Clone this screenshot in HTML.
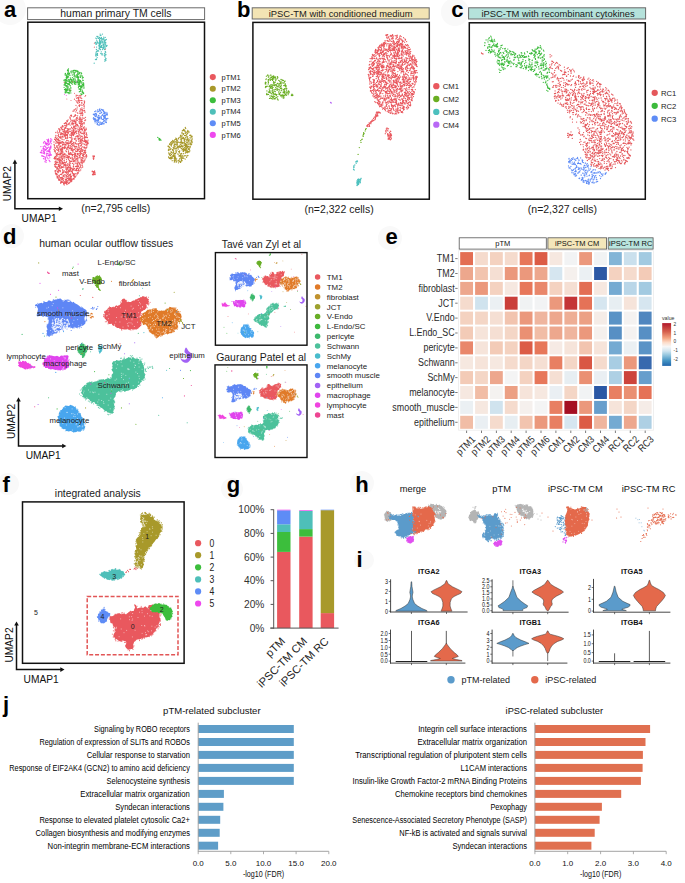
<!DOCTYPE html><html><head><meta charset="utf-8"><title>Figure</title><style>html,body{margin:0;padding:0;background:#fff;width:685px;height:883px;overflow:hidden;}svg{display:block;font-family:"Liberation Sans",sans-serif;}</style></head><body><svg width="685" height="883" viewBox="0 0 685 883" font-family="Liberation Sans, sans-serif"><circle cx="10" cy="9" r="16" fill="#f9f9f9"/><circle cx="455" cy="12" r="14" fill="#f9f9f9"/><circle cx="12" cy="236" r="12" fill="#f9f9f9"/><circle cx="390" cy="238" r="12" fill="#f9f9f9"/><circle cx="8" cy="484" r="11" fill="#f9f9f9"/><circle cx="232" cy="489" r="11" fill="#f9f9f9"/><circle cx="362" cy="483" r="12" fill="#f9f9f9"/><circle cx="364" cy="560" r="10" fill="#f9f9f9"/><path d="M56.4 145.8h0M55.9 143.3h0M68.7 170.6h0M61.7 153.6h0M74 133.9h0M55.5 173.3h0M82.4 115.4h0M76.2 131.8h0M77.6 136.5h0M74.3 138.7h0M81.6 159.7h0M73.9 144.9h0M58 135.7h0M59.2 141.8h0M77.2 165.3h0M84.5 126.8h0M74.6 149.5h0M63.8 132.9h0M54.7 139.4h0M84.3 106.9h0M73.1 175.4h0M84.1 123.8h0M66.4 175.5h0M62 141.4h0M66.8 148.4h0M78 144h0M67.6 134.1h0M76 105.3h0M57.4 131.1h0M84.4 152.4h0M62.7 129.7h0M58.2 172.5h0M70.2 141.3h0M82.8 113.8h0M87.1 145.1h0M63 131.3h0M80.8 145.5h0M82.5 163.2h0M72 130.4h0M76.7 168.3h0M80.1 140.8h0M81.4 128.4h0M73 111.2h0M86.5 137h0M82.7 118h0M63 135.8h0M85.7 130.2h0M74.3 177.2h0M85.9 142.8h0M59.9 140.4h0M73.3 127.8h0M73.3 167h0M73.5 121.2h0M80.9 143.4h0M75.3 143.2h0M78.1 138.6h0M70.6 180.4h0M77.3 166.9h0M59.3 161.2h0M58.9 175.4h0M61.6 181.3h0M59.5 136.9h0M79.1 101.7h0M75.7 143.7h0M81.1 123.1h0M68.6 177.8h0M73.8 159.8h0M55.9 158.8h0M56.2 173.7h0M65.7 147.2h0M64.5 164.9h0M71.4 115.2h0M79.5 147.1h0M70.5 179.8h0M82.5 136.9h0M83 133.6h0M82.9 160.4h0M68 129.7h0M63.1 182.1h0M64.7 130.5h0M67.2 140.5h0M60.9 143.1h0M62 150h0M80.1 156.2h0M84.6 133.3h0M85 153.6h0M82.2 111.9h0M71.5 171.3h0M82.7 149.9h0M77.7 159.2h0M57.6 171.4h0M75.8 153.5h0M80 143h0M88 142.2h0M70.6 158.4h0M75.4 154.9h0M64.5 148.5h0M78.1 157.7h0M71.9 139.7h0M58 176.3h0M69.9 170h0M69.6 122.9h0M58.8 144.8h0M58.5 170h0M84.9 160.1h0M85.2 141.5h0M54 142h0M64.9 171.8h0M64 131.8h0M68.8 123.5h0M57.4 171.3h0M71.7 116.2h0M73.1 161.5h0M79.5 138.5h0M76.4 124.4h0M65.9 125.4h0M64.4 147.6h0M85.5 142.5h0M62.9 148.6h0M80.1 135.3h0M72.2 132.2h0M58.3 143h0M84 118.4h0M62.6 134.1h0M85.2 140.4h0M72.1 158.2h0M79.1 155.3h0M69.9 147.1h0M76.4 125.9h0M62.7 154.3h0M74.2 133.1h0M70 181.9h0M84.7 140.6h0M62.5 182h0M77.4 135.9h0M79.7 143.1h0M64.2 181.3h0M67.6 176.7h0M67.1 131.9h0M66.2 181.6h0M55.6 140.4h0M82.2 165.5h0M62.9 163.8h0M75.4 122.4h0M64.9 123.5h0M70.5 181.7h0M67.4 121.4h0M71.1 179.3h0M81.9 163.1h0M80.9 151.9h0M65.1 130.9h0M78.7 138.2h0M68.4 153h0M58.1 171.8h0M73.7 131.9h0M59.3 175.5h0M65.3 133.8h0M70.5 170h0M84.1 138.4h0M74.7 152.9h0M62.8 151.2h0M77.6 115.8h0M61 167.9h0M73.1 154.6h0M59.6 159.4h0M64.8 148.4h0M68.4 173.8h0M68.7 170.1h0M84.7 139.4h0M54.4 147.1h0M66.8 143.1h0M63.8 144.5h0M57.7 141.9h0M85.5 153h0M59.5 167.1h0M68 172.3h0M72 132.8h0M62.5 161.9h0M55.3 148h0M55.2 171.6h0M74.8 147h0M64.6 135.9h0M68.8 156.3h0M71 120.1h0M81.1 139.1h0M56.8 162.6h0M67.1 181.2h0M71.1 181.7h0M59.7 167.3h0M59.4 176.6h0M82.4 112.3h0M71.6 127.2h0M81.3 109.8h0M76.1 130.7h0M73.3 149.5h0M67.7 168.1h0M80.6 137.8h0M62.8 154.6h0M74.3 156.7h0M75.4 136.9h0M76.7 101.9h0M61.7 149.8h0M61 153.3h0M58.6 180h0M73.5 129.9h0M69.4 180h0M62.6 177.2h0M72.5 134.7h0M55.9 166.5h0M60.9 151.9h0M76.3 169.5h0M64.7 125.6h0M70.1 163.3h0M78.2 172.2h0M63.2 147.3h0M81.4 144.7h0M84.6 101.3h0M62.1 163.5h0M75.9 159.2h0M88.1 140.1h0M78.2 173.2h0M79.2 148.7h0M61.3 153.2h0M78.1 154.1h0M79.6 105.6h0M66.6 169.8h0M82.7 153.9h0M61.1 127.3h0M78.9 131.4h0M87.5 143h0M69.1 166h0M78.5 145.9h0M71 142h0M60.3 142.2h0M56.7 167.3h0M81.4 153.6h0M67.9 133.7h0M56.9 175.9h0M71.4 132.4h0M62.1 139.4h0M80.2 164.3h0M66.1 127.9h0M83.3 156.5h0M59.8 137.5h0M74.1 110.8h0M84.8 120.3h0M64.4 160.1h0M65.3 144.6h0M57.4 132.8h0M81.6 162.6h0M60.7 154.5h0M61.1 133.2h0M67.8 167.6h0M71.4 154h0M58.8 151.6h0M73.9 164h0M61.9 161.7h0M80.9 159.8h0M77.6 154.8h0M64.8 153.7h0M68.5 166.8h0M75.9 121.4h0M69.8 153.1h0M76.7 166.5h0M86.7 144.3h0M74 146.2h0M71.8 154.6h0M72.1 135h0M61.2 158.4h0M68.6 159.6h0M86.7 145h0M81.9 133.5h0M58.4 166.3h0M76 140.1h0M61.8 182.3h0M76.2 169.9h0M70.2 125.1h0M58.3 171.2h0M83.6 122.8h0M62.7 136.4h0M62.4 125.8h0M68.9 154.4h0M66.5 179.3h0M55.9 170.7h0M81 129.6h0M85 152h0M72.4 163.4h0M84.7 147.4h0M55.9 139.9h0M71 142.5h0M70.2 148h0M83.2 132h0M88.2 143.6h0M75.7 128.9h0M66.7 140.5h0M80.8 118h0M68.6 147.3h0M64.1 170.7h0M71.5 123.2h0M65.4 127.1h0M74.4 154.2h0M55.3 161.7h0M75.1 156.2h0M85.7 152.2h0M75.8 159.5h0M77.7 118.1h0M69.9 165.1h0M85.8 156h0M82.6 167.2h0M62.9 125.8h0M65 136.8h0M74 178.5h0M54.1 158.4h0M62.4 162.6h0M55.6 166.1h0M83.8 162.3h0M75.8 160.6h0M78.9 101h0M76.6 169.8h0M64.8 162.3h0M83.9 141.5h0M66.7 149.1h0M66.6 155.1h0M68.5 132.9h0M78.4 170.7h0M74.9 126.4h0M84.9 132.2h0M74.9 176.5h0M68.6 150.1h0M63.5 172.7h0M56.9 147.3h0M60.9 164.1h0M62.1 151.8h0M70.1 117.6h0M80.1 167.6h0M57 168.9h0M62 149.5h0M84.8 144.6h0M74.5 116.2h0M60.2 159.9h0M73.6 134.4h0M81.4 113.3h0M65.9 144.4h0M70.9 148.4h0M81.1 136.4h0M80.7 169.9h0M73.4 174.4h0M74.8 133.9h0M67.6 138.3h0M55.5 167.2h0M59 164.5h0M77.5 125.5h0M80.4 109h0M61.6 179.8h0M84.9 111.9h0M75.8 138.6h0M82.6 140.8h0M78.8 147.3h0M84.3 122.8h0M65 177.1h0M77.2 118h0M64.1 183.6h0M82.1 129.1h0M60.4 137.2h0M61.5 148.8h0M60.2 165.8h0M75.1 142.3h0M61.1 152.3h0M82.2 149.8h0M56.2 162.6h0M65.6 171.9h0M70.5 174.5h0M60.4 171h0M59.6 131.7h0M54.1 144.4h0M78.7 132.6h0M56 174.5h0M71.2 143.8h0M62.6 169.8h0M57.3 159.7h0M54.5 151.2h0M72.1 160h0M84.2 161.2h0M58.2 142.2h0M58.7 150.5h0M59 148.9h0M59.6 170.5h0M67.5 135.9h0M72.2 133.8h0M81 128.9h0M65.6 137.2h0M83.5 104.6h0M68.6 154h0M76 169.1h0M63.2 157.9h0M72.8 178.9h0M62.6 144.4h0M76.5 110.3h0M87.3 143.9h0M70.2 145.6h0M68.1 124.6h0M57 146.7h0M75.2 148.7h0M60.9 160.7h0M73 152.3h0M71.8 132.7h0M62.2 147.5h0M63.8 184.3h0M80.8 113.5h0M84.3 137.6h0M67.4 137.6h0M79.7 113.2h0M66.2 157.7h0M79.7 163.5h0M70.5 167h0M68.5 166.9h0M75.1 132.4h0M69.9 161.7h0M67.5 147.4h0M65.1 167.2h0M71.3 137.9h0M65.2 172h0M73.6 142.5h0M80.9 146h0M72 144.2h0M67.5 130.5h0M66.2 181h0M67.9 147.9h0M69.3 153.3h0M65.9 145.3h0M82.7 143.8h0M85.1 158.9h0M71.5 116.1h0M75.9 151.5h0M68.3 167.3h0M78 100.3h0M83.3 150.1h0M60.8 142.5h0M63.2 155.2h0M72.1 170.3h0M82.1 105.3h0M80.8 127.6h0M57.4 177.2h0M66.1 138.4h0M87.4 137.5h0M82.4 125.9h0M87.4 142.3h0M62.4 133.3h0M70.8 167.7h0M60 130.6h0M57.9 145.6h0M82.7 130h0M55.1 156.7h0M59.3 160.3h0M63.3 171.3h0M69.4 171.4h0M59.5 130.1h0M67.1 181.8h0M87.1 143.1h0M63 176.8h0M66.7 121h0M61.3 174.5h0M71.8 146.3h0M80.8 132.9h0M73.7 126.5h0M65.1 156.6h0M73.5 130.9h0M63.8 134.4h0M77.6 156.7h0M68.3 156.3h0M62.6 172.3h0M75.8 115.5h0M60.2 171.7h0M78.9 121.8h0M77.8 129.8h0M55.4 172.9h0M67.6 163.8h0M68.7 179.4h0M79.7 170.9h0M68.8 143.7h0M58.4 165.1h0M78.4 168.8h0M72.9 121.3h0M66.4 135.2h0M77.3 120.3h0M71.9 138h0M58.9 148.1h0M82.4 146.8h0M59.8 156.9h0M70 165.4h0M60.8 159.9h0M56.8 161.2h0M54.9 166.1h0M65.1 131.5h0M66.8 171h0M55.3 148.4h0M82.5 160.3h0M86.9 142.2h0M56.7 158.8h0M69.4 182.8h0M55.3 137.5h0M63.8 156.5h0M68.6 128.9h0M77.1 170.5h0M73.6 129.7h0M75.2 125.4h0M87.2 141.1h0M64.3 129.3h0M66.9 149.6h0M72.4 148.2h0M62.7 141.8h0M61.8 148.9h0M71.8 150.3h0M84 147h0M73.5 166.2h0M81 104.9h0M68.8 175.9h0M84.3 148.1h0M65.8 165.2h0M82.7 110.5h0M55.4 151.6h0M73.1 168.6h0M86.2 157.7h0M60.6 138.2h0M74.2 109.7h0M57.8 168.4h0M73.2 124.8h0M72.7 158.9h0M59.2 142.9h0M81.8 103h0M82.5 158h0M67.6 174.6h0M85.1 150.3h0M59.8 130.8h0M74 133.1h0M54.1 149.5h0M54.6 139.2h0M63 148.6h0M73.5 165.8h0M80.9 154.1h0M66.6 124h0M64.5 165.2h0M71.7 154.2h0M73.1 134.7h0M70.7 131.4h0M62.1 129.8h0M69.4 148.6h0M64.7 162.1h0M80.9 136.6h0M56.3 141.4h0M61.5 134.1h0M74.9 173.8h0M60.8 162.7h0M84.5 129.1h0M60.5 145.9h0M65.3 164h0M68 158h0M55.9 135.4h0M75.8 128.6h0M74.8 121.9h0M79.2 128.1h0M57 169.5h0M72.7 150.3h0M76.8 151.4h0M79.8 122h0M80.5 166.3h0M63.6 144.7h0M76.8 166.1h0M56 142.9h0M60.2 180.3h0M71.3 154.3h0M81.8 139.3h0M56.2 155.1h0M84.1 105.1h0M68.2 178.5h0M75.8 119.1h0M63.1 137h0M61 164.8h0M64.3 184.9h0M84.2 122.8h0M82.6 124.1h0M70.8 176.1h0M77.7 151h0M74.1 175.4h0M84.7 130.8h0M78 103.2h0M62 136.8h0M84.6 110.3h0M58.6 136.6h0M71.2 178.5h0M61.4 182.6h0M79.4 123.3h0M71.7 134.9h0M76.7 146.5h0M78.9 134.1h0M68.5 183.1h0M67.4 135h0M67.1 120.6h0M58 172h0M65.2 155.2h0M64.9 183h0M75.9 163.5h0M78.8 133.6h0M75.3 157.8h0M75.8 146.4h0M70.4 161.6h0M70.5 118.9h0M86.3 145.2h0M72.3 169.5h0M59.9 170.2h0M76.3 170.7h0M84.2 103.7h0M66.3 168.6h0M70.6 168.2h0M59.1 158.1h0M72.1 120.3h0M65.8 132.5h0M60.9 148.7h0M60.1 161.3h0M57.1 154.3h0M60.9 136.1h0M75.5 131.7h0M69.3 131.4h0M64.2 134.8h0M82.2 130.1h0M74.1 179h0M77.1 128.1h0M80.3 132.4h0M71.2 177h0M54.8 150.6h0M70 171.7h0M70.4 176h0M71 143.7h0M77.3 163.2h0M55.3 158.1h0M80.7 165.7h0M78.7 141.2h0M78 135.7h0M59 128.6h0M63.1 126.7h0M83.9 147.5h0M72.6 131.9h0M71 149.9h0M72.5 134.9h0M65.2 123.4h0M64.1 160.7h0M74.6 138.8h0M69.4 175h0M69 154.6h0M84 106.1h0M60.2 178.8h0M81.8 142.5h0M77.5 125.2h0M77.8 113.2h0M65 147.9h0M59.2 168.3h0M76.3 119.1h0M57.2 139.7h0M68.9 158h0M64 129.7h0M71.2 179.4h0M70.8 173.8h0M63.4 176.3h0M61.8 179h0M86.9 156.1h0M65.5 138.4h0M57.2 147.1h0M74.7 139.4h0M58.5 149.4h0M67 156.6h0M59.8 180.4h0M58 142.4h0M58 140h0M72.6 143.3h0M60.8 134.5h0M71.4 176.1h0M86.8 141.7h0M73.8 158.8h0M80.1 113.1h0M64.1 176h0M74.1 120h0M81.3 160.7h0M62.5 151.2h0M55.3 152.8h0M82.3 129.2h0M70 178.6h0M86.7 135.2h0M77.6 112.9h0M65.5 183.3h0M81.5 141h0M78.9 129.8h0M58.6 170.7h0M81.9 150.4h0M82.7 167h0M64.3 182.1h0M62.2 142.1h0M77.8 160.7h0M81.3 167.8h0M56.9 155.7h0M65.8 150.8h0M81.6 100.4h0M68.5 151.6h0M83.4 152.9h0M69.3 156.4h0M58.1 158.3h0M82.6 115.7h0M85 152.1h0M67.7 142.7h0M82.9 113.9h0M69.8 169.1h0M84 143.9h0M56.5 153.3h0M76 132.1h0M66.6 183.4h0M83 158.4h0M69.5 164.1h0M79.3 164h0M85 112.3h0M80 154.8h0M80.5 124.9h0M68.6 183.5h0M82 157.8h0M58.8 144.1h0M59.6 163.1h0M67.3 182.6h0M60.8 127.4h0M67.4 182.3h0M61 177.6h0M83.1 154.4h0M70.3 147.7h0M80.2 123.5h0M85.9 145.2h0M75.9 122.2h0M55.3 170.6h0M66.2 180.3h0M80.2 157.9h0M82.1 109.5h0M78.1 166.2h0M67.6 168.8h0M60.4 174.4h0M72.1 157.2h0M58.6 128.9h0M68.3 142.9h0M77.2 149.3h0M77.3 164.4h0M82.6 155.4h0M58.5 160.1h0M75.3 123.5h0M75 170.4h0M66.5 159.7h0M83.2 127.8h0M75.9 111.9h0M56 138.1h0M65.8 128.3h0M61.5 167.8h0M55 166.4h0M71.5 136.2h0M75.9 161.9h0M67.9 143.7h0M61.8 174.1h0M58.6 138.8h0M78.6 138.8h0M60.5 134.4h0M60.7 162.9h0M79 105.4h0M75.9 122.5h0M59.6 154h0M66.3 176.8h0M59.3 166.4h0M70.5 170.2h0M57.7 148.1h0M67.3 169.3h0M74.3 132.4h0M84.8 141.4h0M74.3 154.3h0M55.8 140.2h0M77.4 161h0M76.6 159.1h0M58.8 177.6h0M61.9 133.5h0M82.7 154.1h0M81.9 103.3h0M62.3 179.5h0M54.5 164.7h0M82.1 113.9h0M57.6 167.2h0M73.3 170.1h0M75.5 150.8h0M64.1 133.9h0M82.2 139.1h0M76.6 117.7h0M66.7 125.9h0M59.1 151.8h0M80.7 100.6h0M57.9 159.1h0M72.1 138.9h0M75.2 155.4h0M79.5 168h0M83.1 161.2h0M77.7 172.6h0M69.3 160.3h0M64.4 129.8h0M57.2 137.8h0M86 128.1h0M64.8 153.5h0M72.4 155.5h0M86.6 134.8h0M77.9 159h0M80.2 121.2h0M54.9 159h0M63 182.4h0M74.5 156h0M78.2 126h0M80.8 115.2h0M64.5 134.9h0M69.4 162.2h0M86.4 129.2h0M55 170.8h0M74.4 156.5h0M67.3 155.7h0M66.6 161.7h0M81.4 121.5h0M81.7 124.4h0M80.6 119.1h0M61.5 132.8h0M76.3 140.3h0M55.7 156.7h0M57.9 139.3h0M70.3 180h0M73.5 174.3h0M72.2 120.5h0M84.1 118.1h0M63.2 178.9h0M79.4 106.4h0M70.7 115.4h0M76.7 144h0M70.3 163.2h0M62.1 142.6h0M66.7 177.1h0M61.8 151.1h0M80 149.8h0M67.9 158h0M71.8 181h0M65.1 134.8h0M77.2 102h0M59.6 170.7h0M75.1 122h0M73.5 160.8h0M74.2 175.7h0M69.7 134.9h0M77 173.5h0M63.3 180.4h0M72.4 172.5h0M76.7 143.8h0M62.4 156.2h0M72.2 157.8h0M79.8 153.3h0M77.4 168.3h0M70.5 157.9h0M81.3 119.9h0M79.6 130.7h0M80.7 110.9h0M58.6 134.7h0M56.6 149.7h0M74 130.4h0M54.5 157.7h0M66.8 182.2h0M83.1 154.8h0M80.6 125.7h0M82.6 151.3h0M84.4 150.3h0M54.4 145.7h0M59.9 159.4h0M65.6 144.6h0M68.5 140.9h0M57.1 153.3h0M63.1 167.6h0M65.8 142h0M86.3 147.9h0M59.3 159.2h0M78.9 119.6h0M81.9 108h0M60.6 160.4h0M81.5 119.7h0M77.1 148.3h0M60.6 149.7h0M76 120.6h0M68.7 145.5h0M55 161.9h0M64 154.6h0M75.4 177h0M64.8 156.6h0M82.8 161.2h0M81.6 126.4h0M59.2 179.6h0M70 116.9h0M71.6 144.5h0M78.9 145.2h0M70.8 121.6h0M61.6 127.2h0M78.8 165.8h0M69.5 179.2h0M75.5 109h0M76.1 123.8h0M70.2 152.9h0M56.3 164.1h0M64 165.6h0M72.5 171.1h0M60 165.3h0M70.4 181.7h0M64 139.7h0M79.5 111.1h0M83.7 127.4h0M79.9 129.2h0M68.5 170.2h0M75.1 176.8h0M65.3 172.5h0M63.2 131.2h0M66.2 132.3h0M61.8 177.7h0M76.1 175.8h0M62.4 178.5h0M82.3 121.6h0M67.2 171.7h0M72.7 128.7h0M66 172.1h0M79.9 157.8h0M69.8 129h0M79.8 116.9h0M67.9 168.5h0M64.7 154h0M70.3 176.8h0M64.8 174.6h0M57.6 150.2h0M72 141.3h0M84.6 156.8h0M66.5 131h0M55.1 150.5h0M78.9 136.7h0M72.2 170.1h0M64.4 128.1h0M60.4 146.7h0M60.3 177.7h0M71.4 176.7h0M87.2 143.6h0M81.9 136.2h0M71.8 140h0M80 120.2h0M85.5 117.3h0M79.1 164h0M81.7 157.9h0M70 154.5h0M65.6 165.5h0M75.5 125.9h0M64.9 143.1h0M70.6 137.6h0M70.9 180.7h0M60.8 150.6h0M68.7 130.1h0M79.3 130.3h0M86 134.3h0M64.3 147.3h0M66.7 172.7h0M74.5 157.8h0M86.9 146.9h0M81.8 102.3h0M70.6 142.3h0M85.1 129.9h0M86.3 154.6h0M65.5 133.1h0M81.3 122.3h0M67.4 131h0M72.7 123.6h0M82 112.5h0M73.1 178.7h0M86.2 137.1h0M57.2 174.5h0M78.6 153.8h0M79.6 105h0M77.7 102.9h0M81.5 149.2h0M84.7 151.3h0M67.7 180.6h0M85.8 147.9h0M60 132.7h0M68.4 157.2h0M79.3 134.9h0M64.9 132.2h0M65 164.7h0M59.1 165h0M85.6 150.1h0M84.3 137.7h0M62.9 162.4h0M57.3 142.2h0M61.4 155.9h0M66.8 178.6h0M82.1 164.8h0M84 134.3h0M59 158h0M58.5 154.4h0M62.6 169.6h0M70.3 161.4h0M65.9 179.7h0M58.7 169.6h0M60.4 142.7h0M59.6 179.4h0M61.6 177.4h0M72.5 173h0M57.3 178h0M77.7 163.6h0M70.1 170.3h0M73.2 134.6h0M58.7 140.2h0M63.2 131.4h0M80.5 150.3h0M84.8 131.4h0M66.5 181.1h0M72.9 173.7h0M66.5 151.7h0M61.1 143.3h0M83.1 157.1h0M78.8 100.2h0M68.8 182.8h0M85.4 150.3h0M63.2 175.2h0M65.2 182.5h0M59.5 162h0M66.4 176.9h0M74.4 168.4h0M71.4 149.1h0M68.3 146.4h0M55.9 136.1h0M67.4 128.7h0M61.7 157.2h0M69.7 143h0M75 115.5h0M76.5 136.2h0M71.8 180h0M83.5 155.3h0M78.9 143.6h0M77.3 137h0M57.1 177.1h0M61.7 134h0M57 158.7h0M65.6 122.7h0M61.7 134.2h0M57.4 142.9h0M60.7 157.2h0M82.3 140.4h0M78.2 149.4h0M55.5 161.1h0M74.2 161.7h0M78.2 131.3h0M63.6 183.5h0M84.1 154.4h0M84.3 161.2h0M67.2 157.3h0M73.6 116.8h0M70.8 128.8h0M71.7 150.2h0M63.6 142.9h0M68.5 156.7h0M72.5 123.6h0M78.5 166.7h0M62.6 179h0M67 124.8h0M78.6 169.9h0M79.4 118.2h0M66.4 126.2h0M80.2 162.6h0M62.1 167h0M77.5 154.2h0M61.9 128.8h0M81.7 162.9h0M66.8 123h0M84.2 137.5h0M64.9 183.2h0M83.7 128.3h0M85 136.5h0M80.9 132h0M85.4 137.5h0M74.7 121.8h0M67.5 132.4h0M66.9 165h0M77.6 153.3h0M54.6 157.6h0M85.6 119.9h0M74 127.5h0M65.3 155h0M64.8 135.6h0M62.3 173.2h0M74.4 132.2h0M81 140.9h0M55.8 132.5h0M75.7 166.4h0M73 133.1h0M70 118.1h0M69 143.4h0M78.4 144.1h0M59.8 143.6h0M66.9 173.5h0M84.5 130.6h0M75.4 148.1h0M57.9 156.1h0M65.3 128h0M65.7 135.6h0M66.5 134.3h0M77 156.8h0M68.1 119.9h0M69.9 171h0M79.5 102.5h0M71.2 140.3h0M59.9 155.1h0M62.9 155h0M75.3 114.7h0M64.9 147h0M70.8 152.7h0M64.7 158h0M75.4 166.6h0M61.7 137.8h0M73.7 164.3h0M69.6 182.8h0M60.1 170.7h0M82.9 158.8h0M63.6 178.6h0M82.2 162.5h0M75.3 173.6h0M78.3 139.6h0M63.7 163.6h0M62.5 159.4h0M66.8 143.5h0M54.8 164.4h0M84.5 130.5h0M66 162.5h0M68.1 144.8h0M86 140.3h0M66.2 169.4h0M63.5 154.3h0M67.1 149.4h0M62.8 170.9h0M74.9 153.5h0M81.3 157.9h0M69.1 157.5h0M84.1 133.1h0M60.3 149.3h0M70.5 145.9h0M71.5 171.5h0M80.7 148.7h0M61.5 166.7h0M79.3 119.5h0M76.5 131.7h0M56.2 154.9h0M59.3 147h0M57.4 171.6h0M62.6 125.6h0M66.9 167.3h0M55.2 164.6h0M86.4 133.5h0M69.3 137.3h0M82.9 140.6h0M68.1 176.1h0M77 147.8h0M74 120.9h0M84.1 106.8h0M75.8 154h0M78.8 162.2h0M76.3 156.1h0M74.7 128.8h0M77.3 124.5h0M64.6 146.6h0M57.9 162.4h0M71.4 135.4h0M67.3 137.2h0M83 133.6h0M69.6 174.6h0M69.3 165.1h0M59.2 144.3h0M73.5 135.5h0M69.4 178.2h0M74.4 160.7h0M78.9 101.7h0M58.3 140.4h0M58.7 170.1h0M55.5 163.4h0M86.9 134.9h0M84 108.6h0M78.1 150.2h0M63.6 142.4h0M69.2 124.1h0M64.3 123.5h0M56.9 168.4h0M71.5 161.4h0M68.3 176.2h0M76.5 169.1h0M56.7 173.7h0M62.9 152.6h0M70 160.9h0M77 108.9h0M76.6 158.7h0M60.6 182h0M68.7 132h0M79.7 155.5h0M73.8 144h0M62.3 163.4h0M63.2 167.2h0M64.8 131.5h0M61.3 128.7h0M59.3 161.2h0M83.5 128.1h0M78.7 149.7h0M66.9 184.5h0M58.2 172.4h0M78.7 169.1h0M73.1 169.4h0M72.7 122.7h0M60.6 160.5h0M81.1 153.7h0M65.3 179.2h0M86.4 155.1h0M70 164.9h0M57.7 152.9h0M62.6 158.4h0M65.6 181.1h0M69.5 167.7h0M56.6 138.6h0M70.7 135.2h0M68.3 172.6h0M74.4 120.3h0M71.1 133.7h0M71.5 127.6h0M68.7 171.4h0M63 153h0M72.8 132.1h0M81.8 151.1h0M74.8 174.4h0M74 132.4h0M80.5 152.7h0M72.9 179.3h0M85.8 148.3h0M54.9 139.3h0M70.6 154.2h0M65.1 174.8h0M81.8 120.3h0M61.8 160.2h0M75 127.8h0M62.5 144.1h0M66 168.6h0M73.4 166.1h0M67.8 146.8h0M82.2 119.6h0M80.6 166h0M77.8 158.4h0M73.7 123.5h0M84.9 120.7h0M80.6 126.2h0M63.7 165.9h0M82.4 113.6h0M66.1 175.1h0M56.5 164.3h0M77.2 107.1h0M77.1 174.6h0M62.3 167.4h0M81.3 145.4h0M58.3 132.9h0M63.7 163.1h0M76.2 141h0M73.7 173.7h0M80.7 113.4h0M58.2 154.4h0M86.1 156.4h0M71.9 124.6h0M70.2 177.9h0M86.2 140.8h0M58.7 178.7h0M84.4 135.3h0M67 170.8h0M80.2 140h0M60.8 168.3h0M67 135.4h0M72 149.8h0M74.5 146.4h0M62.6 126.9h0M66 166.8h0M62.1 166.6h0M72.7 145.5h0M56.2 157h0M67.2 178.5h0M76.7 119.2h0M75.7 123.8h0M82.4 138.7h0M66 168.9h0M76.7 133.5h0M60.6 183.2h0M72.5 154.5h0M81.2 161.4h0M62 160.1h0M79.1 129.9h0M73.9 169.6h0M67.1 184.2h0M84.5 102.5h0M67.5 165.7h0M61.2 167h0M80.3 141.8h0M80.8 118.6h0M80.6 154.4h0M79.5 157.1h0M72.6 151.1h0M58 164.2h0M63.3 175.5h0M63.8 164h0M62.6 149.4h0M64.5 144.9h0M79.2 129.3h0M81.5 148h0M62.2 145.7h0M66.1 142.6h0M60.6 153.5h0M59.1 145.1h0M83.9 110.8h0M80.6 140.2h0M65.7 134h0M65.9 182.5h0M60.9 146.6h0M58 172.5h0M80.1 151.3h0M79.1 127.1h0M68.2 164.1h0M86.5 132.8h0M70.4 169.4h0M56.7 173.4h0M68.7 183.2h0M79.3 151.7h0M86.1 137.5h0M82.3 123.5h0M77.1 149.8h0M68.3 180.8h0M71.1 142h0M71.8 168.5h0M84.5 135.9h0M62.2 139.3h0M73.8 176h0M58.2 135.7h0M86 141.4h0M78.2 162.3h0M64.4 162.3h0M73.3 150.8h0M59.8 129.4h0M79.9 155.3h0M71.9 148h0M76.5 156h0M79.4 100.3h0M80.4 95.9h0M78.5 97.9h0M78.6 98.9h0M77.7 97.7h0M78.5 97.6h0M85.6 95.6h0M78.1 98.1h0M80.7 97.6h0M76.1 95.1h0M76.7 98.3h0M77.2 95.4h0M76.1 96.8h0M82.1 100.6h0M79.1 97.7h0M76 100.6h0M84.2 101h0M74.5 99.2h0M79 96h0M81.7 98.3h0M81 95.7h0M80.7 97.9h0M93.2 156.5h0M94.2 156.5h0M93.8 158.7h0M93.5 159.3h0M93.7 157.8h0M94.4 156.5h0M94.2 155.8h0M93.4 157.8h0M93.3 157.6h0M93.3 158.5h0M93 156.2h0M93 155.9h0M92.5 171.5h0M93.3 172.3h0M95 172.3h0M93.9 172.3h0M95.1 174.6h0M93.7 174.6h0M93 174.9h0M94.1 173.6h0M93.5 171.7h0M92.5 174.5h0M93.4 173.6h0M93.8 172.9h0M92.8 171.3h0M93.3 173.6h0M94.8 172.4h0M92.3 171.7h0M92.8 174.2h0M94.2 172h0M93 171.8h0M93.1 172.1h0M95.2 174h0M94.8 174.5h0M94.6 171h0M92.2 171.2h0" stroke="#E9585E" stroke-width="1.3" stroke-linecap="round" fill="none"/><path d="M174 146.1h0M188.2 148.2h0M192.2 136.3h0M188.9 131.3h0M184 139.9h0M189.9 137.8h0M183.7 151.6h0M168.6 149.1h0M178.5 160.6h0M183.4 150.8h0M180.4 144.2h0M181.5 153.3h0M190 144h0M168.6 157h0M171.1 148.8h0M187.2 131.7h0M174.9 157.7h0M184.9 131h0M184.8 155.7h0M184.1 138.6h0M177.2 147h0M181.4 141.6h0M187.7 130.3h0M175.8 160.7h0M186.8 146.4h0M187.3 147.7h0M170 158.6h0M175.6 141.8h0M185.3 155.7h0M186.7 152.1h0M176.9 139.5h0M171.4 157h0M179.1 156.3h0M176.1 138.7h0M180.4 153.9h0M189.7 139.8h0M185 141.6h0M181.5 140.2h0M174.4 159h0M187.7 138.1h0M187.9 146.1h0M181.5 146.5h0M177.8 147.2h0M184.4 150.2h0M187.8 152h0M187.1 132.6h0M180.9 154.8h0M171.4 146.1h0M177.5 144.3h0M174.5 161.7h0M187.2 151.6h0M175.2 153.4h0M179.8 155.8h0M176.7 158.8h0M184.8 143.3h0M181.7 156.1h0M180.8 161.7h0M185.5 144.7h0M188.9 132.5h0M176 152.8h0M188.2 140.5h0M169.4 147.6h0M181.6 143.1h0M175.3 148.8h0M176.2 162.2h0M170.7 142.3h0M180.8 137.9h0M184.5 147.3h0M182.6 137.9h0M186 151.9h0M185.5 144.1h0M179.2 137.4h0M183 133.8h0M174.3 153.7h0M176.3 148.6h0M170.3 157.5h0M176 159.8h0M175.8 138.1h0M182.4 156.8h0M169.1 146.6h0M181 161.6h0M191.3 136.6h0M181.6 140.1h0M182.1 160.7h0M174 156.7h0M191.3 136.3h0M176.8 148h0M173.5 152.6h0M183.9 130.5h0M185.1 139.6h0M179.1 155.7h0M180.9 137h0M180.6 162.4h0M185.9 151.2h0M188.7 141.8h0M181.6 157.7h0M172.5 158h0M168.1 146.4h0M182 132.4h0M190.7 142.9h0M172.2 141.9h0M182.4 142.5h0M185.5 131.8h0M173.9 156.2h0M186.5 148.7h0M185 131h0M173.1 142.9h0M192.3 138.8h0M175.5 144.2h0M171.6 141.6h0M185.1 138.8h0M187.6 133.7h0M170.1 149.7h0M178.9 160.2h0M170.1 154h0M184.4 140.4h0M170.7 149.1h0M186.6 144.1h0M179.4 151.8h0M182.9 142.3h0M172.2 143.8h0M181.4 159.4h0M183.4 153.7h0M173.7 152h0M191.2 142.8h0M183.9 158.3h0M175.2 144.3h0M186.3 149.8h0M168.2 146h0M183.4 134.4h0M189.1 142h0M191.7 140h0M183.1 146.6h0M174.1 155.2h0M175.6 158.9h0M175 149h0M187.9 131h0M187.1 141.2h0M180.7 142.3h0M178.5 162.8h0M186 152.3h0M188.4 151.3h0M183.4 138.4h0M174.2 160.3h0M176.1 139.7h0M170.3 153.2h0M187.9 155.5h0M187.5 131.4h0M180.5 135.5h0M192.3 142h0M186.9 156h0M186.4 135.2h0M175.7 139.4h0M185.2 145.8h0M186.8 139.2h0M177.9 153.9h0M185.2 159.1h0M175.3 157.6h0M186.1 147.7h0M177.8 147.5h0M168.7 152.9h0M185.9 149.3h0M172.7 153.1h0M188.3 149.4h0M173.2 147.4h0M171.2 158.2h0M175.1 146.5h0M179.6 159.8h0M182.1 150.1h0M182.2 155.4h0M173.1 150.8h0M174 140.9h0M175.7 142h0M176.6 138.8h0M186.1 144.8h0M190.2 143.6h0M172.7 156.6h0M180.1 147.3h0M183.1 151.3h0M183.3 149.4h0M169.4 154.8h0M172.5 158.1h0M177.1 160.8h0M174.1 147.8h0M184.5 135.5h0M187.6 133.7h0M183.6 150h0M180.7 157.8h0M186.5 134.7h0M189.8 150.7h0M182.4 146.2h0M181.8 148.7h0M169.5 154.9h0M173.6 148.3h0M180.8 139.3h0M191.3 141.3h0M178.2 146.5h0M186.9 146.5h0M185.6 150.1h0M186.7 134.9h0M181.8 142.9h0M173.3 155.2h0M173.1 152.7h0M179.8 142.5h0M185.3 153.2h0M187.7 136.6h0M184.4 144.9h0M191.2 143.2h0M179.3 146.3h0M171.8 143.1h0M176.3 145.1h0M180.9 141.1h0M174.6 139.8h0M175.5 153.8h0M179.9 155.8h0M172.7 140.4h0M177.6 141h0M191.8 142.9h0M183.7 148.5h0M188.4 139.1h0M181 148.1h0M169.2 153.9h0M176.9 150.2h0M174.6 160.2h0M190 135.1h0M174.3 144.6h0M172.8 155.7h0M187.2 152.8h0M187.5 131.3h0M189.9 140h0M188 144.1h0M190 144.3h0M171.6 158.6h0M182 158.2h0M171.3 144.4h0M174.1 160.3h0M185.7 145.4h0M182.9 158.1h0M171 145.5h0M182.2 143.7h0M185.6 146.5h0M175.3 157.1h0M177.3 143.3h0M174 153.9h0M180.3 161.9h0M189.9 143.3h0M170.1 143.5h0M180.5 155.4h0M182.9 130.5h0M186.4 142.3h0M190.8 135.1h0M189.6 135.3h0M192 139.9h0M185.6 128.3h0M180.5 146.5h0M170 148h0M178.7 138.9h0M188.4 152h0M170.6 155.6h0M186.7 144.1h0M170.8 149.1h0M183.2 158h0M192 136.5h0M174.2 158.3h0M170.3 155.6h0M190.1 147.3h0M182.8 149.2h0M186.9 145.7h0M184 130h0M187.6 146.8h0M176.5 161.8h0M182.1 135.7h0M181.7 157.9h0M176.8 142.7h0M183.6 133.6h0M182.2 138.7h0M179.4 152.8h0M175.4 148.7h0M188.2 143.9h0M183.4 137.5h0M174 145.5h0M180.9 135.1h0M186.8 145.1h0M191.1 136h0M169.3 149.8h0M184.6 139.2h0M178.6 151.7h0M187.3 151.6h0M182.3 130.8h0M168.3 150.1h0M181.9 160.4h0M181.5 160.2h0M179.3 145.7h0M174.6 143.8h0M191.1 144.7h0M172.5 149.5h0M180.3 144.2h0M185.2 148.6h0M183.9 145.1h0M188.6 148.8h0M190.3 146.7h0M171.6 152.5h0M183.8 156.2h0M169.7 143.8h0M187.9 139.4h0M171.1 158.3h0M185.3 127.4h0M169.1 147.2h0M182 133.6h0M184 150.4h0M169.4 158.4h0M181.2 160.8h0M185.2 133.3h0M190.2 144.8h0M175.7 150.9h0M185.4 143.7h0M174.4 142.2h0M185.5 135.3h0M171.5 144.5h0M184.1 129.5h0M174.3 162.1h0M174.2 154.9h0M179.8 158.4h0M185.2 149.5h0M179.7 151h0M185 131.7h0M175.3 157.8h0M181.8 145.5h0M185.4 144.8h0M177.2 147h0M171.5 157.9h0M174.6 156.1h0M183.9 148.9h0M186.2 136.7h0M188.5 146.6h0M186.6 157.3h0M173.9 141.9h0M189.6 151.8h0M179.8 146.7h0M176.5 151.8h0M181 145h0M184.4 139.4h0M192 137.1h0M180.1 161.6h0M186.7 140.2h0M174.5 160.6h0M168.8 157.5h0M177.3 142.4h0M182.8 146.1h0M187.1 150.4h0M184 129.8h0M176.7 144.1h0M183.5 129.3h0M181.6 153.7h0M171.5 154.5h0M185.6 146.8h0M183.4 151.2h0M175.7 158h0M187.2 137.6h0M176.5 141.1h0M189 146.3h0M183.4 142.9h0M179.1 161.6h0M174.5 146h0M171.2 145.3h0M187.6 142.7h0M171 158.9h0M168.6 150.5h0M178.1 154.3h0M178.5 142.2h0M177.6 145.8h0M174.6 161.4h0M181.3 139.7h0M185.7 128.5h0M184.6 140.2h0M190.9 137.9h0M178.4 138.5h0M180.9 137.2h0M184.4 141.9h0M185.3 137.6h0M179 147.2h0M185.6 150.6h0M184.2 139.4h0M190.4 135.5h0M171.1 151.7h0M182.1 136.1h0M187.9 151.4h0M178.3 149h0M184 143h0M191.3 140.5h0M183.6 130.3h0M176.9 140.5h0M180.4 136.2h0M184.8 145.4h0M189.5 149.3h0M183.1 142.8h0M181.3 137h0M170.6 158.4h0M182 158.6h0M174.9 147.9h0M174.5 157h0M172.8 150.4h0M181.5 138.8h0M169.5 144.6h0M180.7 156.6h0M175.2 156h0M173.4 149.9h0M185.3 145h0M170.3 144.1h0M191.2 141.2h0M181.5 142.2h0M189.7 148h0M172.2 160.7h0M188.7 140.7h0M182.7 147h0M186 133h0M184 149.2h0M191.6 144.7h0M188.5 144.2h0M173 141.7h0" stroke="#A8992A" stroke-width="1.3" stroke-linecap="round" fill="none"/><path d="M65.4 83.8h0M68.3 87h0M67.4 86.6h0M77.9 78.9h0M82.3 90.2h0M79.6 84.3h0M69.2 92.4h0M70.8 90.1h0M80.4 80.5h0M77.3 82.7h0M64.1 80.7h0M65.8 90.6h0M65.6 91.7h0M68.5 72h0M79.4 86.3h0M72.3 84.2h0M74.3 82.7h0M73.4 79.3h0M78.1 71.4h0M79.6 82.8h0M71.1 71.1h0M65.7 82.7h0M82 91.3h0M67.6 88.2h0M80.5 81.1h0M81.6 73.4h0M70.7 82h0M78.8 80.3h0M70.1 91.3h0M71.9 79.5h0M68.4 81.2h0M78.4 78h0M77.5 81.5h0M69.8 82.9h0M65.1 73.9h0M67 90.9h0M69.4 81.9h0M67.4 76.6h0M82.5 80.2h0M68.6 84.2h0M66.1 82.2h0M77.2 70.8h0M75.2 76.6h0M79.2 84.7h0M82.6 84.5h0M67.6 73.4h0M65.1 79.5h0M69.7 80.8h0M81.9 83.2h0M79.2 88.6h0M69.5 84.8h0M71.6 81h0M67.3 90.5h0M67.1 76.7h0M81.4 94.4h0M68 69.4h0M79.6 72.7h0M66.4 77.9h0M65.5 80.9h0M71 87.9h0M81.3 73h0M82.8 92h0M75.5 82.4h0M67.3 76.9h0M68.4 73.7h0M76.5 77h0M79.7 83.6h0M81.3 81.9h0M76.9 74.8h0M78.2 79.2h0M78.7 83.9h0M66.7 76.4h0M76.9 82.8h0M78.6 77.2h0M73.7 81h0M74.4 75.3h0M76 75.3h0M68.1 74.6h0M82.3 78.1h0M82 87.8h0M69.4 83.1h0M76.9 71.5h0M74.5 81.5h0M77.7 76.1h0M82.6 84.9h0M65.3 90h0M82.1 76.5h0M81.1 75h0M80.4 86.6h0M83.6 83.6h0M79 86.1h0M72.1 81.6h0M74.3 74.2h0M69.2 90.7h0M81.3 86.8h0M78.1 81.9h0M64 80.2h0M73.5 70.5h0M69.1 90.2h0M64.5 89.5h0M80.3 91.3h0M69.1 93h0M71.5 80.3h0M83.5 82.8h0M77.9 71.4h0M66 90.2h0M69 93.7h0M77.8 73.5h0M78.5 76.9h0M74.7 70.5h0M81 89.2h0M70.8 71.9h0M70.5 88h0M75.5 72h0M68.8 81h0M73.1 72h0M79.3 89.4h0M70.3 82.8h0M69.2 93.6h0M70.2 79.6h0M70.3 85.6h0M82.1 86.6h0M78.8 81.8h0M79.9 86.2h0M65.1 81.1h0M69.4 84.5h0M72 80.5h0M74.9 84h0M82.2 75.9h0M69.5 73.4h0M66.1 90.8h0M81.7 94.2h0M65.2 75.1h0M69.1 80.9h0M77.9 72.6h0M66.3 77.2h0M65.9 89.5h0M80.5 90.7h0M77.3 76.4h0M68.4 92.6h0M65.8 85.5h0M66.8 86h0M77.7 74.6h0M73.7 74.1h0M81.8 85.1h0M78.1 84.8h0M65.1 91.8h0M79.9 82h0M76 81.4h0M79.4 82.5h0M69.5 82.1h0M78.7 74h0M74.3 83.8h0M75.8 80.6h0M82 82.1h0M80 86.4h0M66.3 75.3h0M70.3 77.8h0M74 76.2h0M80.4 76.9h0M66.8 89.7h0M72.4 77.7h0M82.3 92.6h0M79.7 73.1h0M68 77.4h0M67.5 81h0M66.5 85.7h0M72.3 75h0M78 77.1h0M79.4 91.6h0M69.9 75.4h0M78.2 72.3h0M83.8 85.7h0M69.7 79.6h0M76 70.5h0M83.9 88.2h0M80.6 88.2h0M67.5 74.8h0M64.6 83h0M65.5 73.5h0M67.4 92.7h0M80.1 76h0M66.7 78.5h0M80.1 82.8h0M80.3 77.4h0M78.8 81.8h0M79.6 73.7h0M69.6 74.1h0M81.4 87h0M67 87.6h0M64.6 80.8h0M69.1 88.6h0M78.7 86.5h0M67.9 69.6h0M82.4 78h0M83 85.6h0M75.1 79.4h0M70.7 78.9h0M68.4 76.7h0M79.3 91.8h0M66.4 82.1h0M79.2 89h0M71.8 72.9h0M83.7 84.5h0M77.3 77.6h0M66.1 83.5h0M75.8 84.2h0M67.7 70.9h0M78.4 87.6h0M77.6 75.2h0M65.6 88.9h0M64.1 84.9h0M74.9 70.4h0M66.2 92h0M83.2 77.5h0M68.1 72.3h0M68.3 79.5h0M70 82.3h0M66.1 86.3h0M72.2 70.9h0M73.7 78.3h0M67.5 70.5h0M75 77.9h0M84 87.1h0M76.3 75.2h0M72.8 82.4h0M71.6 83.3h0M65.7 79.6h0M80.6 87.9h0M67.9 84.7h0M67.4 77.8h0M83.5 93.5h0M83.3 80.3h0M80 85.5h0M79.9 72.4h0M65.5 82.3h0M67.5 83.4h0M80.8 93.8h0M77.7 80.1h0M72.5 80.8h0M69.6 73.1h0M82.4 78h0M81.9 83.3h0M82.4 92.1h0M78.5 80.3h0M68.8 83.3h0M70.3 90.3h0M64.7 85.2h0M70.8 79.5h0M83.6 93.6h0M74.7 83.3h0M67.9 89.3h0M82.9 84.9h0M78.2 82.9h0M66.5 80.6h0M66.6 79.9h0M65 84.5h0M68.5 74.2h0M64.1 87.3h0M75.8 81.3h0M71.1 82.3h0M70.8 90.7h0M80.6 89.4h0M74 81.6h0M68.5 68.8h0M74 80.4h0M83.6 93h0M72.2 81.5h0M66 88.3h0M74.5 72.9h0M67.8 81.1h0M69.3 89.3h0M70.8 92.9h0M70.2 90.8h0M65.9 86.2h0M82.2 94.1h0M73.8 74.2h0M66.3 74.9h0M79 83.6h0M66.5 76h0M65.2 92.9h0M79.4 80.9h0M68.1 75.2h0M67.8 85h0M76.1 82.1h0M79.8 82.4h0M70.3 86.1h0M73.9 72.2h0M79.3 79.8h0M81.2 86.1h0M83.7 83.7h0M80.4 77.4h0M65.9 92.7h0M65.1 92.8h0M83.1 85.9h0M83.4 84.5h0M79.2 84.2h0M68.4 70.6h0M79.2 80.4h0M66.4 83.2h0M159.2 140.1h0M161 140.2h0M159.7 140.2h0M159.9 138.9h0M159.4 139.1h0M157.8 137.4h0M160.2 139.5h0M159.6 138.7h0M159 138.4h0M159 139.6h0" stroke="#3CBE3C" stroke-width="1.3" stroke-linecap="round" fill="none"/><path d="M101.4 38.5h0M95.9 44h0M103.7 45h0M99.9 47.7h0M95.4 42.7h0M101.4 37.4h0M102.9 42h0M101.6 47.4h0M102.8 49h0M103.2 48.6h0M96.6 47.1h0M99 48.7h0M104.5 49.5h0M104.1 40.1h0M101.4 46.5h0M95.9 42.5h0M101.9 45.4h0M99.2 43.6h0M103.9 39.9h0M103.2 48.4h0M99.6 42.3h0M100.9 47.4h0M98.4 38.4h0M99.8 44.3h0M101.1 45.6h0M100.1 34.1h0M99.7 43h0M102.1 41.2h0M99.2 44.3h0M97.3 41.6h0M98.4 42.9h0M103.3 42.1h0M104.1 43.9h0M96.2 44.4h0M100.9 46.1h0M106.3 39.4h0M105.2 37.4h0M104.9 41h0M100.6 41.8h0M99.6 37.4h0M103.4 43.9h0M95.8 38.1h0M98.7 43.1h0M99.6 49.1h0M97.9 36.5h0M100.4 38.3h0M103.2 48.1h0M96.5 38.8h0M96.8 40.7h0M99.5 45.6h0M100.2 44.2h0M96.8 43.7h0M105.6 48.1h0M96.9 36.4h0M105.8 45.1h0M102.5 34.1h0M103.9 46.7h0M102.5 39.7h0M99.1 46.9h0M100.2 40.9h0M98.9 45.5h0M105.3 40.2h0M100.2 46.8h0M106.7 46h0M103.5 47.2h0M101.5 40h0M95.3 42.3h0M99.4 46.5h0M103.1 44.7h0M101 35.2h0M105 46.1h0M100.8 42.9h0M104.7 41.8h0M100.8 41.6h0M103.9 45.7h0M99.2 46.4h0M99.6 44.7h0M99.7 48.4h0M106.3 46.4h0M99.7 39.4h0M100.3 43.6h0M95.6 42.6h0M105.7 43h0M107 45.5h0M103.7 46h0M100.2 35.6h0M105.3 48h0M103.7 37.2h0M101.1 42.1h0M99.5 41.7h0M100.6 49.7h0M102.6 49.6h0M104.3 39.9h0M102.2 42.9h0M103.9 38.6h0M103.2 39.7h0M104.4 41.7h0M105.8 42.3h0M102.8 47.2h0M105.7 40h0M103.8 47.3h0M99.5 40.5h0M99.5 39.3h0M100.1 47.5h0M104.5 42.8h0M102.8 38.6h0M104.2 47.9h0M99.7 41.8h0M97.8 37.8h0M105.3 44.2h0M100.5 44.1h0M99.4 43.1h0M97.4 42.5h0M99 38h0M103.9 39.6h0M96.4 49.4h0M97.2 57.6h0M97.4 54.1h0M97.4 54.2h0M95.4 59.6h0M96.1 52.1h0M95.9 55.6h0M98.7 51.1h0M96 53.7h0M97.5 53.4h0M97.6 50.9h0M97.8 50.7h0M97.7 51h0M96.5 49.7h0M97.3 55.4h0M97.6 55.2h0M96.5 59.5h0M96.1 54.1h0M96.2 54.4h0M96.5 51.6h0M96.3 58.9h0M95.6 55h0M96 56.2h0M98 50.4h0M96.8 51.3h0M96.1 53.1h0M106 60.2h0M105.7 55.1h0M105 53.1h0M105 61h0M104.2 55.1h0M104.7 56.1h0M105.1 59.4h0M105.6 58.8h0M104.6 53.6h0M105.3 51.5h0M106.1 58.6h0M105.1 54.8h0M105.7 52.2h0M105 59.3h0M104.9 61.3h0M105.9 54.4h0M105.2 57.2h0M105 59.6h0M102.1 55.1h0M100.8 53.5h0M101.6 53.9h0M101.3 51.8h0M102.6 53.8h0M94.2 63.2h0" stroke="#4EBFB9" stroke-width="1.3" stroke-linecap="round" fill="none"/><path d="M94.4 43.2h0M94.4 47.2h0M105.5 49.5h0M72.3 81.8h0M64.2 82.3h0M70 90h0M74.5 93.3h0M79.3 95.3h0M66.8 99h0M71 100.5h0M85 96.5h0" stroke="#E9585E" stroke-width="1.2" stroke-linecap="round" fill="none" stroke-opacity="0.8"/><path d="M64.5 94.3h0M66.3 95.5h0M76.8 81.7h0" stroke="#EE48EE" stroke-width="1.2" stroke-linecap="round" fill="none" stroke-opacity="0.8"/><path d="M104.3 121h0M102.5 123.9h0M93.4 114.2h0M95.1 119.3h0M94.7 111.6h0M101.1 116.3h0M99.9 108.9h0M101 112.9h0M94.9 115.4h0M95.2 116.4h0M95.1 120.9h0M106.5 114.1h0M93.8 119.5h0M104.6 116.7h0M104 123.8h0M99.5 117.2h0M106.1 115h0M95.8 111h0M107.4 113.8h0M98.1 124.9h0M103.6 115.9h0M94.2 114.8h0M97.2 124.4h0M99.2 124.8h0M105.1 118.6h0M97 122.5h0M99.4 125h0M101.4 124.4h0M107.4 114.9h0M103.6 120.8h0M103.5 121.3h0M93.6 117.7h0M104.2 115.8h0M95.4 115.8h0M102.2 123h0M106.8 114.1h0M103.5 119.4h0M105.4 122.2h0M102.5 122.3h0M103.2 110.3h0M95.2 119.3h0M97.4 124.3h0M97 116.8h0M100.6 124.3h0M97.4 123.5h0M104.1 118.1h0M104.5 117.8h0M102.9 110.6h0M102.8 114.5h0M98.7 122.4h0M106 121.1h0M99.6 117.6h0M102.2 110h0M94.4 119.6h0M95.6 121.2h0M103.5 111.4h0M105.3 116.6h0M103.6 110.1h0M98.5 120.4h0M98.4 111.5h0M99.8 111h0M100.1 110.3h0M104.1 112.2h0M102.6 119.4h0M95.7 119.1h0M101.3 118.9h0M95.5 116.6h0M105.9 119h0M96.4 114.2h0M100.1 117.2h0M99.8 113.5h0M99.7 109.6h0M104.7 112h0M97.6 110h0M97.6 117.3h0M104.5 117.1h0M101.6 109.4h0M94.7 119.9h0M101.4 118.6h0M94.4 114.3h0M98.4 120.9h0M105 120.2h0M95.4 116.4h0M98.1 118.9h0M103.6 116.4h0M101 122.7h0M94 118.6h0M97.6 121.2h0M103.9 115.6h0M94.9 121.4h0M103.7 118.1h0M96.4 120.1h0M105.4 113.1h0M106.9 113.9h0M107.8 118.4h0M105 114.9h0M99.8 118.4h0M105.4 115.6h0M106.9 112.3h0M100.8 111.1h0M95.2 113.5h0M93.3 118.2h0M102.4 115.3h0M105.3 117.8h0M103.4 110.1h0M95.1 122.8h0M94.7 118.6h0M98.5 119.9h0M106.4 122.5h0M98.9 125.1h0M104.7 113.3h0M97.8 117.4h0M106.8 119.8h0M102 115.5h0M98.6 115.4h0M104 116h0M103.9 123.2h0M105.5 115.4h0M99.4 118.7h0M97.1 123.3h0M104.5 113h0M99 115.6h0M103.8 113.4h0M98.2 117.1h0M96.3 115.8h0M104.5 117.1h0M93.4 114.5h0M101.6 112.5h0M98.7 118h0M98.3 111.7h0M101.4 117.7h0M99.1 119.1h0M106.6 114h0M106.6 118.6h0M104.6 115.2h0M97.7 120.2h0M101.6 123.9h0M95.1 114.4h0M103.6 123.8h0M100 121.8h0M94.3 119.3h0M97.8 120.2h0M97.3 111.8h0M96.8 120.7h0M103.9 123.9h0M99.1 109.8h0M105.4 113h0M104 116.8h0M99.6 109.2h0M96.1 121.1h0M99.9 123.3h0M105.4 117.6h0M98.9 117.6h0M94.9 118.3h0M96.8 115h0M99.9 113.5h0M95.2 119.8h0M102.5 110h0M96.1 113.4h0M98.3 116.8h0" stroke="#5E8CF6" stroke-width="1.3" stroke-linecap="round" fill="none"/><path d="M50.8 140.1h0M46.9 153.4h0M43.2 146.6h0M45.4 160.1h0M49.3 149.7h0M40.9 146.6h0M49.8 148.6h0M44.7 153.8h0M48.3 140.4h0M45.1 159.3h0M43.2 151h0M44.2 151.6h0M44.8 146.3h0M51.1 155.2h0M45.7 146.8h0M50.4 146.9h0M48.2 142h0M46.6 144.4h0M51 146.8h0M44.2 151.6h0M51.2 155.2h0M49.9 151.9h0M47.5 141.1h0M50 153.8h0M47.8 145.2h0M49.2 150.9h0M49.3 154.8h0M50.1 155.3h0M50.9 154.6h0M45.3 150.3h0M50 152.7h0M45.6 158h0M43.1 153h0M44.3 153h0M50.8 148h0M50 149.4h0M50.8 138.7h0M43.9 149.6h0M46.9 143.2h0M47.8 153.8h0M51.8 139.9h0M43.5 142.9h0M43.4 156.5h0M49.8 157.8h0M40.4 152.5h0M50.2 153.6h0M47.3 148.4h0M49.9 151.1h0M44.3 150.1h0M45.7 142.3h0M48.1 158.8h0M44.9 157h0M41.7 150.4h0M48.2 151.1h0M48.5 141.7h0M47.3 150.9h0M48.7 140.4h0M50.5 142.2h0M48.7 147.2h0M48.4 155.3h0M45 161.7h0M45.3 149.4h0M48.6 141.4h0M50.8 146h0M50.7 141.2h0M41.6 152.6h0M43 148.7h0M42.5 156h0M48.9 155h0M47 139.6h0M48.6 151.5h0M47.9 158.6h0M46.1 144.9h0M48 153.6h0M46.2 149.1h0M51 147.1h0M49.2 160.4h0M41.9 150.1h0M45.9 147.4h0M49.5 143.9h0M43.5 158.7h0M42.9 156h0M43.4 147.9h0M45.7 143.8h0M49.9 161.5h0M51.1 141.6h0M48.9 151.5h0M48.2 144.2h0M44.8 156.7h0M43.9 142.2h0M46.5 160.3h0M47.8 140.3h0M45.2 143.3h0M49.8 148.2h0M45.4 159.9h0M43.6 148.9h0M46.5 154h0M44.1 153.5h0M45.1 158.7h0M46.7 156h0M46.9 155.3h0M44.7 141.3h0M44.4 145.8h0M46.3 149.7h0M48.5 139.2h0M41.6 155.8h0M46.1 162.2h0M50.3 147.9h0M44.2 148.6h0M49.3 149.3h0M49 150.6h0M48.9 150.1h0M47 148.2h0M46.9 151.7h0M41.3 151.9h0M51.2 143.7h0M49.3 144h0M48.6 144.7h0M47.2 157.3h0M46.3 143.7h0M43.8 151.6h0M48.9 142h0M47.6 147.8h0M49.2 156h0M44.5 152.5h0M41.8 153h0M47.8 143.5h0M48 141h0M51.1 154.6h0M42.7 156.2h0" stroke="#EE48EE" stroke-width="1.3" stroke-linecap="round" fill="none"/><rect x="27.6" y="7.8" width="177" height="11.8" fill="#fff" stroke="#6a6a6a" stroke-width="1"/><text x="115.9" y="16.9" font-size="10.45" text-anchor="middle" fill="#1a1a1a">human primary TM cells</text><rect x="27.8" y="22.2" width="176.7" height="176.5" fill="none" stroke="#111" stroke-width="1.5"/><circle cx="212.8" cy="77.1" r="3.05" fill="#E9585E"/><text x="221.5" y="79.7" font-size="7.5" fill="#222">pTM1</text><circle cx="212.8" cy="88.7" r="3.05" fill="#A8992A"/><text x="221.5" y="91.3" font-size="7.5" fill="#222">pTM2</text><circle cx="212.8" cy="100.2" r="3.05" fill="#3CBE3C"/><text x="221.5" y="102.8" font-size="7.5" fill="#222">pTM3</text><circle cx="212.8" cy="111.8" r="3.05" fill="#4EBFB9"/><text x="221.5" y="114.4" font-size="7.5" fill="#222">pTM4</text><circle cx="212.8" cy="123.3" r="3.05" fill="#5E8CF6"/><text x="221.5" y="125.9" font-size="7.5" fill="#222">pTM5</text><circle cx="212.8" cy="134.9" r="3.05" fill="#EE48EE"/><text x="221.5" y="137.5" font-size="7.5" fill="#222">pTM6</text><text x="115.8" y="211.5" font-size="10.5" text-anchor="middle" fill="#1a1a1a">(n=2,795 cells)</text><path d="M398.5 64.6h0M402.4 95.1h0M401.7 51.8h0M389.5 108.4h0M377.5 53.8h0M392.3 45.9h0M379.8 92.9h0M388.2 91.1h0M380.8 72.6h0M410.9 63.6h0M382.6 109.1h0M386.4 77.6h0M375 67.2h0M411.4 100.3h0M408.6 107.5h0M374.5 86.3h0M395.1 63.8h0M403.3 51.9h0M398.2 67.7h0M374.9 96.3h0M377.1 98.3h0M405.8 69.3h0M390.5 50.7h0M374.9 90h0M386.4 79.3h0M386.3 55.6h0M376.1 95.3h0M389.5 46.5h0M379.4 46.9h0M395.8 96.5h0M402.8 100.8h0M388.9 69.2h0M372.7 55.3h0M411.2 57.1h0M389 101h0M383.4 53.9h0M369 77h0M395.3 51.2h0M380.8 84.9h0M376.6 97.2h0M411.3 67.9h0M374.5 80h0M403.2 79h0M381.5 54.1h0M403.9 107.6h0M385.4 81.1h0M378.9 71.5h0M396.8 58.7h0M398 77.7h0M388.5 46.1h0M395.1 81.8h0M399 105.1h0M398.2 96h0M414.1 81.6h0M409 78.3h0M389.6 47.1h0M391.8 91.4h0M407.4 105.8h0M393.7 109.9h0M386.5 35.8h0M389.1 77.6h0M406.3 53h0M377.5 102.4h0M396.1 45.2h0M393.8 96.1h0M397.5 88.4h0M397.9 108.2h0M394.7 62.4h0M387.7 65.9h0M411.8 57.1h0M402.3 79.7h0M382.1 107.3h0M380.7 58.3h0M377.6 90.4h0M402.4 63.5h0M373.8 81.9h0M384.7 78.3h0M379.1 68.4h0M409.3 59h0M397.8 112h0M403.8 107.4h0M385.4 110.7h0M412.8 56.2h0M406.3 107.7h0M378.6 65.6h0M406.2 80.2h0M413.5 69h0M390.2 47.7h0M381.6 104.3h0M381 106h0M407.8 79.9h0M389.8 63.7h0M401.7 57.2h0M381.1 49.7h0M396.3 59.5h0M378.7 104.5h0M386.3 34.6h0M369.5 78.9h0M369.3 71.8h0M398.7 77.5h0M378.7 101.4h0M386.2 77.8h0M388.5 97.2h0M376.3 52.4h0M390.4 77.8h0M393.7 82.3h0M409.6 60.5h0M398.1 110.5h0M416.2 79.5h0M384.8 86.3h0M404.2 88.7h0M401.5 65.1h0M403.5 62.4h0M395.4 47.9h0M382 58.1h0M386.4 67.6h0M416.3 76.4h0M395.2 66.3h0M395.2 99.4h0M393.9 75.3h0M385.4 49.1h0M388.6 80.1h0M373.7 94.8h0M390.4 84.2h0M389.3 97.9h0M401.7 44h0M395.2 55.5h0M405 63.9h0M370.5 67.1h0M389.5 88.7h0M381.3 83.9h0M381.3 105.4h0M397.1 66.3h0M378.8 83.6h0M370.9 74.5h0M382.3 67.4h0M398.2 93.2h0M401.7 69h0M384.8 84.4h0M390.8 108.6h0M394.2 81.1h0M401 72.9h0M392.4 87.4h0M383.1 73.9h0M395.5 58.6h0M376.9 67.6h0M389.1 68.9h0M380.7 72.7h0M396.5 42.5h0M400.7 91.1h0M377.7 54.2h0M369.9 72h0M401.5 67.2h0M397.2 82.7h0M393.2 108.3h0M403 70h0M380.9 44.9h0M400.1 95.5h0M387.5 41.1h0M381.7 90.9h0M406.2 66.3h0M412 65.5h0M412.1 90.7h0M372.3 57.2h0M387.6 72.8h0M394.3 55.4h0M369.6 80h0M414.3 91.8h0M410.6 104.2h0M401 38.9h0M383.4 80.8h0M388.6 51.7h0M401.1 58.2h0M391.3 104.1h0M375.1 84.6h0M379.6 106.7h0M387 74.9h0M383.9 62.4h0M392.3 87.1h0M413 68.8h0M382.1 63.1h0M402.3 47.4h0M380.7 49.8h0M393 94h0M402.1 69.6h0M393.8 44.5h0M380 61.8h0M385.7 87h0M380 53.3h0M411.4 96.9h0M377.7 73.3h0M409.4 98.8h0M379.3 72.9h0M397.2 35.2h0M380.1 93.6h0M401.1 70.1h0M396.3 76.5h0M385.2 41.1h0M404.8 96.1h0M389.6 95.9h0M409 89.6h0M390.4 96.5h0M404.6 42.2h0M397.1 41.4h0M404.3 61.4h0M386.7 56.1h0M408.2 85.6h0M382.8 93.6h0M377.2 98.5h0M398 95.6h0M398.6 113.1h0M402.5 71.4h0M397.3 79.7h0M382.2 58.8h0M407.6 99.7h0M393 65.9h0M403 86.2h0M387 56.6h0M389.2 65.8h0M370.6 73.9h0M412.6 56.5h0M404.9 95h0M400.7 82h0M380.4 88.3h0M397 111.6h0M393.6 62.7h0M412.9 84.3h0M384.9 86.3h0M375.6 49.4h0M411.9 71.4h0M407.8 51.5h0M391.3 53.3h0M407.8 82.1h0M387.5 65.1h0M378.5 51.1h0M402.2 59.3h0M373.2 65.2h0M390.5 113.3h0M387.1 66.6h0M390.8 66.1h0M379.2 46.5h0M391.4 85.5h0M373.3 72.4h0M376.6 82.4h0M385.1 87.6h0M406.8 66.7h0M387 40.6h0M378.5 84h0M408 45.4h0M386.1 77.4h0M401.4 60.6h0M386.2 92h0M392 69.3h0M395.9 43.6h0M391.3 57.9h0M376.3 76.3h0M402.8 76.4h0M392.7 87.9h0M396.2 89.9h0M387 66.2h0M385 53.7h0M407.3 103.4h0M381.8 79.5h0M390.8 44.8h0M404.4 76.8h0M412.8 55.2h0M373.4 89.3h0M376.7 90.7h0M411 75.5h0M390.3 112.1h0M406.9 52.4h0M403 65.1h0M391 59.3h0M379.3 58.5h0M381.5 49.4h0M411.3 64.6h0M395.8 99.2h0M401.6 46.8h0M409.6 60.7h0M409.2 85.6h0M369.5 64.5h0M402.6 77.8h0M385 106.9h0M372.4 74.3h0M389.9 40h0M399.6 97.3h0M379.1 53.9h0M406.2 76.6h0M382.3 70.4h0M412 99h0M387.1 87.6h0M386.4 85h0M410.3 49.2h0M371.9 57.2h0M396.7 86.8h0M382.2 75.5h0M384.5 80.7h0M373.4 84.2h0M378.4 78.7h0M377.4 69.9h0M381.1 85.6h0M406.7 101.9h0M416.3 70.7h0M395.3 62.4h0M382.3 74.9h0M405.1 60.1h0M397.6 55.5h0M403.7 74h0M383.4 70.1h0M387.7 87.9h0M389.5 81.2h0M397.9 41.4h0M393.1 94.3h0M407.2 93.1h0M401.7 44.5h0M388.3 75h0M373.1 79.4h0M381.2 47.3h0M415.2 83.9h0M404.3 82.8h0M396 104.1h0M371.1 64.6h0M378.9 82h0M387.6 108h0M379.6 55.8h0M413.5 92h0M389.3 64.2h0M404.4 46.2h0M403.8 52.4h0M382.5 98.4h0M396.8 54.1h0M402.1 67.5h0M403.6 53.8h0M389.2 88.9h0M386.4 54.9h0M394.1 110.3h0M372.7 54.4h0M392 113.1h0M399.8 45.4h0M392.8 113.8h0M415.9 63.7h0M412.6 89.4h0M393.4 75.5h0M377.1 73.4h0M405.7 78.8h0M416.6 77.1h0M404.5 82.3h0M411.8 61.2h0M391 99.3h0M380.7 64h0M410 86.2h0M392.3 35.5h0M405.9 67.5h0M379.8 65.2h0M374.8 101.6h0M401.4 47.2h0M381.6 83.8h0M389.3 48.1h0M373 76.3h0M385.3 74.4h0M373.4 62.7h0M393.1 41h0M392.9 101.6h0M397.3 44.6h0M399.3 40.9h0M394.3 48.5h0M381.8 43.9h0M401.5 98.8h0M390.3 80.9h0M384.5 99.8h0M402 40.5h0M402.9 45.6h0M391.9 49h0M392 86.7h0M404.4 60.3h0M370.7 70.3h0M413.4 78.5h0M398.7 95.6h0M399.6 110.2h0M408 45.6h0M381.1 91.2h0M396.8 103.3h0M406.4 60.8h0M376.5 86.9h0M373.5 73.9h0M381.7 66.4h0M400.4 85h0M398.6 39.1h0M412.3 90.7h0M413 83.3h0M400.1 105.4h0M405 85.1h0M403.6 102.1h0M387.2 51.1h0M389.9 101.6h0M405.5 44.7h0M378 50.9h0M405 54.4h0M412.1 67.2h0M377.6 67.5h0M369.1 67.6h0M386.8 37.4h0M410.6 68h0M410.5 92.4h0M396.1 75.2h0M403.5 82.4h0M412.6 94.7h0M389.9 102.1h0M382.2 65.6h0M396.6 111.9h0M380 102.1h0M400.6 107.9h0M382.9 87.4h0M402.6 101.5h0M399.4 78.5h0M377.5 75.8h0M370.1 58.6h0M379.9 101.7h0M377 95.6h0M377.7 61.5h0M396.9 56.3h0M405.5 39.7h0M401.6 54.9h0M415.5 60.6h0M401.2 36.6h0M414.6 85h0M413.3 93.8h0M386.9 50.4h0M412.2 87.4h0M400.2 39.1h0M376.5 94.1h0M381.8 98.2h0M404.5 85.8h0M398 45.5h0M394.3 49.3h0M372.3 54.8h0M416.2 59.7h0M381.9 76.3h0M406.7 58.9h0M408.2 95.4h0M399.8 36.8h0M397.6 85.2h0M396.9 45.3h0M406.9 70.4h0M406.8 107.4h0M386.1 97.8h0M384.5 109.3h0M384.7 84.4h0M380.7 92.1h0M382.1 68.1h0M403.9 100.6h0M378.5 95.7h0M401.4 91.7h0M408.1 53h0M392.6 34.7h0M385.5 82.4h0M380.9 97.9h0M378.5 69.7h0M401.9 52h0M400.9 66.3h0M400.4 100.1h0M401.7 103.3h0M401 96.6h0M409.6 81.9h0M394.4 47.2h0M373.5 65.6h0M382.5 79.3h0M409.1 55.8h0M377.5 81.5h0M378.9 50.6h0M408 103.5h0M386.6 61.9h0M402.8 76.8h0M384.3 46.3h0M373.7 91.3h0M379.1 76.3h0M381.2 73.4h0M392.9 55.4h0M373.8 67.8h0M408.2 45.4h0M394.7 99.1h0M396.3 62h0M392 70.3h0M409.7 83.9h0M395.3 75.5h0M412.2 62.6h0M416.4 78.7h0M407.6 70.6h0M393.9 52.3h0M412.2 67.9h0M388.1 93.7h0M391.9 68.2h0M409 68.3h0M378 72.5h0M383.2 54.9h0M406.3 62.2h0M399 58.5h0M373.7 96.8h0M406.4 90.7h0M398.2 48.2h0M392.9 100.9h0M406.9 81.6h0M399.3 47.9h0M387.8 90.3h0M402.6 103.6h0M414.1 56h0M384.4 42.5h0M415.7 80.3h0M392.4 38.9h0M406.2 50.7h0M381.4 45.3h0M394.5 57h0M396.3 91.5h0M393.6 66.3h0M390.2 63.8h0M404.1 85h0M402.1 85.4h0M393.5 50h0M413.3 76.9h0M390.7 55.2h0M388.1 98.6h0M374.2 82.2h0M381.5 53h0M383.1 66h0M399.9 66.9h0M410.4 69.2h0M407.3 65.9h0M380.8 105.9h0M399.6 92.1h0M393.9 91.1h0M416.1 62.3h0M382.8 105h0M409.4 105.4h0M389.6 67.4h0M383 67.7h0M387 71.1h0M369.8 61.7h0M393.2 38.6h0M391.9 106.7h0M400.4 110h0M410.7 73.8h0M396.6 101.7h0M384.5 44.8h0M405.6 77.4h0M391.2 44.5h0M395.5 80.2h0M403.2 106.5h0M383.9 67.5h0M385.1 98.9h0M389.9 40h0M391.5 46.2h0M386.9 70.4h0M412.7 77.8h0M416.6 77.7h0M415.3 89.6h0M387.2 38.3h0M375.3 97.7h0M400.8 58.1h0M376.1 85.5h0M417.4 77h0M378.3 48.9h0M403.3 108.5h0M378.1 53.3h0M375.1 51h0M379.2 67.7h0M379.8 87.3h0M379.9 55.6h0M388.8 47.8h0M370.4 72.7h0M412.1 83.5h0M383.2 66.5h0M389.2 60h0M375.1 50.9h0M384.4 42.5h0M398.5 50.3h0M393.3 89.8h0M392.7 93.6h0M406.7 70.1h0M402.4 63.7h0M391.4 102.1h0M409.9 54.2h0M379.2 105.2h0M379.7 82.2h0M414.5 71.6h0M389.1 110.9h0M403.1 52.2h0M413.8 77.7h0M381.6 48.6h0M414.6 62.5h0M391.9 100.2h0M407.9 106.1h0M386 52.9h0M393.4 109h0M398.4 104.1h0M377.7 74.9h0M413.5 80h0M407.4 98.9h0M390 89.4h0M402.3 69.5h0M393.8 99.1h0M386.2 88.4h0M395.3 102.4h0M379.9 71.7h0M380.7 98.6h0M397.3 96.3h0M385.1 40.7h0M397 83.5h0M389.3 56h0M385.2 52.9h0M408.3 64.8h0M403.4 78.2h0M379.4 56.7h0M401.3 103.4h0M377.4 65.2h0M403.6 107.6h0M397.3 45.9h0M386.7 45.8h0M381.9 80.3h0M392.9 48.1h0M381.7 106h0M399.3 82.4h0M384 58.2h0M400.4 110.8h0M399.5 38.1h0M377.2 68.1h0M400.3 88.3h0M382.3 88.9h0M413.3 71.8h0M387.7 89.1h0M411.3 89.3h0M401.4 51.1h0M373.8 61.6h0M414.9 57.9h0M383.3 108.4h0M385.5 100.2h0M371.1 61.1h0M380 103h0M390.2 102.4h0M392.2 64.1h0M390.6 110.4h0M372.9 69.7h0M372.2 93.5h0M370.5 90.5h0M407.4 48.6h0M377.3 87h0M376.5 69.2h0M392 77.7h0M395.4 47.5h0M400.2 87.8h0M398 50.4h0M402 111.9h0M385.1 50.4h0M400.5 102.4h0M376.3 50.1h0M392.8 50.7h0M393.1 113.5h0M369.3 68.5h0M378 47.6h0M397.2 110.1h0M391.3 79h0M402.7 103h0M416 61h0M398 104.9h0M375.3 97.4h0M374 63.3h0M388.6 86.9h0M414.5 68.7h0M396.7 67.2h0M387 55.5h0M403.9 98.2h0M402 69.6h0M388.4 49.4h0M397.1 66.6h0M394.5 73.7h0M382.6 67.7h0M389.3 106.2h0M412.2 57.4h0M390.6 52.1h0M391.9 35.3h0M390.9 71.1h0M392.8 72.2h0M384.1 62.1h0M373.1 82.3h0M378.9 76.8h0M392.7 85.3h0M412.3 89.5h0M409.5 87.3h0M379.1 99.4h0M405.5 73.2h0M413 62.9h0M394.9 98.1h0M376.3 74h0M389.2 43.9h0M414.2 74.8h0M410.4 56.1h0M391 54.1h0M397.2 90.9h0M396.4 81.1h0M401.1 112.1h0M410 54h0M414.8 70.8h0M396.3 86.1h0M398.6 104.7h0M412.6 59.6h0M412.3 59.6h0M401.9 46.9h0M399.6 58.3h0M387.2 111.3h0M373.7 94h0M400.2 35.7h0M390.8 43.6h0M399.5 77.8h0M396.5 83.7h0M381.1 46.6h0M378 74h0M387.4 95.1h0M375 50.8h0M393.9 89.3h0M383.6 50.8h0M374.2 63.4h0M386.8 98.1h0M379.9 61.5h0M405 50.9h0M413.4 59.6h0M382.1 71.1h0M378.4 97.2h0M411.9 91.3h0M387.8 101.5h0M401.2 48.1h0M388.3 93.6h0M393.5 40.3h0M390.7 102.5h0M396.6 55.6h0M378.5 78.9h0M393.3 106.6h0M376.5 71.6h0M390.2 64.4h0M377.2 65h0M394.9 49.8h0M383.9 76.5h0M414.6 72.9h0M393.7 61.8h0M373.7 72.2h0M398.6 62.4h0M404.5 84.9h0M394.1 82.7h0M395.6 52.6h0M385.1 91.7h0M387.7 76.6h0M379.3 84.6h0M405.4 98.5h0M402.8 71.6h0M381.2 90.6h0M388.8 60.1h0M373.8 82.7h0M403.2 95.8h0M375.6 50.7h0M399.6 44.7h0M399.3 55.2h0M395.9 95.6h0M385.1 86.3h0M397.8 107h0M406.5 87.8h0M395 105.5h0M397.9 89.4h0M383.4 42.9h0M395.7 52.1h0M412.4 61h0M377.5 80.5h0M398.6 42.4h0M383.4 43.2h0M392.5 76.5h0M383.7 88.1h0M390.1 99.9h0M401.7 55h0M415.2 77.1h0M407.3 65.1h0M412.1 95.6h0M392.7 56.8h0M394.9 76.3h0M377.3 76.7h0M371.9 58.5h0M401.2 46.4h0M393.9 45h0M401.8 39.9h0M373.2 62.1h0M384.2 99.1h0M387.3 40.3h0M413.6 86.9h0M398.8 44.5h0M391.6 106h0M395.7 85.4h0M390.8 62.9h0M409.2 51.1h0M410.1 64.8h0M410.4 53.3h0M382.8 76.4h0M379.1 55h0M404 97.4h0M385.4 71.8h0M397.1 81.7h0M413.5 79.7h0M415.7 72.5h0M390.1 36.6h0M384.1 72.9h0M368.6 69.5h0M373.8 55.7h0M373.7 81.3h0M392.1 38.6h0M382.8 77h0M389.1 79.9h0M371.3 83.3h0M398.3 49.5h0M396.1 109h0M412.2 83.6h0M393.8 94.3h0M390.5 90.8h0M386.5 78.7h0M404.4 81.1h0M397.9 65h0M385.4 86.7h0M390.1 69.6h0M386.8 57.6h0M399 104.5h0M377.7 86.3h0M394.4 85.3h0M400.9 66.3h0M393.8 84.7h0M414 86.9h0M400.4 62.3h0M407.4 44.7h0M411.9 73.5h0M390.5 89.7h0M394.9 114h0M397.5 52.4h0M394.2 57.7h0M386.1 52.3h0M380.5 45.1h0M385.8 43h0M395.3 113.1h0M389.8 69.1h0M379.8 104.8h0M379.1 104.9h0M384.5 98.8h0M403.4 109h0M396.5 63.1h0M381 53.1h0M373.1 58.2h0M383.7 100.1h0M368.3 74.5h0M393.2 47h0M402.4 50.9h0M404.9 47.9h0M411.6 59.3h0M386.6 65.8h0M405.3 40.2h0M384.2 48.3h0M377.1 93.8h0M416.5 66.2h0M403.3 71.2h0M378.1 59.5h0M384.8 54.3h0M387.2 93.1h0M398.5 86.5h0M377.5 50.6h0M397.6 41.9h0M409.7 101.8h0M382.2 45.9h0M393.4 94.2h0M374.1 64.5h0M394.5 58.3h0M404 75.2h0M400.1 60.9h0M391.3 78.1h0M388.9 69.9h0M404.5 103h0M379 74.3h0M405.9 93h0M413.4 96.6h0M391.9 60.7h0M394.7 96.2h0M404.1 75.9h0M389.9 110.5h0M407.6 80h0M406.2 78.3h0M383.9 44.5h0M396.8 103.8h0M395.4 73.1h0M384.6 43.9h0M392.7 74.2h0M371.1 68.4h0M396.8 113.8h0M371.2 86.8h0M378 89.8h0M399.5 50.8h0M390.9 68.1h0M376.9 66h0M371.1 90.9h0M416.2 77.6h0M387.8 75.4h0M375.2 93.4h0M402.3 42.6h0M386.7 44.1h0M409.4 49.7h0M394.2 91.2h0M375.6 91.6h0M389.3 47.7h0M390.9 109.3h0M394.9 104.9h0M391.6 54.2h0M402.2 57.8h0M400.7 77h0M397.6 108.3h0M396.3 99h0M403.7 72h0M378.8 104.6h0M395.8 113.5h0M411.8 94.2h0M403.8 47.7h0M409.2 91.5h0M405.9 95.7h0M402.5 63.8h0M379.3 69.6h0M380.9 93.2h0M409.4 93.8h0M384 80.7h0M383.6 78.2h0M394.3 46.5h0M409.9 99.3h0M406.6 41.6h0M379.6 94.2h0M408.1 83.7h0M414.3 68.4h0M379.2 72.2h0M383 64.8h0M406.8 60.2h0M403.4 81.7h0M369.1 75.1h0M411 86.1h0M410.2 85.4h0M389.1 50.1h0M405.5 57.8h0M401 86.7h0M384.3 54.5h0M400 84.9h0M378.6 91.2h0M404.8 79.8h0M394.3 77.1h0M389.6 50.4h0M394.7 68.2h0M408.1 108.1h0M398.7 40.9h0M394.5 44.6h0M394.6 99.8h0M401.4 71.7h0M411.2 73.4h0M370.6 88.4h0M387.9 66.1h0M386.8 56.3h0M375 86.3h0M393.7 68.8h0M405.2 74.5h0M376 55.7h0M395.7 87.6h0M399.4 94h0M385.7 95.6h0M396.9 54.6h0M374.2 84.4h0M408.5 100.1h0M397.3 53.9h0M382.7 103.2h0M381.6 73h0M395.2 35.7h0M407.5 97.1h0M407.7 81.2h0M411.3 93.3h0M372.8 95.8h0M403.5 37.6h0M414.7 57.7h0M391 76.3h0M395.5 79.9h0M394 42.2h0M392.9 49.4h0M389.4 91.8h0M405.4 47.2h0M399.2 49.2h0M398.2 54.1h0M371.7 87h0M401.6 111.6h0M404.3 106.9h0M370.3 66.9h0M384 49.7h0M399.4 45.8h0M400.4 44.6h0M381.2 70.4h0M395.2 43.6h0M401.2 89h0M397 65.1h0M395.1 77.8h0M413.5 96.6h0M379.9 64.9h0M397.6 64.7h0M390.5 45.5h0M395.9 109.9h0M406.1 81.6h0M382.1 88.2h0M408 50.8h0M379.3 67.2h0M397.7 105.5h0M397.3 55.7h0M404 46.3h0M396.6 80.6h0M391 78.6h0M377.3 51.1h0M397 66.6h0M392.8 107.5h0M391.2 93.8h0M371 73.5h0M377.4 65h0M382.9 58.6h0M371.5 63.8h0M406.9 78h0M412.3 83.7h0M399.9 68.5h0M409.4 70.3h0M374.9 52.2h0M376.9 84.5h0M401.8 71.6h0M400.4 67.9h0M397.3 37.4h0M388.4 112.2h0M396.5 61.6h0M398.9 112.4h0M391.1 67.6h0M408.7 102.4h0M379.2 87.8h0M382.8 62.6h0M407.8 63.3h0M413.4 73.2h0M388.1 37h0M410.6 105.5h0M392.1 71.5h0M416.1 65.2h0M383.2 45.3h0M394.1 92.7h0M409.5 87.8h0M373.4 86.2h0M411.2 72.3h0M389.2 85.9h0M377.5 52.3h0M373.6 87.5h0M393 37.3h0M376 58.7h0M402.3 44.9h0M386.5 83.9h0M409.6 49.6h0M395.7 82.8h0M395.4 82.1h0M387 53.3h0M401.1 104.2h0M401.8 86.9h0M396.5 100.5h0M393.3 99.6h0M378 65.8h0M416.7 70.6h0M395 82.1h0M410.2 70.8h0M412.6 90.7h0M387.9 83.5h0M392.1 38h0M382.8 101.8h0M376.2 62.6h0M390.3 45.6h0M408 46.9h0M394.8 56.1h0M400.1 43.6h0M392.5 102.1h0M401.3 53.7h0M392.2 92.7h0M397.8 39.6h0M399.5 50.2h0M406.8 96.5h0M406.6 100.9h0M386.8 92.1h0M390.1 113h0M407 70.5h0M403.1 81.1h0M379.2 54.9h0M402.9 107.6h0M399.2 95h0M399.6 46h0M380.7 80.8h0M405.4 67.8h0M402.5 61h0M383.6 47.8h0M388.5 80.7h0M385.2 109.3h0M402.3 64.6h0M408.6 87.6h0M389.9 87.2h0M401.8 60.6h0M377.7 86.6h0M396.2 38.1h0M376 68.8h0M372.5 76.3h0M387.6 57.9h0M405.2 93.3h0M371.3 82.1h0M379 60.5h0M379.6 47.1h0M380.6 74.4h0M408.3 96.1h0M399.6 55.6h0M374.7 54.6h0M383.1 98h0M410.1 101.9h0M391.4 38.8h0M379.7 45.5h0M382.6 102.7h0M380 75h0M404.1 77.7h0M415.7 80.5h0M399.5 51.3h0M403.4 48.8h0M369.7 80.3h0M383.3 61.9h0M411.1 79.5h0M373.8 90.2h0M403.7 79.7h0M415.3 72.4h0M400.2 38.8h0M382.9 58.3h0M389.3 75.2h0M373.7 89.6h0M397 36.2h0M384.3 99h0M404.3 64.3h0M376.3 94.3h0M388.8 78.1h0M402.4 50.5h0M408.8 83h0M401.9 87.9h0M382.8 56.2h0M386.5 99.1h0M397.6 56.6h0M412.8 75.6h0M404.5 61.9h0M417.2 72.7h0M401.4 66.6h0M393.9 48.4h0M386.3 67.4h0M404.8 47h0M377.8 85.8h0M391.5 104.9h0M369 69.7h0M409.2 94.7h0M385.5 75.6h0M387.7 34.7h0M382.2 78.9h0M402.6 86.2h0M383.3 61.6h0M386.7 57.6h0M378.3 73.8h0M375.4 60.4h0M394.2 60.5h0M371 67.3h0M382.7 69.6h0M402.2 55h0M386.8 106.3h0M399.5 69.9h0M378.5 97.2h0M410.2 64.2h0M391.7 36.4h0M380 53.6h0M378.1 100.4h0M415.2 59.8h0M407.8 58.4h0M396.8 49.9h0M413.1 75.5h0M397.3 97.8h0M394 73.5h0M403.3 72.2h0M396.6 58.2h0M375.6 52.2h0M416.2 81.5h0M396.9 75.2h0M415.3 64.8h0M399.2 89.1h0M407.5 91.6h0M408.7 61.3h0M407.4 82.1h0M415.7 60.2h0M398.7 103.2h0M405.7 90.1h0M383.8 86.5h0M369.6 87.1h0M381.8 78.2h0M403.6 110h0M410.5 81.5h0M413.6 91.5h0M374.5 63.3h0M378.9 70.3h0M382.2 103.2h0M387.1 104.2h0M386 84.7h0M406 61.5h0M391.6 41.4h0M375.7 97.9h0M383.3 90.5h0M389.3 91.2h0M401.1 54.9h0M378.1 71.4h0M392.6 105.5h0M402.6 69.1h0M389.9 82.3h0M374.4 58.2h0M397.9 109.5h0M397.8 51.1h0M379 63.8h0M378.8 100.4h0M403.6 96.4h0M396 53.7h0M369.8 81.9h0M368.7 75.8h0M406.4 45.5h0M389.7 77.6h0M375.5 50.4h0M398.3 48.2h0M375.6 52h0M373.5 80.1h0M388.4 36.8h0M380.5 86.3h0M382.2 62.1h0M374.5 72.1h0M383.5 59.8h0M396.9 110.3h0M388.6 37.8h0M386.5 102.5h0M389.5 39.2h0M380.4 52.4h0M385.4 59.8h0M401.3 91.8h0M408.8 104.3h0M407.1 48.5h0M402.4 40.3h0M401.5 52h0M409.7 101.8h0M391.2 92.3h0M400.1 83.6h0M385.7 89h0M375 70.9h0M401.1 68.4h0M382.4 77.5h0M392.3 49.1h0M412.2 58.3h0M372.5 90.4h0M370.5 71.5h0M385.6 92.6h0M388 93.6h0M383.1 102h0M391.3 46h0M395.7 65.8h0M408.9 64.9h0M401 43.3h0M385.3 108h0M392.5 66.7h0M398.8 81.8h0M380.9 104.7h0M390.3 96.3h0M393.5 81.4h0M406.3 52.7h0M402.4 94.3h0M407.7 50.3h0M411.5 85.5h0M414.8 78.8h0M376.2 78.5h0M401.1 65.2h0M379.6 90.8h0M397.4 53.2h0M384.3 53.6h0M394.4 56.5h0M395 56.8h0M374 90h0M388.1 55.3h0M403.6 106.4h0M386.4 93h0M399 57.2h0M388.5 67h0M386 49.5h0M395 87.6h0M380.9 72.3h0M378.8 88.2h0M388.1 80.8h0M388.2 75h0M389.1 60.8h0M410 57.9h0M407.2 68.2h0M373.8 80.2h0M381.9 50.4h0M391.4 98.9h0M401.2 58.5h0M374.4 80.8h0M377.5 94.7h0M397.5 51.9h0M391.8 111.9h0M390.3 35.7h0M390.9 62.5h0M413.5 76.1h0M387 35.4h0M370.5 91.2h0M389.5 108h0M402.8 90h0M408.9 78h0M402.8 44.2h0M399.9 62.7h0M384.7 59.3h0M393.4 36.1h0M395 47.7h0M415.7 59.8h0M394 55.3h0M383 52.4h0M405 64h0M410.7 60.5h0M374.2 70.7h0M393.9 80.2h0M378.6 48.7h0M393.9 69.9h0M391.9 88h0M402.8 46.6h0M384.4 58.9h0M413.8 67.3h0M403.4 41.2h0M399.8 70h0M411.3 100.1h0M372.4 66.3h0M375.2 83.3h0M393.1 41.7h0M371.9 71.5h0M399 66.8h0M391.4 85h0M402.6 90.9h0M388.6 48h0M378.2 49.5h0M397.5 84h0M373 75.5h0M396.5 89.2h0M371.7 92.5h0M381.4 65.1h0M398.7 99.3h0M393.5 43.1h0M387.9 40.6h0M380.4 59.1h0M387.2 87.9h0M407.4 62.7h0M402.3 111.5h0M389.9 67.2h0M386.9 82.9h0M375.2 95.9h0M411.1 78h0M377.7 65h0M390.4 50.1h0M413.7 94.4h0M382.3 52.4h0M382.1 65.9h0M400.5 96.4h0M377.7 64.7h0M415.2 70.9h0M403.7 100.6h0M390.9 64.5h0M406.5 85.5h0M415.3 73.2h0M411.1 85.6h0M396 102.7h0M372 56.7h0M392.2 99.9h0M377.2 96.7h0M372.4 62.3h0M391 91.5h0M393.9 102.3h0M402.4 65h0M393.8 65.4h0M411.3 58.6h0M377 53.9h0M380.4 99.1h0M402.1 53.9h0M388.8 105.9h0M402.1 108.3h0M408.7 80.1h0M375.7 53.3h0M379 61.8h0M398.4 58.6h0M378.6 103.8h0M373.5 84.9h0M388.1 71.9h0M411.2 94h0M408.2 97.7h0M404.2 103.9h0M394.7 105.4h0M372.4 55.1h0M408.7 97.8h0M379.1 79.8h0M389.7 93.4h0M387.8 59.8h0M405.8 90h0M385.9 91.4h0M381 74.4h0M377.3 61.8h0M388.8 41.4h0M383.5 62.4h0M384.2 74.8h0M382.7 45.1h0M405.7 93.4h0M413 66.4h0M387.8 95.8h0M372.2 69.3h0M395.5 86.3h0M414.7 59.9h0M394.6 70.8h0M413 73.2h0M402.7 112.7h0M405.2 53.1h0M385.1 69.3h0M389.5 56.9h0M416.5 64.7h0M402.1 50.8h0M384.5 98.1h0M394.2 53h0M391.9 77.6h0M377.7 70.1h0M414.1 70.1h0M402.3 69.7h0M377.4 87h0M377.4 71.2h0M375.5 67.4h0M416 82.1h0M393.4 83.8h0M400.5 82.5h0M382.1 51.3h0M398.1 108.6h0M411.2 73.4h0M382.6 81.3h0M370.3 74h0M391.8 83h0M374.4 73.1h0M386.9 91.2h0M388.9 48.6h0M393.3 77.4h0M401.9 95.3h0M387.9 63.5h0M406.5 71.2h0M394.4 54.4h0M414.8 58.6h0M412.2 100.7h0M392.7 102.2h0M403.7 74.5h0M383.8 55.6h0M397.9 71.6h0M374.2 73.7h0M398.9 103.3h0M392.1 74h0M402.5 50.4h0M397.4 74.4h0M382.8 74.1h0M376.8 85.7h0M373.7 70h0M370.8 77.5h0M384.3 45.9h0M401.2 53.8h0M408.3 72.5h0M381.3 81.6h0M379.1 55.5h0M378.9 47h0M388.6 70.2h0M397.5 78.4h0M401.8 83.4h0M391.3 102.7h0M375 56.3h0M411.6 66.9h0M409.8 79.3h0M384.4 56.6h0M388.6 110.8h0M391.2 63.3h0M369.2 65.1h0M413.9 67.8h0M407.4 106h0M414.5 92.9h0M392.6 58.3h0M404.9 38.8h0M400.2 89.5h0M374.7 60.4h0M390.5 54.6h0M390.7 35.4h0M407.3 67.7h0M381.8 54.4h0M383.7 82.2h0M403.5 68.7h0M403.5 80.1h0M408.2 92.6h0M385.4 43.5h0M409.2 47.4h0M413.8 61.7h0M375.6 90.1h0M377.2 63.4h0M389.8 85h0M393.7 87.4h0M398.8 68.4h0M392.6 62.1h0M409.4 78h0M402.5 99.8h0M402.5 105.2h0M390.5 90h0M411.9 73.3h0M408.7 56.6h0M375.9 102.5h0M395.4 111.3h0M397.7 54.9h0M380.5 47.5h0M394.2 91.7h0M396.5 38.1h0M406.8 88.3h0M384.1 108.1h0M392.5 95.7h0M372.5 58.9h0M405.5 89h0M402.8 89.8h0M383 74.3h0M372.8 68.6h0M374.9 61.1h0M385.1 43.4h0M388.1 110h0M383.3 75.8h0M394.2 66.7h0M417.1 66.5h0M407.5 74.9h0M385.3 102h0M397.7 94.6h0M393.2 66.6h0M403.7 46.8h0M391.6 50.3h0M410.9 97.2h0M387.7 97.2h0M394.9 86.7h0M379.9 96.1h0M381 66.5h0M406.7 55h0M406 102.3h0M376.2 92.5h0M382.4 56.1h0M385.5 96.6h0M399.7 65h0M401.9 99.2h0M377.7 103.5h0M393.8 85.2h0M410.7 51.4h0M391.2 91.1h0M394.9 70.2h0M393 101.3h0M373.7 91.9h0M390.9 44.6h0M390.8 47.8h0M390 45.2h0M390 82.6h0M401.4 44.7h0M410.1 64h0M372.1 68.7h0M398.9 63.2h0M404.1 59.2h0M388.8 76.9h0M387 49.2h0M397.2 43.8h0M376.3 67.7h0M400.1 107.4h0M396.9 93.4h0M391.4 98h0M399.7 40.1h0M405.5 68.9h0M374.8 101.7h0M380.3 106.4h0M387 79h0M390.1 95.2h0M385.6 75.4h0M379.4 61.3h0M373.5 55.2h0M381.8 89.5h0M405.7 83.1h0M415.7 77h0M372.5 71.4h0M395.4 101h0M372.7 63.4h0M370.2 81.6h0M377 52.3h0M383.9 54h0M382.7 52.2h0M385.1 81.6h0M395.9 92.6h0M396.4 59.3h0M378.4 67h0M414.9 82.2h0M403.6 37.8h0M395 90.3h0M410.9 95.1h0M391.4 108.6h0M372.1 86.1h0M373.8 68.3h0M374.4 58.4h0M370.6 77.5h0M406.6 57.8h0M396.7 103.5h0M399.6 99.8h0M413.5 60.1h0M379.3 103.4h0M379.1 95.9h0M374.3 74.4h0M396.5 79h0M403.1 102.5h0M393.9 53.2h0M407.5 68.7h0M381 96.1h0M405.9 100.2h0M392.5 35.5h0M369.2 78.5h0M369.8 84h0M374.6 96.4h0M391.5 75.6h0M410.1 57h0M386.2 82.1h0M406.6 94h0M402 102.8h0M376.8 67.3h0M391.4 100.7h0M380.5 82.4h0M405 61.7h0M399.2 67.1h0M377.9 59.9h0M383.8 44.3h0M397.4 46.7h0M378.7 63.2h0M378.5 101.9h0M414.6 60.7h0M407.5 84.7h0M395.5 106.7h0M401.3 86.1h0M414.5 70.8h0M403.9 71.9h0M380.6 50.3h0M396.4 36h0M382.7 69.6h0M377.7 89.3h0M405.6 100.9h0M395.1 94.6h0M407.5 92.6h0M383.7 80.3h0M408.9 54h0M385.8 35.2h0M397.8 43.5h0M390.1 49.3h0M404.6 81.3h0M392 86.2h0M408.2 49.5h0M394.8 55.9h0M377.3 51.8h0M407.1 109h0M389.5 48.3h0M376.8 58.8h0M386.4 105h0M394.1 73.6h0M399.1 48.5h0M386.4 69.5h0M371.2 58.8h0M396.4 82.5h0M396.3 46.7h0M404.3 109.2h0M383.8 95.9h0M410.3 84.6h0M386.6 69.4h0M396.4 49.2h0M387.9 43.7h0M409.8 52.5h0M393.2 80.6h0M370 78h0M407.8 53.4h0M399.3 92.3h0M395.8 62.9h0M393.4 87.7h0M389.7 93.2h0M405.2 94.4h0M389.5 46h0M376.6 58h0M395.9 39h0M383.4 46.1h0M394.6 50.4h0M385.7 94.1h0M409.4 65.6h0M395.9 60.7h0M377.6 89.4h0M371 86.2h0M379.4 49.3h0M398.5 65.5h0M407.2 65.4h0M406.7 83.7h0M397.8 53.8h0M384.1 87h0M400.2 89.8h0M376.7 72.3h0M381.8 44.6h0M389.2 45.1h0M402.9 86h0M385.1 98.7h0M370.2 67.7h0M375.4 72.7h0M409.6 97.6h0M397.1 67.6h0M395.6 74.3h0M396.2 59.9h0M408.4 75.9h0M379.7 81.1h0M406.6 74.2h0M384.1 77.8h0M402.2 48.9h0M412 67.1h0M388.8 75.8h0M405.7 48h0M377.1 73.4h0M368.8 69.1h0M386.1 106h0M398.3 56.7h0M399.6 75.1h0M402.8 98.9h0M393.5 64.7h0M390.1 99.9h0M389.7 77.7h0M405.6 103.8h0M397 76.5h0M373 64.4h0M377.5 96.1h0M401.3 45.2h0M396.7 104.2h0M410.1 64.4h0M386.2 76.8h0M388.7 112.3h0M410.2 105.8h0M414.9 63.2h0M381 82.4h0M387.8 51h0M372.2 65.7h0M408.9 98.7h0M390.5 66.6h0M374.9 98.1h0M405.6 51.7h0M401.2 105.7h0M385.8 52.8h0M404.9 84.1h0M387.6 34.7h0M384.1 90.7h0M377.3 72.8h0M406.2 62.1h0M374.2 88.4h0M402 83h0M413 64h0M393.3 70.5h0M410.4 60.7h0M379.9 63.8h0M408.9 93.7h0M377.3 99.7h0M417 61.3h0M407.1 89.8h0M398.6 52.9h0M384.4 100.2h0M410.4 102.8h0M404.4 92.4h0M384 108h0M411 78.1h0M415.3 60.8h0M411.8 99h0M389.2 86.6h0M382 50.2h0M392.1 72.6h0M392.2 91.8h0M377.1 97.9h0M384.1 66.2h0M412.5 93.4h0M404.1 97.8h0M389 62h0M393.9 102.1h0M376.6 90.4h0M391.6 109.8h0M403.2 108.1h0M388.5 71.2h0M380.4 50.9h0M383.5 51.4h0M399 79.8h0M404.6 94.4h0M416.1 76.5h0M398.5 76.6h0M391.7 61.6h0M383.4 60.9h0M393.2 69.9h0M395.1 87.8h0M398.2 80.9h0M390.4 71.1h0M391.8 62h0M384.6 80.6h0M388.6 87.2h0M395.7 76.8h0M393.7 56.6h0M404.8 60.3h0M384.4 86h0M403 100.9h0M415.4 78.8h0M370.3 87.6h0M385.6 82.8h0M376.7 66.1h0M380.1 88.6h0M415 63.7h0M393 85.2h0M405.9 62.9h0M381.3 86.7h0M383.4 74.1h0M399.2 78.8h0M416.3 62.2h0M378.6 66.8h0M379.7 96.7h0M402.3 47.5h0M407.2 103.5h0M408.4 62.2h0M408.6 55.1h0M387.5 58.7h0M408.7 95.4h0M394.4 77.3h0M382.5 81.3h0M415.4 70.8h0M391 81.1h0M386.8 108.6h0M378.6 73.3h0M402.3 94h0M383.2 44.1h0M402.2 44.4h0M411.7 99.5h0M393.1 105.5h0M406.6 88.1h0M401.5 90.4h0M414.9 64.9h0M386 103.2h0M388.5 98.1h0M378.3 77.6h0M405.3 91.9h0M402.5 41.4h0M408.7 79.5h0M398.8 52.1h0M407.1 95.1h0M388.6 103.1h0M379.5 64.2h0M393.6 72.9h0M399.5 75.7h0M381.6 67.7h0M413.2 68.2h0M392.9 108.1h0M387.8 102.6h0M371.4 91h0M374 56.2h0M412.3 97.8h0M392.7 43.2h0M393.8 106.2h0M397.2 36.1h0M403.4 84.3h0M401.7 95.5h0M384.1 46.8h0M381.6 52.6h0M395.6 56.2h0M379.4 84.2h0M390.2 40.9h0M387.2 56.8h0M407.6 53.5h0M399.7 88.3h0M388.7 37.9h0M394.5 43h0M412.5 56.1h0M385.1 61.6h0M399.4 58.6h0M391.2 86.5h0M381.6 45.1h0M400.4 86.4h0M410 81.8h0M401.5 112.4h0M378.1 65.9h0M397.1 104.2h0M400.6 61.5h0M403.2 56h0M393 84.5h0M406.5 53.9h0M405.4 77.8h0M399.1 41.9h0M394.1 41.7h0M399.3 97.7h0M387 69h0M399 79h0M402 62.2h0M370.7 88.5h0M379.1 90.6h0M400.4 103.1h0M378 112.3h0M375.3 118.4h0M373.5 118.4h0M372.4 119.8h0M375.3 117.8h0M379.5 112.5h0M369.6 126.3h0M367.6 125.9h0M371.6 121.8h0M367.6 125h0M374.3 117.2h0M375.8 116.6h0M378.5 112.4h0M370.9 122.6h0M376.9 115.4h0M367.5 125.7h0M376.8 116h0M377.5 114h0M367.2 126.5h0M375.6 117.3h0M369.3 123.5h0M371.1 121.4h0M376.9 111.9h0M375.3 116.2h0M369.3 124.8h0M370.6 121.8h0M369.4 125.5h0M378.8 111.9h0M376.2 114h0M371.6 120.9h0M372.3 121h0M376.4 112.7h0M376 114.5h0M377.6 114.3h0M370.9 123.7h0M373.7 120.5h0M373.9 120.2h0M372.4 121.2h0M369.1 122.8h0M378.8 112.8h0M380.4 113h0M377.6 112.8h0M372.5 120.1h0M373.6 120.7h0M374.9 119.7h0M377.5 112.4h0M366.7 125.8h0M370.3 122.8h0M368.5 124.6h0M376.1 115.4h0M376.3 116.6h0M370.6 123h0M375.6 115h0M377.8 116.1h0M377.8 115.3h0M378.4 112.5h0M368 124.6h0M375.5 118.9h0M369 126.4h0M371.1 121.9h0M391.4 138.7h0M387.9 128.6h0M389.9 133.2h0M387 130h0M387.9 130.9h0M388.3 134.6h0M387.7 134.9h0M387.8 133.7h0M388.3 138.2h0M391.3 134.8h0M390.3 131.1h0M385.9 131.3h0M391.5 135.5h0M386.3 128.9h0M390.4 134.7h0M390.3 139.7h0M385.9 131.7h0M388.7 135.5h0M385.8 130.7h0M390.4 139.8h0M388.2 139.3h0M391.2 138.9h0M386.1 132.2h0M389.6 137.8h0M387 127.9h0M388.5 128.8h0M389.6 132.5h0M390.7 131.4h0M385.3 133.7h0M388.4 138.2h0M387.6 134.2h0M388.6 135.8h0M391 137.3h0M388.5 135.5h0M390.8 136.6h0M388 135.3h0M388.5 135h0M389 138.6h0M387.9 133.6h0M388.1 135.8h0M389.4 139h0M390.6 134.7h0M388.1 136.6h0M391.1 134.5h0M390.8 135.4h0M388.2 138.2h0M390 135.5h0M389.7 138.9h0M389.6 136.7h0M390.8 133.7h0M389.9 134.7h0M390.4 137.1h0" stroke="#E9585E" stroke-width="1.3" stroke-linecap="round" fill="none"/><path d="M283.8 95.5h0M270.8 86.9h0M270.3 87.9h0M273 76.5h0M285.3 86.2h0M273.5 77.5h0M286.2 85.9h0M276.1 84.4h0M282.7 80.5h0M277.9 86.6h0M273.7 76h0M268.4 79.5h0M273.6 81.7h0M273.3 95.9h0M272.8 76.3h0M284.2 93.1h0M285.5 84h0M283.1 92.2h0M279.2 90.2h0M276.7 85.5h0M277 90.1h0M279 84.5h0M269.4 92.5h0M266.3 78.8h0M283.7 85.6h0M272.6 87h0M288.4 91h0M274.1 98.8h0M271.2 76.9h0M283.5 95.1h0M285 84.7h0M282.1 79.9h0M271.8 98.6h0M278.9 92.7h0M274.2 84.7h0M288.3 93.6h0M275.4 98h0M275.9 79.5h0M275.3 91.7h0M282 97.1h0M273.4 85.2h0M271.4 96.1h0M284.9 91.5h0M281.3 82h0M272 94h0M268.7 79.8h0M284.1 97.8h0M277.8 77.7h0M278.8 80.4h0M281.3 90.6h0M286.7 91.8h0M283.3 96.7h0M286 87.2h0M270 79.9h0M280.5 88.5h0M275.7 87.3h0M270.3 85.2h0M279.9 93.8h0M270.3 86.9h0M284.4 81.6h0M283.6 80.4h0M272.7 96.3h0M270 96h0M276.9 88.4h0M268.2 84h0M277.2 86.6h0M279.7 93.6h0M270.6 97.9h0M284.9 93h0M275.8 80.4h0M281 96.2h0M283.5 92.7h0M266.7 86.3h0M272.4 88.2h0M281.8 89.9h0M272.2 85.3h0M272.2 79.4h0M270.7 87.1h0M289.1 91.5h0M283.9 97.9h0M269.9 90.7h0M274.1 78.8h0M272 91h0M268.4 77.2h0M286.3 95.4h0M265.9 79.6h0M279.5 85.8h0M283.3 89.6h0M267.8 74.8h0M285.4 94.4h0M274.6 98.3h0M280.9 87.6h0M266.1 86.9h0M274.6 85.7h0M273.7 96.2h0M274.3 77h0M271.4 95.9h0M278 83.5h0M275.5 78.1h0M273.1 77.4h0M286.9 92.7h0M273.1 91.1h0M269.4 86.3h0M281.3 85.8h0M278.3 86.2h0M275.3 89.2h0M275 82.1h0M275.5 94.5h0M269 86.6h0M270.9 98.3h0M265.3 83.4h0M289.2 92.7h0M271 93.3h0M277.6 76.9h0M267.7 75.6h0M272.2 85h0M278.9 91.6h0M280.6 95.3h0M274.4 91.1h0M270.5 80.3h0M271.8 84.8h0M272.5 89.8h0M266.1 82.6h0M280.2 94.8h0M284.8 85.5h0M288.2 91.5h0M275.4 82.1h0M286.2 94h0M270.2 77.9h0M279.1 85.7h0M287.8 92.8h0M273 78.4h0M272.4 76.6h0M286.2 88.6h0M281.2 90.7h0M284.7 95.8h0M273.7 98.8h0M271.4 77.4h0M285.2 81.1h0M276.3 95.6h0M270 78.5h0M274 83.5h0M273.4 82.8h0M266.9 90.9h0M277.4 90.2h0M273.2 97.6h0M284.5 88.7h0M274.7 96.3h0M276 85.2h0M277.5 76.6h0M288.1 94.7h0M268.1 79.9h0M281.7 88.4h0M275.2 84.9h0M270.7 85h0M266.4 76.2h0M271 75.2h0M271.1 79.6h0M274 89.7h0M285.6 88.8h0M284.1 90.7h0M265.3 83.9h0M268.4 92.1h0M274.2 85.6h0M272 78.1h0M274.4 82.6h0M269.8 92.3h0M278.8 94.1h0M284.9 92.3h0M268.1 81.3h0M267 94.8h0M281.1 83.5h0M279.2 87.3h0M271.6 88.2h0M276 89.7h0M282.2 94.3h0M273.3 93.8h0M274.1 94.4h0M277.8 89.2h0M277.6 83.4h0M266.6 94.4h0M270 78.7h0M268.5 94.4h0M282.7 82.9h0M277.3 83.6h0M272.3 99h0M273.1 92.4h0M280.6 86.4h0M280.6 92.3h0M279.5 94.6h0M272.6 80.4h0M276.6 94.7h0M276.7 97.4h0M269.3 89.2h0M272.2 88.4h0M284.2 82.9h0M269.4 86h0M272.7 80.1h0M276.9 94.6h0M279.1 89.5h0M270.7 88.1h0M283.8 83h0M277.7 99.2h0M280.4 83.2h0M269.5 98.4h0M284.2 89.2h0M265.6 82.2h0M275.7 76.9h0M276.9 86.5h0M270.2 88h0M270.9 86.7h0M265.4 87.6h0M265.3 82.3h0M283.9 91.9h0M267.2 86.3h0M277.1 78.7h0M268.4 82.5h0M275.1 98.9h0M273.3 97.4h0M265.6 86.5h0M268.9 76h0M272.4 92.3h0M280.3 81.9h0M283.3 92.5h0M286.7 92.2h0M267.3 94.5h0M283.3 98.2h0M270.4 75.1h0M267.2 86.2h0M286.5 90.2h0M278.1 100h0M265.8 84h0M279.7 81.2h0M277.2 98.8h0M270.5 92.2h0M282.7 95.7h0M274.7 77.4h0M277.8 96.6h0M272.5 97h0M271.7 86.5h0M281.6 95.3h0M274.9 93.9h0M285 94.7h0M271.8 96.6h0M284.2 89.7h0M273.5 93h0M266.8 93.4h0M275.6 94h0M279.8 83.7h0M273 87.4h0M268.5 81.1h0M281 79.5h0M273.1 79h0M272 84.6h0M268.5 82.4h0M281.1 85h0M269.3 91.2h0M283.2 96.4h0M286.8 88.7h0M285.7 85.6h0M291.4 95.6h0M292.8 95.1h0M292 94.2h0M292.9 95.2h0M292.5 95.6h0M291.5 94.9h0M361 142.4h0M366.2 128.6h0M363.6 134.5h0M361.7 139.6h0M365.6 129.4h0M360.7 140.6h0M363.2 134.8h0M365.2 130.9h0M364.1 133.4h0M363.3 136.3h0M363.7 133.7h0M366 128.7h0M362.2 139.2h0M363.6 132.6h0M362.9 136h0M363.7 133.1h0M359.3 147.6h0M358.1 154.4h0" stroke="#6AAE22" stroke-width="1.3" stroke-linecap="round" fill="none"/><path d="M356 161.8h0M356.4 161.8h0M355.7 161.9h0M357 161h0M354.8 165h0M357.1 160.7h0M357.5 161.7h0M356.2 163.3h0M354.2 167h0M354.2 170h0M353.8 167h0M353.7 167.8h0M353.5 169.3h0M353.7 166h0M357.1 180.7h0M358 181.9h0M358.6 184.4h0M360.3 181.2h0M360.2 182.8h0M357 181.8h0M359.3 179.8h0M359.7 182.2h0M358.4 182.7h0M357.1 185.6h0M358.1 182.1h0M358.8 178.8h0M357.3 183.3h0M361.1 178.5h0M357.8 182.1h0M358.2 180.1h0M359.5 182h0M357.7 183.5h0M357.8 184.8h0M360.6 179.9h0M358.8 180.9h0M360 182h0M359.8 181.5h0M358.8 183.3h0M361 178.5h0M358.5 180h0M359 180.5h0M361 178.8h0M358.2 184.5h0M359.4 179.8h0M358.8 179h0M356.9 185.2h0M358.5 180.5h0M358.6 180.9h0M358.7 181.1h0M356.6 182.9h0M357.8 182h0M357.6 181.1h0M360.2 181.3h0M360.8 179h0M357.7 179.4h0M360.3 179.3h0M359.1 182.1h0M360 182.3h0M358.6 179.3h0M358.9 182.2h0M358.7 183.8h0M357.9 183.2h0M357.4 183.9h0M360.4 182.3h0" stroke="#4CC0BE" stroke-width="1.3" stroke-linecap="round" fill="none"/><path d="M330.6 102.5h0M331.2 103.1h0M330.9 102.8h0" stroke="#B868F5" stroke-width="1.5" stroke-linecap="round" fill="none"/><rect x="252.2" y="7.8" width="177" height="11.2" fill="#F3E4B4" stroke="#6a6a6a" stroke-width="1"/><text x="340.7" y="16.6" font-size="9.4" text-anchor="middle" fill="#1a1a1a">iPSC-TM with conditioned medium</text><rect x="252.9" y="22.4" width="176.4" height="176.8" fill="none" stroke="#111" stroke-width="1.5"/><circle cx="436.3" cy="86.2" r="3.15" fill="#E9585E"/><text x="442.7" y="89.0" font-size="7.7" fill="#222">CM1</text><circle cx="436.3" cy="99.0" r="3.15" fill="#6AAE22"/><text x="442.7" y="101.8" font-size="7.7" fill="#222">CM2</text><circle cx="436.3" cy="111.9" r="3.15" fill="#4CC0BE"/><text x="442.7" y="114.7" font-size="7.7" fill="#222">CM3</text><circle cx="436.3" cy="124.7" r="3.15" fill="#B868F5"/><text x="442.7" y="127.5" font-size="7.7" fill="#222">CM4</text><text x="339.1" y="213.4" font-size="10.5" text-anchor="middle" fill="#1a1a1a">(n=2,322 cells)</text><path d="M604.7 150.9h0M625.5 162.3h0M619.2 121.7h0M576.2 99.9h0M615.1 119.2h0M613.4 159.9h0M557.3 66.3h0M613.7 156.6h0M583.6 132.6h0M587.2 143.6h0M592.2 156h0M615 103.4h0M603.2 168.6h0M631.9 126.8h0M555.1 95.7h0M589.4 132.8h0M629 126.3h0M587.5 155.1h0M616.7 144.4h0M549.8 64.8h0M597.2 159.6h0M583.2 78.7h0M590.5 158.3h0M622.4 112.2h0M577.3 80.4h0M576.4 84.6h0M631.9 135.6h0M601.8 100.2h0M592.7 158.9h0M569.1 107h0M626.9 137.7h0M576.5 99.8h0M616 114.2h0M590 119.6h0M598.5 118.5h0M606.1 142.2h0M575.8 83.5h0M625.2 139h0M558.2 89.5h0M631.1 122.4h0M619.1 148.9h0M617.7 134.4h0M607.6 145.7h0M617.9 155.1h0M598.9 137.7h0M628.4 118.7h0M609.3 110.1h0M575.5 95h0M596.9 139h0M597.5 156.2h0M608 141.3h0M615.5 142.2h0M586.6 138.6h0M629.2 128.7h0M624.8 164.1h0M611.9 131.6h0M574 108.6h0M594 91.5h0M612 167.1h0M588.4 105.8h0M624.1 109.7h0M592.1 159.8h0M616.8 133h0M602.3 156h0M608.7 122.6h0M620.2 111h0M598.8 156.1h0M597.5 140.3h0M587 113.3h0M595 124.8h0M608.6 105h0M578.5 111.3h0M597.3 90.5h0M623 118.4h0M593.2 89.8h0M559 78.7h0M575.9 97.1h0M574.9 95.1h0M622.1 148.1h0M620.9 131.7h0M578.9 91h0M593.6 88.9h0M596.9 152.9h0M570.3 102h0M605 102.3h0M559.3 89h0M572.8 69.2h0M617.3 112h0M597.7 83.2h0M591.7 131.3h0M566.7 92.5h0M600 149.9h0M585.9 145.4h0M612.6 98.5h0M593.9 97.3h0M571 85.4h0M585 125h0M600.4 127.5h0M618.1 143.2h0M600.1 94.3h0M576.7 99.1h0M601.2 136.4h0M612.9 136.5h0M597.3 83.8h0M586.9 81.6h0M601.3 155.3h0M588.5 126.5h0M624 117.3h0M603.4 96.2h0M611.3 101.1h0M566 100.5h0M596.7 81.4h0M590.4 79.6h0M606.4 106h0M617.4 157.8h0M587 154.2h0M588.9 111.3h0M570.5 76h0M578.6 77.5h0M592.5 124.3h0M610.2 116.8h0M579.6 142.4h0M601.3 132.9h0M593.3 91.9h0M600.7 150.7h0M595.9 152.8h0M587.2 83.1h0M606.3 144.9h0M594.3 144.8h0M589.2 117.9h0M593.6 137.4h0M616.4 154.3h0M591.1 140.7h0M575.5 98.2h0M552.9 74.9h0M591 128.2h0M613.6 135.9h0M583.6 149.5h0M581 99.8h0M578.3 114.6h0M558.3 80.1h0M586.7 144.3h0M603 120.7h0M624 143.4h0M601.1 84.3h0M620.9 152.4h0M606.6 122h0M604.6 128.7h0M614.4 147.5h0M630.5 138h0M582.9 134.5h0M589.6 129.3h0M550.6 67h0M586.6 146.6h0M597 113.4h0M592 162.8h0M586.7 91h0M630.7 121.5h0M607.9 115.5h0M619.8 121.6h0M611.3 99.7h0M591.7 140.9h0M561.3 71h0M608.2 101.9h0M602.3 158.9h0M618.5 144.3h0M624.7 145.6h0M565.3 82.7h0M575.3 96.5h0M580.6 83.2h0M620.5 147.6h0M586.7 128.8h0M613.7 105.1h0M555.9 74.9h0M606.4 126.8h0M576.2 98.4h0M625.9 126.4h0M605.6 119h0M574.6 96.8h0M626.4 116.7h0M596.3 91.4h0M592.4 131.4h0M579.6 131.8h0M560.1 104.4h0M587.4 160.4h0M598.8 147.5h0M621.2 144.9h0M605.7 87.7h0M592.3 136.5h0M627.5 152.6h0M627.2 124.4h0M621 110.8h0M566.1 90.7h0M615.7 137.8h0M593.7 166h0M592.4 124.6h0M578.8 101.3h0M563.6 104.9h0M557.7 78.7h0M595.1 140h0M616.3 108.7h0M606.6 148.9h0M629.4 155h0M630.5 139.1h0M599.5 107.6h0M588.7 157.7h0M568.1 100.2h0M583.7 95.8h0M600.1 146h0M560.4 84.6h0M590.1 154.5h0M611.9 147.7h0M627.7 143.2h0M557.5 92.7h0M629 158.5h0M564.7 69.8h0M588.6 97.2h0M626.2 161h0M561.4 87.3h0M619.6 124.1h0M600.1 84.9h0M575.9 98.8h0M609.2 106.7h0M566.6 89.4h0M602.8 160.4h0M598.4 166.1h0M597.8 122.4h0M562.1 105.9h0M619.3 103.7h0M582.1 112.6h0M600.8 141.9h0M584.5 120.9h0M593 157.1h0M580.8 116.8h0M568.7 80.4h0M609.7 112.8h0M583.7 120.4h0M596.6 101.5h0M612 135.7h0M618.1 109.7h0M612.5 130.9h0M599.1 94.1h0M612.9 115.3h0M601 168.3h0M585.7 148.9h0M613.6 133.4h0M612.6 141h0M604 91.1h0M631.4 132h0M578.9 102h0M626.3 121.7h0M600 118.2h0M598.7 150.4h0M581.5 89.7h0M600.8 91.8h0M605.3 93.1h0M610.7 115.2h0M603 88.8h0M601.7 132.5h0M619.5 162.5h0M592.8 156.1h0M587.3 152h0M594.6 156.2h0M566.4 103.7h0M596.1 154.9h0M554.5 93.7h0M600.9 148.2h0M615.8 108.2h0M569.8 98.2h0M572 92.7h0M609.8 146.5h0M588.2 98h0M601.6 120.5h0M600.9 168.6h0M575.1 85.6h0M604.6 119.2h0M610.4 105.9h0M618.4 142.8h0M608.6 125.6h0M575.1 109.2h0M559.8 84.3h0M618.9 127.1h0M611.9 107.4h0M587.5 130.5h0M592 100.3h0M551.1 68.3h0M607.9 166.2h0M594.1 96.9h0M562.7 74.8h0M623.5 157.3h0M619.6 108h0M608.9 95h0M589.9 140.7h0M608 101.6h0M594.3 99.5h0M600.7 91.8h0M611.7 108.2h0M614.3 155.5h0M561.6 104.8h0M627.7 150.9h0M601.3 138.2h0M588.1 115.1h0M559.1 97.4h0M610.4 130.2h0M573.1 114.5h0M565.3 107.1h0M619.2 123.7h0M572.5 112.6h0M625.2 150.9h0M569.7 92.3h0M564.5 71.9h0M629.2 157.9h0M627.1 135.1h0M586.9 82.2h0M560.8 99h0M599.9 152.4h0M598.6 147.5h0M585 89.1h0M582 90.1h0M590.3 84.1h0M589.5 97.2h0M587.6 123.3h0M556.8 67.6h0M613.8 164.2h0M620.7 116.1h0M555.7 68.4h0M606.1 139.8h0M594.3 116.9h0M609.8 145.7h0M632.6 134.2h0M591.2 155.9h0M600.1 131.8h0M608.1 110.5h0M602.8 149.3h0M606.7 163.6h0M621.3 163.5h0M607.8 140.9h0M608.2 90.6h0M555.7 100.5h0M584 93.5h0M607.2 120.7h0M614.2 143.5h0M628.7 122.3h0M618.4 156.2h0M585.9 98.3h0M592.4 156h0M592.7 108.1h0M597.7 106.5h0M579.2 129.8h0M561.9 91.6h0M591.8 136.3h0M585.2 152.6h0M617.7 102.2h0M613.9 128.9h0M578.5 76.2h0M629.9 125.8h0M604.3 123.8h0M626.5 144.1h0M575.1 83.9h0M565.2 86.4h0M596.8 114.1h0M595.1 88.2h0M587.2 90.4h0M621.9 127.1h0M600 119.9h0M576.6 111.5h0M621.7 160.3h0M624 159.1h0M594.8 159.1h0M623.4 134h0M595.3 105.1h0M626.6 127.7h0M592.9 91.5h0M575.9 96.4h0M614.1 149.4h0M587 105.5h0M599.5 140.4h0M612.4 156.6h0M626.9 147.3h0M598.1 152.5h0M601 151.8h0M625.1 160.1h0M601.4 148.2h0M603.2 167.9h0M614.9 121.9h0M615.7 138.2h0M633.3 136.1h0M616.8 157.1h0M615.1 135.7h0M631.3 130.8h0M575.6 97.5h0M575.9 109.9h0M620.5 115h0M589.8 82.6h0M595.4 122.6h0M586.1 105.2h0M612.4 98.6h0M624.4 134.3h0M606.2 103.3h0M611.9 131.4h0M572.8 103.3h0M572.8 105.9h0M604.2 114.4h0M619.9 133.3h0M578.8 84.2h0M603 130.9h0M596.1 165.9h0M560.5 70.3h0M625.1 116.7h0M580.6 96.7h0M609.9 105.7h0M587.1 124.3h0M624.8 163.5h0M624.9 132.3h0M624.5 111h0M575.5 93.3h0M558.8 69.1h0M582.4 86.2h0M550.2 56.9h0M591.3 164.6h0M592.2 100.1h0M591.8 103.4h0M612.2 100.1h0M620.5 135.9h0M614.9 99.1h0M595.1 87.2h0M598.3 153.2h0M593.2 97.6h0M608.8 159.6h0M616.9 146.7h0M559.2 96h0M583.3 82.9h0M579.2 116.2h0M602.6 149.2h0M576.1 77.1h0M583.5 77.8h0M604.9 118.6h0M604.8 117.6h0M587.6 148.9h0M607.1 129.7h0M589.1 142.9h0M608.3 168.5h0M592.7 162.7h0M562.8 91.2h0M603.8 104.8h0M598.9 90.2h0M583.3 150.2h0M557.5 77.3h0M567 100.4h0M605 170.1h0M592.2 120.2h0M596.5 114h0M554.9 75.9h0M613.9 127.5h0M630.6 137.3h0M583.9 79.8h0M619.8 133.9h0M571.1 73.3h0M579.2 76h0M573.6 110.2h0M613.7 106.8h0M593.9 127.8h0M622.7 137.6h0M562.3 93.2h0M566.8 79.8h0M612.4 116.6h0M585.3 154.4h0M605.1 118.2h0M616.9 121.1h0M584.1 83.8h0M622.5 129.1h0M596.6 98h0M605.9 108.4h0M594.5 142h0M597.8 89.6h0M570.3 116.6h0M597.4 122.2h0M599.3 150.8h0M625.4 140.9h0M616.6 138.7h0M610.2 146.3h0M600.7 167.5h0M624.6 128.7h0M601.8 149.8h0M594.5 100.9h0M626.8 158h0M619 147.4h0M584.1 85.5h0M625.1 128.6h0M606.6 92.2h0M558 103.1h0M622.5 148.3h0M607.9 93.8h0M565.7 84.5h0M591.9 153.3h0M600.3 118.9h0M625.6 113.8h0M567.5 84.1h0M631.8 138.3h0M613 95.1h0M581.4 84.1h0M627.6 123.2h0M590.1 152h0M571.7 110.5h0M591.4 111.6h0M606.4 149.8h0M583.4 111.7h0M556.6 96.8h0M596.7 149.3h0M586.1 143.7h0M587.4 117.7h0M614.6 121.5h0M582.4 95.7h0M604.5 159.2h0M560.4 95.9h0M614.8 134.6h0M589.1 114.2h0M577.6 104.5h0M610.7 100.3h0M608 90.3h0M586.7 157.9h0M565.9 72.5h0M595 160.6h0M552.3 77.3h0M587.3 148.7h0M625 129.1h0M578.7 84.3h0M619.2 157.4h0M625.2 126.1h0M558.7 100.3h0M589.6 82.9h0M598.1 131.1h0M551.6 64.9h0M606.4 98.7h0M603.3 89.4h0M619 119.5h0M564.8 72.4h0M574.5 90.3h0M630.4 128h0M619.3 118.3h0M589.4 95.6h0M598.4 105.3h0M568.3 71.6h0M615.5 132.7h0M553.4 87.1h0M571.1 71.9h0M585.3 127.5h0M608.9 119.2h0M600.1 152.9h0M570 110.1h0M594.5 122.8h0M595.3 142.5h0M617.9 137.2h0M564.4 73.9h0M614.3 157.3h0M621.6 107.7h0M621.5 107.8h0M594.5 108.6h0M609.1 162h0M608.7 101.4h0M563.3 78.4h0M582.9 96.4h0M612.4 117.6h0M599.1 144.9h0M607.9 127.9h0M597.7 86.7h0M605.2 93.8h0M602.6 156.6h0M555.8 87.1h0M586.9 92.6h0M628.2 120.2h0M617 124.8h0M597.4 135h0M593.7 105.1h0M580.9 99.5h0M617.8 121.2h0M570.3 93.7h0M583.1 118.5h0M619.5 124.8h0M584.3 110.4h0M601.6 136.8h0M629.5 131.9h0M601.2 150.1h0M608.1 160.3h0M592.3 147.1h0M587.9 79.2h0M580.7 102.2h0M578.4 89.2h0M593.6 92.8h0M607 135.2h0M619.3 133.2h0M557.6 63.2h0M624.4 163.6h0M559 92.5h0M561.8 71.1h0M594.5 153.5h0M612.3 111.2h0M598.8 94.2h0M584.9 100.5h0M607.4 138.7h0M608.4 90.5h0M604.6 118.2h0M551.7 55.8h0M626.4 135.2h0M594.6 163.7h0M627.6 152.2h0M600 93.1h0M611.6 100.7h0M594.1 133.3h0M581.5 107h0M598.3 82.5h0M600.2 116.5h0M611.2 147.7h0M611.6 135.9h0M593.7 118.7h0M586.6 109.4h0M609.5 123.1h0M606.6 129.1h0M586.2 119.3h0M585.5 100.5h0M589 94.9h0M607.7 115.8h0M623.4 139.9h0M598 116.9h0M606.7 88.8h0M578.3 92.4h0M597.4 143.5h0M609.1 161.5h0M609.6 165h0M623 133.9h0M580.1 107h0M599.7 158.6h0M580.2 107.4h0M586.5 131.4h0M600.6 108.7h0M613.2 146.8h0M578.3 96.5h0M590.9 103.9h0M581.7 93.8h0M558.2 83.3h0M588 90.3h0M587.3 157.1h0M552.9 74h0M598.1 103.9h0M605.4 157.1h0M610.4 164.4h0M599.3 132.3h0M603.9 105.9h0M628.4 157.3h0M601.2 146.3h0M600.8 107.9h0M612.9 106.9h0M617 105.3h0M616.2 125.4h0M629.1 147.2h0M584.6 126.3h0M592.4 103h0M558.9 81h0M552.6 61.5h0M598.8 104.8h0M596.2 146.7h0M628.3 136.1h0M582.6 121.3h0M608 134.6h0M616.3 155.2h0M562 95.3h0M562 77.9h0M601.7 146.1h0M622.1 107.7h0M620.2 146.1h0M580.7 135h0M582.5 97.3h0M626.8 123.9h0M594.5 108.2h0M619.7 152.3h0M585.1 104.1h0M607.8 111.7h0M562.2 95.9h0M588.6 109.4h0M609.3 101.3h0M617 103.8h0M555.4 85.8h0M598.3 153.8h0M600.9 134.4h0M619.4 116.1h0M584.9 151.6h0M585.9 128h0M589.8 157.8h0M610.4 120.8h0M570.7 89.4h0M604.3 120.6h0M593.1 88h0M607.1 107.1h0M595.3 165.8h0M603.1 118.8h0M575.5 82.7h0M608.3 140.4h0M619.9 145.6h0M565.4 103.5h0M595.2 105.1h0M600 163h0M596.8 145.7h0M610.3 163.3h0M622.3 150.2h0M579.8 106.5h0M600.4 125.8h0M607.9 100.8h0M597.4 115.8h0M581 141.3h0M609.5 158.5h0M593 159.1h0M601 141.6h0M615.9 133.6h0M582.8 80.8h0M609.3 96.5h0M597.2 93.5h0M621.2 151.1h0M620.8 139.4h0M592.6 93.4h0M622.2 113.9h0M604.6 167.2h0M570 111.5h0M604.3 161.7h0M624 120.8h0M589.6 148.9h0M593.7 121.5h0M592 104.5h0M622.2 137.4h0M597.7 153.2h0M614.7 140.7h0M572.4 79.2h0M572 89.8h0M595.2 102.8h0M593.8 150.9h0M614.4 109.3h0M622.3 132.7h0M578.3 111.1h0M602.1 110.8h0M585.8 84.7h0M624.9 162.7h0M590.9 157.1h0M604 158.5h0M593.8 133.2h0M591.7 135.2h0M617.1 103.3h0M611.6 107.3h0M631 143.1h0M583.7 95.2h0M566.2 92.9h0M598.7 136.2h0M589.7 103.3h0M595.3 91.5h0M602.8 159.5h0M588.3 90.1h0M586.1 130.1h0M577.6 93.9h0M578.6 80.5h0M612.4 131.8h0M592.3 153.7h0M629.2 130.1h0M633.1 133.1h0M595.7 135.6h0M564.4 91.7h0M625.5 131.9h0M598.8 102.6h0M626.5 160.8h0M615.6 139.3h0M571.1 100h0M593 131.3h0M625.8 136.6h0M624.9 129h0M625.9 137.1h0M569.3 98.9h0M590.8 115.4h0M593.4 146h0M558.3 68.2h0M600 123.6h0M617 160.6h0M573.6 75.8h0M589.4 146.9h0M583 144.6h0M590.2 151.5h0M617.1 124.2h0M556.7 87.1h0M620.8 106h0M590.4 83.2h0M600.5 138.3h0M589 140.3h0M605 140.2h0M586.3 108.4h0M597.4 166h0M580.9 118.8h0M601.4 114.5h0M628.4 140.9h0M566.5 76.4h0M578.7 75.7h0M554.9 77h0M580.5 86.6h0M555.1 93.3h0M609 143.5h0M596.7 117.9h0M601.6 121.1h0M612.2 135.5h0M599.3 132.5h0M600.5 95.6h0M579.5 133.5h0M591.7 148h0M586.2 155.7h0M626.7 114.3h0M592.4 152.9h0M630 142h0M632.9 139.3h0M598.6 161.5h0M590 94.6h0M553.6 62.4h0M580.3 139.5h0M569.7 69.7h0M569.3 96.1h0M558.1 85.9h0M575.6 114.7h0M604.2 105.4h0M601.4 168h0M610.5 119.3h0M605.4 100h0M587.5 142.7h0M610 164h0M592.3 115.1h0M619.8 162.9h0M578 128h0M558.2 94.8h0M629.3 155.7h0M583.9 118.7h0M613.8 122.7h0M602.9 92h0M594.5 114.4h0M609.8 98.2h0M598.4 114.3h0M583.9 109.4h0M617 119.2h0M561.1 81.3h0M630.1 125.3h0M585.7 138.2h0M602.3 108.9h0M581 123.1h0M556.5 62.4h0M559.6 82.8h0M621.4 106.1h0M610.2 139.1h0M616.2 109.3h0M611.6 162.8h0M588.2 130h0M583.8 89.3h0M592.2 80.5h0M557.5 96.2h0M569 80.9h0M608.4 131.4h0M631.5 126.7h0M598.9 151.4h0M594.5 155.9h0M620.4 127.6h0M599.9 141.7h0M591.8 142.3h0M603 148.3h0M618.4 134.1h0M599.8 144.6h0M585.6 98.7h0M565 74.5h0M612.5 128.8h0M576.6 122.1h0M583.9 87.6h0M601 152.4h0M583.9 122.9h0M617.4 160.3h0M568.6 108.3h0M554.8 98.6h0M623.4 113.2h0M571.6 105.4h0M630.9 149.9h0M625.3 143.5h0M601.3 160.5h0M578.8 104.6h0M609.4 139.3h0M604.3 113.8h0M559.9 90.1h0M557 78.9h0M597 113.7h0M599.4 143.9h0M564.4 67.2h0M599.3 124.9h0M570.7 103.1h0M578.7 106.4h0M599.9 105.9h0M604.2 152.5h0M620 103.8h0M614.8 107.5h0M611.5 126.4h0M615 162h0M593.5 111.1h0M581.3 109.2h0M592.5 106.4h0M593.7 140.6h0M586.5 107.9h0M619.2 131.8h0M601.9 140h0M621.6 133.7h0M595 140.3h0M628.5 142.7h0M570.3 104.3h0M613.1 156.7h0M603.3 94.7h0M587.3 145.5h0M623.5 149.9h0M587.3 85.7h0M595.8 137.4h0M564.9 89.1h0M582.2 106.6h0M596.6 84.9h0M584.5 79.2h0M591.1 96.5h0M574.4 71.8h0M586.9 97.4h0M616.1 161.4h0M619.1 137h0M601.1 94.6h0M606.3 155.4h0M605.8 124.4h0M590 87.3h0M597.6 128.5h0M590.1 148.7h0M607.8 168h0M594.3 149.4h0M595.9 161.3h0M580.5 107.9h0M594.3 135h0M608.1 126.5h0M615 134.4h0M591.4 165.7h0M601.3 121.3h0M571 85.5h0M582.3 83.6h0M591.7 104.5h0M563.5 104.9h0M581.4 118.8h0M605.2 109.3h0M629.7 142.1h0M596 114.9h0M590.1 115.1h0M601.9 108.3h0M613.4 159.7h0M606.8 166.4h0M602.7 153.7h0M604.5 144h0M617.8 133.8h0M605.1 139.9h0M611.8 141.6h0M618.6 109.5h0M593.9 157.2h0M610.7 168.5h0M600.9 131.8h0M608.3 100.1h0M621 116.4h0M585 97.9h0M576.5 100.9h0M552.3 81.8h0M621.2 116.8h0M628.5 148.9h0M606.5 96.5h0M592.9 83.2h0M623.1 143.4h0M627.5 158.3h0M616.5 119.7h0M568.3 81.2h0M631.1 128.6h0M581.8 95h0M587.4 94.7h0M568 90.5h0M624.6 151.5h0M587.3 160.6h0M612.4 123.4h0M612.2 166.7h0M611.3 124.5h0M555.6 101.2h0M631.7 134.8h0M611.2 112.1h0M604.8 125.9h0M589.1 128.8h0M621.5 132.1h0M624.9 155.5h0M602.2 166.7h0M614.1 98.1h0M625.2 128.5h0M591.4 162.6h0M569.1 107.9h0M588.9 103.1h0M572.5 94.7h0M607.9 121.7h0M605.3 145.9h0M611.6 145h0M606.7 152.4h0M569 110.8h0M598.4 136.2h0M604.4 111.7h0M582 102.4h0M603.1 125.5h0M597.4 135.2h0M579.5 89.5h0M608.7 90.4h0M619.5 117.5h0M608.6 138.2h0M603 155.3h0M593.2 109.7h0M592.2 121.7h0M597.9 93.3h0M605.9 152.5h0M586.4 154.1h0M623.4 136.5h0M618.2 112h0M573.8 91.4h0M604 138.4h0M559.6 86.2h0M599.8 87h0M629.1 143.5h0M566.8 95.7h0M575.3 97.9h0M612.5 146.8h0M633 136h0M604 113.6h0M597.9 161.7h0M593 149.5h0M600.9 111.7h0M582.1 88.6h0M583.1 123.6h0M612.5 116.5h0M601.2 128.5h0M592.5 137.9h0M585.7 115h0M604.5 136.9h0M608.4 146.5h0M629.1 136.2h0M610.6 105.9h0M589.3 159.1h0M592.2 89h0M583.3 107.1h0M614.7 156.8h0M570.1 117.7h0M592.5 147.5h0M608.1 121.9h0M554.7 64.9h0M589.6 128.5h0M606.2 93.1h0M598.9 150.4h0M604.7 98.4h0M626.9 151.6h0M556.7 85.3h0M609.3 113.6h0M594.1 154.3h0M595.4 96.8h0M583.3 86.4h0M577.4 116.9h0M588.8 98.6h0M607.3 129.2h0M576.8 105.3h0M558.4 67.4h0M601.4 149.7h0M590.9 88.7h0M610.7 148.9h0M613.9 98.2h0M627.7 148.3h0M587.9 132.6h0M589.7 109.3h0M609.6 114.7h0M566.4 108.2h0M577.2 107.9h0M597.4 128.7h0M615.8 153.1h0M587.3 95h0M631 133h0M592.8 97.1h0M614.3 161.6h0M599.1 103h0M576.3 113.9h0M570.6 70.9h0M601.3 119.9h0M603.2 102.7h0M571.1 80h0M607.5 112.8h0M585 141.9h0M620.6 156h0M591.1 140.2h0M590.1 138.3h0M597.1 99.4h0M629.4 140.4h0M620.7 138.1h0M553.1 77h0M614.5 101.1h0M573.8 100.4h0M628 143.8h0M609.2 120.2h0M629 143.6h0M588.9 102.9h0M610.1 99.7h0M593.7 81.1h0M590.1 118h0M605.4 98.6h0M612.5 113.6h0M599.1 140.2h0M604.6 126.9h0M589.3 124.7h0M624.5 128.8h0M557.9 95.9h0M568.9 106.4h0M555.6 93.5h0M602.6 151.8h0M589.7 100.3h0M614.5 109.4h0M614.4 123.9h0M585.7 96.7h0M593.1 134.6h0M587 143.4h0M558.3 99.9h0M611.7 121.7h0M578.6 104.5h0M628.7 121.3h0M573.7 93.4h0M592.7 152.5h0M616.2 134.4h0M607.9 154.8h0M582.3 102.8h0M594.2 133h0M614.8 154.4h0M608.9 103.7h0M609.8 131.5h0M555.7 63.4h0M624.2 134.3h0M595.3 102.1h0M569.9 81.1h0M561.8 104.3h0M601.5 111h0M568.4 94.2h0M600 132.8h0M622.5 120.2h0M613.1 143.7h0M618.3 149.1h0M552.5 68.6h0M609.8 121.9h0M582.3 80.3h0M589.9 84h0M601.5 143.3h0M601.5 131.9h0M595.1 131.5h0M569 84.5h0M631 144.9h0M610.1 98.8h0M588.9 78.1h0M608 116.6h0M565.5 99.3h0M617.8 160.3h0M582.9 101.6h0M625.1 119h0M580.5 109.8h0M625.7 119h0M575.6 87.4h0M581.4 122.4h0M586.5 125h0M554.3 96.7h0M567.4 99h0M602.6 110.9h0M609.2 115.7h0M612.4 141.5h0M593.1 142.2h0M602.9 123.1h0M618.6 135.4h0M588.3 150.6h0M601.8 125.7h0M624.5 111.9h0M598 125.4h0M620.8 137.8h0M564.3 72.2h0M577.8 115.6h0M594.9 99h0M567.7 112.4h0M583.5 109.2h0M559.2 64.6h0M599.7 152.6h0M560.5 78.4h0M580.4 121.8h0M576.9 110.4h0M594.3 89.9h0M580.7 144.5h0M555.2 96.9h0M563.2 87.6h0M567.8 95.2h0M598.4 163.4h0M622.5 111.5h0M566.7 75.9h0M563 74.5h0M596.1 145h0M591.1 130.4h0M554.4 72.5h0M574.6 89.4h0M631.3 137.6h0M617.1 148.1h0M602.4 90.2h0M583.1 126.5h0M599.1 168.4h0M586.2 101.9h0M588.9 139.2h0M618.3 140.4h0M558.8 66.1h0M555.1 90.9h0M617.8 124.8h0M618 134.8h0M593.2 110.7h0M605.8 90.1h0M607 158.3h0M621.8 150.3h0M630.8 130.6h0M571.4 70.1h0M630.2 143.2h0M615.5 108.4h0M611.7 150.1h0M626.2 115.4h0M590.4 155.2h0M583.4 96.6h0M605.1 140.7h0M599.7 141.5h0M557.5 92.4h0M582.1 79.5h0M596.7 167.3h0M607.9 154.4h0M608.9 148.9h0M606.7 96.9h0M606.1 155.8h0M600 114.7h0M556.9 98h0M626.7 126.6h0M556.2 100.6h0M619.7 161h0M599.6 92.5h0M627.3 161.5h0M563.6 95.9h0M605.5 117.2h0M620.7 163.7h0M583.8 77h0M605 105.7h0M588.2 152.5h0M620.9 111.2h0M583 80.1h0M598.8 98.2h0M592.8 109.1h0M573.1 94.1h0M569.5 112.8h0M590.1 137.8h0M570.8 70.9h0M623.3 147.2h0M575.4 81.8h0M576.9 90.4h0M617.1 159h0M609.8 153.8h0M595 166.1h0M568.7 99.8h0M588.7 159.3h0M602.4 128.9h0M615.3 146.3h0M600.1 134.3h0M624.4 124.9h0M585.5 126h0M618.5 160.4h0M614.7 112.8h0M586.1 149.9h0M617.7 158.4h0M616.6 160h0M615.6 138.2h0M603.5 101.5h0M600.3 136.6h0M623.5 159.9h0M589.4 135.7h0M601.4 119.4h0M613.8 143.1h0M597.6 95h0M627.8 138.9h0M590.4 91.3h0M600.6 168.8h0M587.8 134.9h0M563.8 82.9h0M608.7 138.2h0M595.8 119.2h0M593.7 103.2h0M598.9 118.9h0M616.9 151.5h0M586.6 112.3h0M600.9 94.8h0M565 90.8h0M569.6 95.1h0M609.4 91.9h0M602.1 110.7h0M560.5 85h0M598.1 148.2h0M608.4 152.3h0M565.1 72h0M611.7 110.4h0M621.5 149h0M602.4 91.7h0M565.2 103.1h0M616.2 159.5h0M627.7 157.9h0M611.2 129.3h0M567.4 110.2h0M595.6 116.3h0M617.3 125.4h0M594.4 90.3h0M594.1 160.8h0M604.9 154.1h0M593.3 164.6h0M593.8 154h0M593.2 135.2h0M578.6 81.7h0M590.5 93.4h0M598.3 161.9h0M574.2 92.5h0M629.3 137.5h0M575.1 99.7h0M606.6 143.6h0M562.2 77.9h0M621.5 108.4h0M586 125.4h0M567.4 104.4h0M553.6 85.6h0M620 140.2h0M612.3 108.6h0M615.5 167.6h0M555.3 85.5h0M631.5 123.2h0M607.1 161.4h0M600.2 83.9h0M601.4 130.5h0M594.6 115.4h0M591.9 136.2h0M628.3 133.2h0M571.5 97.8h0M579.1 93h0M598.9 104.1h0M625.2 112.9h0M590.9 114.6h0M605.9 168.8h0M611.4 119.9h0M592.7 127.9h0M581.3 102.1h0M580.8 103.8h0M565.8 84.9h0M591.5 104.8h0M573 95h0M601 166.4h0M583.4 146.8h0M626.9 118.7h0M563.3 106.4h0M620.1 107.2h0M574.6 100.1h0M596.9 114.4h0M583 80.4h0M566.8 91.7h0M567.3 84.6h0M572.4 108.6h0M572.5 122.1h0M602.5 101.6h0M609.7 133.9h0M562.2 97.9h0M610.1 165.1h0M564 80.1h0M572.6 90.7h0M572.4 119.2h0M629.7 132.8h0M582.2 119.6h0M631.7 143.6h0M568.3 74.4h0M624.2 130.2h0M617.7 163h0M608.9 150.5h0M591.8 83.1h0M584.2 104.2h0M616.1 148.6h0M565.7 89.2h0M573.1 76.4h0M628.8 128.5h0M610.9 158.6h0M597.6 165.1h0M605.5 146.4h0M596.2 147.9h0M618.5 134h0M621.3 149.7h0M594.4 131.3h0M612.8 118.5h0M566.1 106.6h0M549.7 67.5h0M599.7 138.8h0M610.9 123.2h0M551.1 77.8h0M605 116.4h0M596.1 132.2h0M622.1 154.3h0M599.2 153.2h0M566.1 99.4h0M601.1 152.5h0M587.3 128.3h0M574.8 83.5h0M579.9 93.3h0M604.4 132.2h0M608.4 106.2h0M622.4 123.6h0M615.8 156.1h0M606 166.9h0M565.7 97.5h0M622.5 156.2h0M573.4 91.3h0M553.2 81.7h0M617.1 157.7h0M550.1 54.7h0M620.4 103.9h0M582.2 135h0M608.4 147.7h0M594.5 150.5h0M590.3 81.9h0M601.1 98h0M621.1 119.9h0M576.9 100h0M558.4 68.1h0M622.6 123.3h0M594.7 92.3h0M608.8 157.3h0M598.9 116h0M630.5 155.9h0M583.9 142.3h0M593.5 148h0M624 142.9h0M620.5 123.7h0M615.2 164h0M569.9 81.4h0M605.1 117.7h0M567.9 84.9h0M593.6 94.1h0M583.3 99.3h0M562.8 95h0M597 128.9h0M625.5 137h0M602.9 119.9h0M590.6 105.6h0M598.2 111.8h0M579.9 78.4h0M616.8 129.3h0M573.9 102.4h0M608.2 168.9h0M570 110.3h0M623.5 155.3h0M623.3 129h0M610.7 165.3h0M616.8 113.2h0M585 104.1h0M585.5 112.3h0M599.8 164.7h0M607.1 93.2h0M593 100.2h0M570.7 102.7h0M617.2 99.9h0M625.5 160.8h0M616.2 142.4h0M573.8 70.6h0M582.3 98.5h0M567.2 68.5h0M607.9 127.3h0M581.4 97.6h0M605.4 137.9h0M618.8 126.4h0M594.6 98h0M615.3 100.2h0M626 130.6h0M565.2 91.5h0M570.8 107h0M558.5 91.4h0M580.4 81.6h0M625.6 160.7h0M600 86.7h0M573.6 112.4h0M593.1 79.6h0M612.4 141.3h0M612.2 152.9h0M597.2 122.8h0M601 150.3h0M591.3 132.7h0M608.5 115.9h0M617.1 140.7h0M593.3 85.3h0M623.6 133.3h0M607.2 99h0M580.9 77.4h0M573.9 107.5h0M623.4 143.3h0M610.3 144.3h0M601.9 91.1h0M596.9 133.3h0M618 105.6h0M584.3 110.8h0M612.8 127.1h0M623.4 150.6h0M574.2 106.1h0M611.9 152.1h0M585.7 157h0M629.4 138.1h0M613.6 119.2h0M588.8 105.7h0M618 154.3h0M617.7 142.4h0M554.8 70.4h0M572.6 95.4h0M627.9 153.3h0M600.6 139.7h0M614.1 150.2h0M591.1 120.8h0M603.7 122.5h0M595.9 130h0M588.1 147.8h0M609.9 166.4h0M610.5 126.5h0M622.1 161.9h0M597.6 104.7h0M618.2 112.6h0M630.2 155.4h0M595.8 152.6h0M595 155.8h0M622.2 153.7h0M568.2 67.7h0M568.8 100.3h0M621.9 128.1h0M607.3 169.5h0M551.8 61.2h0M617.9 130h0M627.6 149.1h0M624.4 132.4h0M622 110.4h0M599.6 155.6h0M594.6 123.4h0M618.8 126.8h0M602.3 91.8h0M623.9 134.9h0M606.7 168.4h0M628.6 154.1h0M564 74.3h0M585.8 86.5h0M599.6 84.3h0M593.1 85.6h0M604.3 163.3h0M591.4 138.4h0M599 142.8h0M616.4 159.6h0M612.2 107.7h0M615.9 112.6h0M604.6 144.7h0M586.2 83.3h0M585.5 152.6h0M583.2 149.3h0M625.9 116.7h0M620 158.5h0M599.3 83.6h0M583.8 136.7h0M567 102.5h0M551.6 73.2h0M597 150.1h0M628.4 153.9h0M589.4 132.2h0M595.2 152.4h0M617.2 136.8h0M560.2 97h0M630.1 131.9h0M594.9 142.8h0M606 149.7h0M574.7 89.5h0M561.5 89.9h0M598.7 164.4h0M567.7 104.2h0M563.8 104.1h0M590.8 115.2h0M612 102.2h0M606.3 157.5h0M590.9 164.2h0M617.9 118.9h0M610.7 154.9h0M552.5 87.2h0M578.6 132.8h0M611.6 94.1h0M560.3 65.3h0M595.2 160.7h0M605.1 145.1h0M599.7 153.1h0M612.1 164.9h0M568 104.1h0M588.9 150.7h0M602.1 165.1h0M566.6 83.4h0M605.4 104.2h0M579.8 86.9h0M586.2 120.5h0M621.3 109h0M593.4 114.6h0M596.7 165h0M614.1 112.4h0M601.1 163.9h0M627 121.8h0M611.2 106.7h0M568.4 95.4h0M554.8 75.6h0M604.2 108.2h0M595.1 124.7h0M597.6 146h0M620.4 130.7h0M633 138.8h0M592.9 101h0M589.6 121.9h0M593.4 147.6h0M613.8 122.9h0M571.6 84.6h0M631.6 136.8h0M612.2 94.6h0M596.7 107.9h0M595.7 120.5h0M623.1 128.4h0M633 131.9h0M552 63.5h0M625.8 136.9h0M607.4 105.7h0M560.4 103.1h0M595.7 144.8h0M616.2 122.6h0M585.7 124.5h0M618.9 138.7h0M615 124.1h0M611.8 168.6h0M596.1 146.3h0M602.6 124h0M608.6 170.6h0M585.5 96.7h0M633.8 140.2h0M622.3 132.1h0M600.6 89.2h0M631.4 123.1h0M611.9 151.1h0M598 101.2h0M589.4 80.8h0M563.5 85.4h0M618.6 161.1h0M584.1 136.2h0M591.2 161h0M567.8 133.5h0M571.6 135.5h0M567.6 135.4h0M570.7 135h0M572.5 134.7h0M569 135h0M572.3 138.4h0M568.8 136.8h0M569.7 134.4h0M568.2 133.4h0M569.6 135.2h0M571 131.9h0M570.6 134.5h0M572.3 134.9h0M568.1 137.4h0M482 53.5h0M483 54h0M481.5 53h0" stroke="#E4575B" stroke-width="1.3" stroke-linecap="round" fill="none"/><path d="M535.5 59.4h0M524.6 56.3h0M495.2 52.9h0M525 66.9h0M540.3 47.9h0M528.9 60.2h0M526.6 56.9h0M501 47.4h0M546.1 77.1h0M506.9 51.9h0M504.6 48.8h0M541 68.5h0M545.3 82.8h0M521 67.9h0M489.9 44.8h0M492.2 39.8h0M507.1 60.9h0M532.2 53.4h0M526.6 67h0M515.9 64.6h0M538.3 57.9h0M535 68.8h0M494 45.8h0M543.5 67.2h0M512.7 63.1h0M487.6 47.2h0M495.1 45.5h0M538.6 66.6h0M517.5 55.7h0M531.4 52.8h0M496.9 47h0M547.7 86.3h0M545.9 81.1h0M507.5 65.7h0M489.3 37.6h0M497.7 46.8h0M499.7 72.4h0M543.7 64.1h0M547.1 76.9h0M543.9 64.9h0M488.9 38.5h0M501.7 64.9h0M507.3 57.7h0M542.2 61.2h0M543.3 82.3h0M497.8 46.6h0M502.4 57.2h0M535.1 51.2h0M538.7 50.9h0M491.1 51.7h0M537 74.4h0M494.9 54.6h0M542 74.9h0M520.9 65.2h0M499.2 54.5h0M545.1 69.9h0M495 54.5h0M508.4 65.4h0M484.7 45.5h0M513.9 52.5h0M504.7 59.4h0M545.9 82.1h0M498.8 50.3h0M497.9 63.5h0M539.1 77.1h0M514.1 59.4h0M536.9 63.2h0M500 70.3h0M488.8 46.8h0M538.9 57h0M503.9 63.3h0M546.6 84.8h0M520.1 67.4h0M509.9 63.8h0M536.5 67.2h0M488.9 44.5h0M515 57.7h0M538.9 47.7h0M508.5 63h0M512.6 54.7h0M525.6 60.7h0M505 62.6h0M505.1 48.9h0M502.2 55.1h0M502.1 55.7h0M527.5 52.1h0M506.4 50.8h0M520 55.3h0M491.2 47.6h0M494.2 50.2h0M541.2 64.8h0M515 53.4h0M509.8 50.7h0M531.8 52.9h0M498.5 60.5h0M493.5 44.8h0M496.9 45.9h0M542.1 78.1h0M487.8 48.3h0M539.9 50.9h0M501.9 63.6h0M523.2 57.3h0M539.7 51.6h0M536.1 52h0M544.2 54.6h0M531.4 64.8h0M538.7 66.9h0M488.7 50.7h0M502.8 48.6h0M514 63.4h0M508.1 60.9h0M542 57.6h0M527.2 51.6h0M492.1 46.9h0M535.1 65.9h0M496.6 44.9h0M539.2 77.5h0M490.9 41.6h0M537.9 47h0M531.6 69.3h0M501.6 60.7h0M529.8 64.5h0M534.6 70.5h0M541.5 73h0M534.8 50.6h0M546.8 68.6h0M520.4 56.7h0M540.3 71.4h0M502.7 59.7h0M506.6 52.2h0M519.2 62.4h0M510.6 51.7h0M495.6 56.1h0M535.1 63.1h0M499.4 50.3h0M507.8 49.1h0M535.2 52.6h0M536.3 52.7h0M506.8 61h0M499.4 60.7h0M547.8 75.8h0M511.2 54.4h0M546.2 75.8h0M539.8 72.4h0M511.3 62.8h0M499.8 57.1h0M548.1 88.4h0M537.3 54.6h0M517.2 56.8h0M537.9 62.5h0M544.4 59.4h0M543.3 65.8h0M490.5 51.9h0M523 61.2h0M540.2 71.6h0M521.1 62.3h0M547.3 72.3h0M499.1 63.2h0M521.8 53.2h0M523.3 68.5h0M545.7 61.3h0M511 66.5h0M541.9 78.7h0M501.1 70.3h0M499.5 53.3h0M543.6 75.3h0M525.7 57h0M547 84h0M547.8 87.4h0M516.8 66.7h0M498.5 51.9h0M494.9 46.2h0M535.1 55.5h0M516 66.7h0M489.8 51h0M539.8 55.3h0M500.8 64h0M543.4 50.1h0M501.8 60h0M511.1 54.9h0M519.9 57.7h0M529.6 53.4h0M520.1 64h0M499.1 69.2h0M507.2 52h0M507.8 53.8h0M549.2 79h0M534.7 56.5h0M531.1 52.8h0M535.8 65.6h0M545.3 68.7h0M545.2 76.2h0M505.9 50.6h0M521.1 65.2h0M524.9 57h0M541.6 65.6h0M531.2 70.5h0M502.8 64.5h0M549.1 70.8h0M538 57.1h0M491.7 52.2h0M529 67.3h0M491.2 46.8h0M513.5 64.6h0M543.8 77.8h0M528.9 66.1h0M538.5 53.2h0M531.1 67.7h0M519.2 55h0M489.5 49.7h0M535.5 74.8h0M511.1 61.8h0M546.6 78.2h0M529.8 59.5h0M524.8 54h0M498.4 63.9h0M541.2 74h0M534.1 57.7h0M504.4 57.2h0M544.1 62.9h0M539.5 52h0M499.3 61.2h0M511.2 53.6h0M484.9 42.6h0M528.3 67.2h0M488.5 52.6h0M547.5 86.9h0M543.9 55.3h0M526.8 65.5h0M499.2 50.7h0M508.8 63.3h0M521.5 55.2h0M532.7 69.4h0M522.2 55.6h0M547.9 91.2h0M504.2 64.4h0M499.3 64.3h0M530 69.2h0M544.5 77.4h0M515.8 57.1h0M510.2 60.9h0M541.3 53.3h0M546.9 67.9h0M502.7 67.8h0M502.2 45.1h0M521.2 57.3h0M492.9 42h0M521.2 64.7h0M492.1 41.6h0M493.7 51.5h0M500.3 49h0M547.8 72.3h0M492.5 51.1h0M508.2 62h0M524.6 63.6h0M500.4 52.6h0M532.7 50.7h0M543.9 51.1h0M494.3 39.3h0M535.4 58.4h0M543.9 56.2h0M521.2 52.7h0M509.2 61.6h0M500.8 58h0M536.1 74.2h0M491.4 40.5h0M497.4 43.5h0M489.7 50.7h0M521.4 63.5h0M514.6 55.3h0M503.9 67.8h0M498.8 51.9h0M502.5 63.6h0M509.7 51.2h0M545.6 66.1h0M540.9 64h0M503.1 69.1h0M529.8 61.9h0M518.8 60.5h0M522.1 62h0M491.3 37.1h0M496.1 46.5h0M530.6 53.8h0M530.8 69.7h0M541.4 76.7h0M533.4 71.4h0M532 63h0M514.2 57.2h0M508.3 54.9h0M493.9 44h0M526 67.9h0M516.5 64.8h0M503.6 65.4h0M503.7 69.6h0M504.1 59h0M505.3 48.3h0M546.1 76.8h0M546.4 63.6h0M532.2 49.7h0M518 57.4h0M542.6 64.9h0M535.1 49.2h0M517.5 65.2h0M504.5 58.5h0M485 42.9h0M489.7 46.9h0M541.2 68.5h0M513.8 60.2h0M534.7 54.5h0M535 56.4h0M525.9 69.1h0M537.6 64.7h0M549.6 72.4h0M541.4 74.3h0M498.1 56.1h0M546.8 90.3h0M540.9 54.5h0M540.7 54.7h0M539.6 53.5h0M491.7 39h0M507.1 59.5h0M488 39.9h0M543.8 75.9h0M513.3 52.1h0M537 61.2h0M530.1 66.6h0M528.7 56.5h0M499 48.8h0M549.2 69.2h0M533.7 55.2h0M544.4 79.1h0M501.8 67h0M532.3 60.2h0M542.4 56.9h0M546 66h0M505 51.1h0M492.2 50.7h0M538.6 53.3h0M524.5 57.4h0M538.3 74.5h0M503.5 56.7h0M526.2 56.5h0M548.6 88.4h0M489.1 46.7h0M541.9 67.9h0M541.6 49h0M501.1 64.6h0M536.7 62.3h0M542 63.1h0M540.3 65.6h0M522.5 66h0M499.2 63h0M501.9 45.3h0M492.5 45.6h0M536.9 75.9h0M537.7 48.7h0M540.1 53.8h0M548.5 69h0M544.1 70.2h0M503.1 52.4h0M503.7 53.4h0M546.6 68.1h0M546.2 63.1h0M502 63h0M508 62.3h0M520 56.8h0M542.2 60h0M532 66.8h0M522.5 56.4h0M497.5 53.7h0M509.7 58.1h0M497.5 60.1h0M494.1 52.1h0M540.7 58.1h0M510.8 54h0M528.5 70.6h0M540.3 45.7h0M486 50.4h0M494.3 40.9h0M508.1 56.5h0M535.2 50.8h0M525.9 62.3h0M537.4 48.2h0M547.8 77.2h0M525.6 67.5h0M543.4 62.8h0M496.9 55.2h0M498.1 56.7h0M532.1 64.7h0M534.2 54.1h0M530.3 66h0M540.9 47.1h0M543.5 60.3h0M498.4 56.9h0M547.1 85.3h0M523.4 55.7h0M539 69h0M501 45.7h0M541.3 65.6h0M544.2 58.7h0M543.1 70.1h0M506.5 55h0M500.9 52.9h0M509.5 62.2h0M507.3 66h0M528.5 56h0M540.3 58.2h0M536.2 73.5h0M494.8 41.2h0M534.2 70h0M497.1 61.9h0M505.1 68.7h0M490.7 36.1h0M490 40.5h0M541.6 53.2h0M513.8 52.8h0M491.1 47.5h0M524.5 53h0M492.9 40.8h0M490.3 52.9h0M524.6 65.3h0M513.1 54.4h0M508.8 52.7h0M547.1 73.3h0M496 44.6h0M533.4 50.9h0M532 53.1h0M534.2 51.4h0M535.3 61.9h0M529.3 63.9h0M536.4 49.2h0M498.5 51.1h0M491.8 49.5h0M546.1 69h0M523 59.4h0M505.6 56.2h0M515.7 54h0M548.8 88.1h0M535.2 74.4h0M535.8 53.3h0M499.4 57.7h0M531.5 68.7h0M488 41.9h0M526.4 68h0M498.1 54.9h0M514.9 54.2h0M549.7 89.4h0M528.8 58.8h0M521.5 66.9h0M504.7 61.6h0M531.1 54h0M503.4 57.6h0M499.6 65.3h0M545.5 64.3h0M488.4 50.6h0M534.9 65.5h0M549.7 88.5h0M547.8 80.6h0M506.3 61.2h0M486.1 39.9h0M542.9 57.7h0M532.7 66.8h0M509.3 52.9h0M519 63.5h0M532.1 60.6h0M497.2 44.6h0M518 63h0M518.4 58.9h0M508.6 62.5h0M512.2 51.7h0" stroke="#3CBA3C" stroke-width="1.3" stroke-linecap="round" fill="none"/><path d="M572.6 159.4h0M583.4 170h0M600.5 178.5h0M601.4 173.9h0M579.4 178.5h0M582.3 179.7h0M581.3 180.1h0M572.1 163.8h0M572.9 158.9h0M577.6 163.5h0M570.3 168.1h0M593.2 179.9h0M572 170.8h0M578.7 163.3h0M588.3 167.1h0M587.8 181.1h0M579.7 178.1h0M589.2 170.3h0M588.4 184h0M586 167.2h0M575.1 168.5h0M598.1 172h0M572.5 170.5h0M576.5 167.4h0M568.6 161.7h0M578.3 162.1h0M584.6 168.1h0M583.2 182h0M573.3 170h0M598.3 172.6h0M595.8 175.7h0M592.1 174.5h0M571.6 158.6h0M584.6 175h0M602 174.6h0M596.4 179.7h0M582.3 178.9h0M595.2 173h0M582.2 178.6h0M578.5 163.3h0M575 159.7h0M594.2 173.2h0M594.6 172.7h0M579.6 168.1h0M584.8 175.4h0M577.7 158.5h0M591.5 178.8h0M587.5 166.7h0M576.6 175.1h0M579.3 163.6h0M593.2 172.9h0M588.7 168.9h0M596.5 172.9h0M576.3 158.6h0M587.1 183.3h0M575.3 164.5h0M588 181.7h0M578.1 167.3h0M595.7 175.7h0M575.5 173.7h0M581 164.2h0M578.8 159.8h0M591.2 171.3h0M592.1 177.7h0M573.1 157.7h0M588.4 179.2h0M576.5 165.7h0M601.1 176.6h0M571.4 160.2h0M573.7 163.4h0M591.9 178.9h0M594.7 176.7h0M575.2 176.1h0M584.9 165.5h0M590.2 179.9h0M589.2 183.9h0M600.4 172.7h0M568.5 165.9h0M582.7 173.2h0M592 182.5h0M580.2 170.2h0M587.1 181.3h0M593.3 182.9h0M586.6 164.9h0M573.8 164.4h0M586.5 182.6h0M605.4 173.5h0M575.5 176.1h0M583.5 162.6h0M573.3 172.9h0M596.3 177.7h0M570.2 162.9h0M579.1 171.6h0M590.3 169h0M582.8 160.3h0M576.8 166.6h0M588.1 179.3h0M576 167.3h0M583.4 167.9h0M585.6 163.2h0M599.6 175.6h0M593.8 175.6h0M571.9 172.6h0M582.2 177.4h0M569 162.5h0M571.9 172.7h0M587.4 181.1h0M569.2 168h0M583.9 169.4h0M571.3 160.4h0M587.3 163.7h0M596.8 179.5h0M580.4 163.3h0M583.1 178h0M575.7 170.7h0M581 168h0M582 169.4h0M588.4 182.6h0M587 176.2h0M596.9 181.7h0M581.2 175.2h0M592.1 176.5h0M584.9 171.2h0M590.2 179.2h0M575.1 174.8h0M592.4 176.5h0M569.1 167.4h0M571.4 169.8h0M588.3 165.2h0M573.8 169.5h0M596.1 182.1h0M579.8 171.8h0M583.9 175.1h0M577.5 157.3h0M572.2 164.4h0M586.7 173.8h0M589 175.7h0M585.9 173h0M594.1 179h0M592 171.8h0M575.4 164.2h0M574 174.7h0M572.2 162.1h0M572.4 170.6h0M576.2 171.6h0M583.1 181.3h0M574.1 174.3h0M581.3 168.2h0M594.6 182.8h0M582.4 162h0M587.1 172.2h0M586.5 183.4h0M597.7 181.3h0M579.1 169h0M569.1 162h0M590.1 181.2h0M584.1 173.2h0M593.6 175.3h0M599.8 171.7h0M586.3 181h0M579.1 171.8h0M586.2 174.3h0M575.8 171.3h0M591 166.6h0M577.6 158.1h0M584.1 182.2h0M585.3 163.2h0M574.4 162.1h0M592.3 175.9h0M574.8 171.7h0M602.7 175.7h0M606.4 172.8h0M569.5 160.8h0M584.8 176.8h0M583.3 180.2h0M595.4 169.9h0M585.6 172.7h0M588.7 168.9h0M584.3 165.4h0M575.4 175.9h0M600.2 172.9h0M585.3 170.5h0M574.4 174h0M593 181.8h0M575.8 170.5h0M584.9 180.7h0M575 164.6h0M605.2 174.4h0M591.1 172.5h0M586.2 170.2h0M582.4 161h0M581.1 175.1h0M597.8 172.8h0M575.8 160.5h0M585.5 180.5h0M568.9 158.9h0M581.7 180h0M588.2 165.3h0M570.2 159.8h0M593.8 169.6h0M578.6 172.8h0M589.5 175.2h0M581.6 179.6h0M587.6 166.2h0M576.2 175.8h0M577.6 173.1h0M569.1 158.3h0M580.6 157.9h0M589.4 182.7h0M578.9 168.5h0M574.7 159.2h0M575.6 171.5h0M594.4 177.6h0M579 178.3h0M605.3 173.2h0M570.2 161.4h0M583.4 180.4h0M588.5 180.9h0M570.9 166.4h0M583.9 167h0M579 160.4h0M587.9 171h0M574.3 163.2h0M582.1 160h0M578.3 169.4h0M568.9 162.3h0M592.8 170.2h0M575.6 168.8h0M585.7 167.4h0M603 173.9h0" stroke="#5E8CF6" stroke-width="1.3" stroke-linecap="round" fill="none"/><rect x="468.6" y="7.8" width="177" height="11.2" fill="#B5E2DB" stroke="#6a6a6a" stroke-width="1"/><text x="558" y="16.6" font-size="9.4" text-anchor="middle" fill="#1a1a1a">iPSC-TM with recombinant cytokines</text><rect x="469.3" y="22.8" width="176" height="176.4" fill="none" stroke="#111" stroke-width="1.5"/><circle cx="654.7" cy="92.8" r="3.15" fill="#E4575B"/><text x="661" y="95.6" font-size="7.7" fill="#222">RC1</text><circle cx="654.7" cy="105.8" r="3.15" fill="#3CBA3C"/><text x="661" y="108.5" font-size="7.7" fill="#222">RC2</text><circle cx="654.7" cy="118.7" r="3.15" fill="#5E8CF6"/><text x="661" y="121.5" font-size="7.7" fill="#222">RC3</text><text x="562.4" y="212.5" font-size="10.5" text-anchor="middle" fill="#1a1a1a">(n=2,327 cells)</text><path d="M35.1 304.8L37.7 304.4L38.8 303.6L41.8 302.7L42.7 303.5L43.4 302.8L43.9 301.9L45.7 301.9L47 301.9L48 301.1L48.8 300.3L50.8 301.1L52 301.5L52.5 300.4L55.2 299.4L56.1 299.5L58.4 299.1L58.8 298.7L60.6 298.4L62.4 300.3L64.9 300.7L64.4 299.6L66.3 300.3L67.2 301.2L67.8 301.6L68.9 302L70.5 301L72.5 302.4L73.8 301.8L74.5 303L75 303.2L77.4 304.5L77.8 304.8L79.4 306L80.9 307.4L83.2 307.7L83.1 308.1L83.7 308.6L86.3 309.9L86.6 311.1L86.9 312.9L87 314.9L86.1 316L84.9 316.5L84.4 318.1L84.7 320.4L85 320.9L85.6 323L84.6 324.3L83.1 325.6L81.8 326.1L79.5 327L77.9 327.6L77 327.6L76.4 328.3L74.4 326.8L73.1 328L72.3 327.9L70.3 326.6L70.3 326.9L69 327.4L67.3 327.8L65.4 328.4L63.3 328.7L62.1 329.7L60.3 330.1L59.9 330.5L58 330.7L57.9 331L56.9 333L55.1 333.5L54.5 333.6L53.4 334L52.9 334.9L52.8 334.3L50.8 336.1L50.1 335.3L49.4 336.6L47.2 335.5L46.6 334.6L46.5 333.7L47.1 332.2L46.3 330.7L47.3 329.7L47.6 329.7L47 327.9L46.5 326.8L47.6 324.2L48.5 323.2L48.5 321.3L49 321.2L48 318.7L47.9 319.5L48.3 317.6L45.7 316.5L44.7 316.2L43.3 315.4L41.6 315.7L39.7 315.9L37.4 316.5L36.6 315.5L37 313.4L37.6 311.3L37.9 309.6L38.1 308.9L36.9 306.8L36.5 305.9L35.2 306.1Z" fill="#5E86F5"/><path d="M56.9 332.5h0M43.6 316.3h0M36.7 304.5h0M70.5 327.7h0M56.1 332.9h0M81.2 327.5h0M42.8 316.2h0M63.2 330.3h0M71.6 327.5h0M68.7 300.1h0M49.1 336.4h0M67.3 300h0M72.5 328h0M42.2 315.8h0M85.7 321.4h0M36.3 305.2h0M66.4 300.3h0M43.9 302.1h0M82.2 307.8h0M67.5 300.3h0M47.9 318.9h0M73.3 327.9h0M44 301.5h0M57.7 299.2h0M81.2 307h0M37.8 303.4h0M86.6 320.2h0M74.3 327.8h0M68.8 300.4h0M59.3 331.9h0M46.8 335.8h0M85.8 320.3h0M53.3 299.5h0M52.3 335.1h0M47.2 324.3h0M35.8 305.3h0M66.1 300.3h0M86.7 314h0M77.6 327.8h0M79.6 327.9h0M86.4 319.7h0M69.9 300.4h0M86.7 316.4h0M56.4 332.7h0M86.3 318h0M35.7 307.2h0M86.8 320.8h0M67 329h0M47.1 325.7h0" stroke="#5E86F5" stroke-width="1.0" stroke-linecap="round" fill="none"/><path d="M81.5 325h0M78.7 325.7h0M66.2 323.6h0M77.7 319.6h0M60.9 321h0M53.2 303.6h0M63.2 301.3h0M61.5 327.2h0M52.8 332.1h0M46.9 308.1h0M48.5 307.3h0M72.7 310.8h0M51.2 334.1h0M65.4 315.6h0M51.6 327.2h0M39.7 312.6h0M51.7 312h0M52.7 314.6h0M46.2 314h0M69.4 315.9h0M72.7 323.3h0M74.7 316h0M80.4 313.4h0M44 314.3h0M52.2 305.6h0M55.9 332h0M73.9 320.3h0M54.2 317.8h0M47.9 315.8h0M62.9 307.8h0M65.6 315.3h0M70 315.4h0M57.2 323h0M47.9 318h0M50.7 330.5h0" stroke="#ffffff" stroke-width="0.9" stroke-linecap="round" fill="none" stroke-opacity="0.75"/><path d="M52.7 320h0M67.8 327.6h0M57.6 323h0M65.9 326h0M57.1 321.1h0M67.1 324.5h0M68 320.8h0M56 329.1h0M53.1 327.8h0M58 321.8h0M58.5 318.8h0M66.3 325.3h0M56.3 327.4h0M53.8 328.9h0M66.9 327.3h0M66.3 328.2h0M55.8 325.3h0M61.9 320.5h0M62.8 325.2h0M60.9 319.8h0M55.2 324.3h0M64 323h0M58.7 319.6h0M60.8 324.2h0M60.2 322.7h0M55.7 331.3h0M59 324.8h0M61.6 329.1h0M60.3 328.4h0M60.8 327.3h0M60.2 320.7h0M55.5 321.2h0M57.1 327.5h0M60.5 324.8h0M56.6 318.6h0M67.4 319.4h0M52.9 324h0M63.4 327.6h0M53.2 329.2h0M65.2 322.5h0M58.4 320h0M58.6 318.5h0M58.6 323.8h0M59.5 326.5h0M57.2 324h0M67.4 326h0M57.9 327.4h0M55.5 321.9h0M55.8 319.8h0M60.9 325.4h0M58.9 326.9h0M59.7 324.4h0M67.8 323.5h0M54.7 328.4h0M68.5 321.8h0M57.2 326.4h0M63.7 326.6h0M55.1 326.6h0M61.4 326.1h0M53.2 323h0M65.1 323.3h0M55.3 319.2h0M69 323.1h0M54 327h0M57.7 323.5h0M56.9 327.1h0M66.6 325.9h0M62.1 323.3h0M67.9 324.2h0M67.3 320.1h0M69.3 323.6h0M55.5 323.2h0M54.2 330.1h0M52.6 327.9h0M52.7 325.5h0M57.2 330.7h0M65.9 327.7h0M64.5 327.2h0M60.7 321.5h0M56.4 327.9h0M58.7 327.5h0M59.1 320.5h0M56 324.1h0M64.4 325.3h0M55.8 323.4h0M60.5 325h0M54.2 326.3h0M61.9 322.5h0M69.3 324.4h0M56.5 323.7h0M52.8 322.1h0M56.6 330.8h0M59 322.2h0M61.5 323.4h0M68 320.2h0M62.3 324h0M62.9 328.5h0M60.9 324.5h0M60.9 324.4h0M67.5 327.1h0M64.1 328.7h0M62.7 318.4h0M66.2 320h0M59.3 327.1h0M64.7 328.5h0M58.4 319.9h0M64.9 322.3h0M61.3 321.5h0M64.4 319.5h0M55.3 328.8h0M61.6 319h0M63 327h0M61.3 320h0M54.7 324.8h0M52.4 323h0M57 318.9h0M57.7 324.2h0M54.6 329.9h0M54.9 331.4h0M60.6 328.3h0M54.8 320h0M53.2 326.9h0M67.7 325.6h0M55.9 328h0M60.7 321.1h0M61.1 325.2h0M63 326.8h0M52.1 323.5h0M54.4 329.9h0M53.4 323h0" stroke="#ffffff" stroke-width="1.25" stroke-linecap="round" fill="none" stroke-opacity="0.9"/><path d="M105.1 311.5L106 310L107.1 309.8L108 307.9L109.9 306.9L110.8 306.9L111.6 307.6L113.4 306.6L114 307.4L115.4 306L116.3 305.3L117.4 305.9L118.8 305.2L119.3 305.2L120.5 304L120.8 302.8L122.2 302.3L121.2 300.7L122.5 299L124.1 298.6L124.6 298.7L126.6 300.9L126.2 301L128.3 302.5L127.9 302.1L130.8 301.9L131.5 301.6L133.2 300.6L134.7 300.5L135.6 299.3L136.9 299.3L138.1 298.2L139.6 298L140.7 296.7L140.9 297.6L142.3 296.6L144.3 296.3L144.7 297.3L146.7 296.2L146.9 297.9L148.5 299L148.3 299.1L148.4 300.3L149 301.8L148.7 302.2L148.3 304.1L146.5 305.5L146.8 307.3L145.8 308.8L144.7 309.9L143.4 310.1L143.4 310.5L141.4 311.6L141 312.6L140.6 314.6L141 315.7L139.7 316.4L140.7 317.9L141 317.9L140.3 318.8L140.3 320.6L141.5 321.8L141.3 323.2L140.6 324.5L140.8 325.4L139.8 326.9L138.2 328.2L137.4 328.4L136.6 329.1L135.4 329.6L134 329.6L132.4 329.4L131.4 329L129.8 330.3L129 329.4L127.5 328.8L126.5 329.5L125.9 329.5L123.9 329.5L122.4 328.9L121.9 328.9L120.7 328.9L119.4 328L117.2 327.9L115.1 326.6L114.4 325.3L113.4 326L112 324.8L112 323.7L109.7 324.1L108.7 323.9L108 322.9L107.6 321.6L107.1 320.9L104.5 318.3L104.3 316.4L104.4 314.9L104.7 313.5L105.4 313.8L103.9 312.6Z" fill="#E9585E"/><path d="M148.3 297.3h0M140.7 322.4h0M142.8 296.7h0M104.1 316.9h0M130.9 330.1h0M137 328.3h0M147.2 307.8h0M121.6 329h0M104 314.8h0M148.9 303.8h0M141.3 315.6h0M140.9 325.3h0M133 329.8h0M137.8 328.5h0M120.4 302.1h0M109.6 306.9h0M141.9 313.5h0M141.3 315.1h0M104.6 311.4h0M148.6 299.6h0M119.7 328.2h0M106.6 321.7h0M136.7 329.1h0M108 323.9h0M121.8 329.3h0M105.3 321.8h0M121.8 330.2h0M126.7 300.4h0M128.2 329.4h0M103.4 314.9h0M148.8 303.9h0M103.6 316.4h0M140.3 325.6h0M128.3 302.1h0M150.1 302.4h0M148.6 304.9h0" stroke="#E9585E" stroke-width="1.0" stroke-linecap="round" fill="none"/><path d="M127.3 323.7h0M142.7 307.6h0M140.3 303.9h0M132.3 309.1h0M140.2 315.9h0M138.2 300.4h0M120.6 307.7h0M140.3 308.2h0M128.4 326.1h0M130.8 312.9h0M138.7 312.7h0M128.1 315.3h0M132 319.8h0M126.6 319.4h0M133.5 308.3h0M124.4 312.7h0M132.2 324.1h0M126.1 318.1h0M125.4 310.3h0M108.3 318.7h0M115.8 322h0M109.1 314.2h0M123.1 316h0M119.9 322h0M131.1 306.1h0M142.5 306.5h0M121.2 317h0M138.4 305.4h0M123 327.1h0M114.7 324.7h0M146.3 304.7h0M108.2 311.2h0M137.6 317.7h0M134.3 326.5h0M146.8 304.6h0M107.2 315.7h0M127.9 325.8h0M106.4 315.9h0M116.5 307.5h0M129 322.7h0M139.6 302.6h0M108.8 309.3h0M133.2 315.6h0M116.6 317.5h0M124.9 316.5h0M107.6 321.8h0M139.2 317h0M131 322.9h0M132 318.8h0M137.5 322.2h0" stroke="#ffffff" stroke-width="0.9" stroke-linecap="round" fill="none" stroke-opacity="0.75"/><path d="M140 317.4L141.9 315.4L141.9 315.6L142.5 313.5L143.7 312.8L144.2 312.3L145 312.6L146.3 310.9L147.7 309.7L149.5 310.3L150 309.6L152.2 309.5L152.5 308.6L154.1 308.5L155.8 308.2L157 309.7L157.8 310.2L159.6 310.7L160.7 310.8L161.2 311L162.1 310.7L164.7 310.6L164.9 310.7L165.5 309.5L168.2 308.8L169.7 306.8L171.7 307.4L172.3 307.5L174.5 307.5L175.6 307.7L175.7 309.4L177.3 310.1L179.1 311.5L179.5 313.1L181.1 313.9L181.1 316.2L181 317.3L180.8 319.1L180.6 319.4L179.7 322.4L178 321.8L177.4 324.6L177.9 326L176.6 327.1L177.6 327.8L177 328.8L174.6 330L174.8 332.1L172.2 332.6L171.6 333.3L169.5 333.2L167.4 334.6L166.7 333.7L164.2 334.4L162.3 335.2L160.1 335.4L159.6 335.9L158 337.4L156.3 338.3L154.6 336.5L154.4 335.5L152.1 334.1L151.1 333.2L150.2 332.5L149.7 331.8L148.5 329.9L148.6 328.9L147.5 328.7L147.5 327L146.7 325.8L145.3 324.2L143.6 324.9L142.7 323.4L142.4 323.1L141.4 321.7L140.7 321.4L140.1 318.9Z" fill="#E07A28"/><path d="M176 308h0M177.1 327.7h0M160.8 336.3h0M177.8 327.9h0M140.1 319h0M149.3 331.8h0M177.2 326.6h0M143.5 324.5h0M161.4 310.9h0M156.4 337.8h0M176.6 327.8h0M148.2 310.1h0M162.5 334.9h0M179.4 323.2h0M180.1 311.7h0M139.9 321.3h0M143.6 313.5h0M177.4 326.8h0M181.5 317h0M181.1 316h0M162 335.7h0M141.8 324.1h0M156.5 308.9h0M177.8 326.1h0M167.1 308.7h0M177.4 309.6h0M139.8 320.7h0M170.6 307.8h0M178.7 311.6h0M177.5 326.5h0M181.7 319.3h0M177.1 329.4h0M149.8 309.7h0" stroke="#E07A28" stroke-width="1.0" stroke-linecap="round" fill="none"/><path d="M156.1 313.9h0M153.7 324.6h0M153 326h0M157.4 317.2h0M159 321h0M156 314.6h0M143.5 319.2h0M142.6 320.6h0M166.4 329.5h0M154.4 315.9h0M147.8 327.9h0M158.9 331.3h0M158 334.5h0M153.8 309.5h0M163.3 318h0M150.8 328.4h0M165.2 332.2h0M142.5 315.5h0M154.9 322.9h0M170.3 310.3h0M171.3 311.9h0M166.9 329.9h0M155.3 336.6h0M158.9 328.9h0M152.6 318.4h0M175.4 325.9h0M151.2 326.9h0M157.9 331.4h0M159.8 332h0M156.3 336.9h0M168.7 309.9h0M158.3 318.6h0M177.2 321.4h0M175.7 315.5h0M164.6 333.4h0M153.3 311.5h0M162.4 325.7h0M174.3 321h0M160.7 320.3h0M164.9 332.4h0M168.8 317.5h0M165.5 330.4h0M150.6 327.3h0M158.1 326h0M166 333.9h0M172.8 328.1h0M169.4 327.8h0M166.5 321.7h0M170.7 312.1h0M155.6 324.5h0M163.3 323.1h0M175.7 323h0M174.9 321.5h0M151.4 312.5h0M167.2 321.1h0M174.7 314h0M174.7 319.9h0M173.8 329.7h0M174.1 308.1h0M148.7 325h0M178.5 317.2h0M145 318h0M164 316.8h0M172.6 320.5h0M152.3 329.5h0M174.5 314.5h0M158.6 310.6h0M168 313.9h0M157.8 311.9h0M149.8 329.4h0M173.2 324.1h0M162.1 332.4h0M175.1 313.2h0M168.5 324.2h0M163.6 331.3h0M172 309.6h0M169.7 331.5h0M166 331.4h0M165.7 329.1h0M172.7 310.9h0M155 335h0M167.6 311.6h0M144.4 314.4h0M165.5 319.3h0M167.4 324.6h0M163.6 324.2h0M162.7 318.3h0M163 317.9h0M175.3 319.9h0M165.9 315.4h0M166.4 316.1h0M164.5 316.2h0M170.8 330.9h0M154.3 326.5h0M171.3 328.5h0M155.3 324.1h0M153.5 334.6h0M149.1 324h0M179.7 319.8h0M177.5 310.7h0M176.9 317.5h0M179.6 317.5h0M169.3 330.1h0M174.4 330.2h0M159.5 320.3h0M151.2 311.3h0M178.2 312.3h0M167.6 310.5h0M152.3 321.5h0M160.8 334h0M170.5 324.7h0M163.3 315h0M170.3 331h0M156.5 329.1h0M150 312.9h0M175.9 314.7h0M146.9 323h0M161.8 323.9h0M150.2 316.7h0M177.1 316.2h0M158.2 316.9h0M152.2 330.2h0M149.2 312h0M156.9 318.4h0M164.4 323.3h0M148.8 313.3h0M172.5 324.2h0M171.2 325.8h0M163.8 328.7h0M174.7 319.1h0M157.3 315.6h0M165.7 332.9h0M173 331.3h0M148.6 317.5h0M151.5 310.7h0M153.8 320.5h0M169.4 315.3h0M145.9 322.5h0M179.2 320.5h0M142.5 318.6h0M153.4 320.5h0M163.5 332h0M155.6 319.5h0M150.5 324.5h0M163.6 323.8h0M160.9 324.5h0M168.9 324.2h0M174.1 322.9h0M156.1 333.4h0M160.2 319.5h0" stroke="#ffffff" stroke-width="0.9" stroke-linecap="round" fill="none" stroke-opacity="0.75"/><path d="M43.9 359.4L45 358.5L47 357.4L48.1 356.5L49.4 356.1L51.5 355.4L53.1 356L54.5 356.2L55 356.2L56.5 356L57 355.8L59.5 357L60.1 356.3L60.7 355.7L61.1 355.4L62.5 355.8L64.8 355.2L64.7 355.6L67.1 355.2L68.7 355.9L68.2 357.9L68.2 359.8L68.8 360.6L68.4 363.1L68.4 363.3L68.7 364.7L68.5 366.7L67 368.5L66.4 368.4L65.4 369.7L62.6 369.5L61.2 370.1L59.5 370.1L57.2 369.7L55.4 370L54 369.4L52 369.1L50.8 368.9L50 369.3L47.3 367.7L46.8 368L45.1 367.9L45.2 366.3L43.1 366.6L43.8 365.3L42.7 363.3L43.8 362L43.9 360.2Z" fill="#E044EE"/><path d="M67.5 356.2h0M58.3 369.8h0M44.6 358.1h0M50 355.5h0M44.7 366.4h0M42.8 363.1h0M68.6 363.3h0M43 364.2h0M47.9 356.2h0M62.9 370h0M47.4 356.4h0M43.2 364.2h0M48.7 368.5h0M68.2 366h0M68.7 366.9h0M60.1 370.4h0M43.7 364.6h0M68.4 366.9h0M45.4 367.4h0M49.6 355.5h0M51 369.3h0M57.8 369.8h0M48.4 356.1h0M68.7 364.2h0M46.1 356.9h0M69.2 359.9h0" stroke="#E044EE" stroke-width="1.0" stroke-linecap="round" fill="none"/><path d="M67.4 360.1h0M62.3 368.9h0M56.8 363.9h0M57.9 364.4h0M63.3 368.8h0M62.7 361h0M50.9 364.8h0M63.2 355.9h0M50.6 358.9h0M49.2 365.7h0M64.1 357.6h0M51.3 365.4h0M56.9 365.1h0M64.9 358.9h0M54.2 360.7h0M63.4 367.5h0M65.4 358h0M52.4 363.5h0" stroke="#ffffff" stroke-width="0.9" stroke-linecap="round" fill="none" stroke-opacity="0.75"/><path d="M18.7 362L19.4 361.8L21.9 361.9L22.1 361.1L23.1 360.7L24.3 361.4L25.7 361L27.4 363.1L28.3 363.2L30.2 364.1L30.6 365L32.2 365.7L32.9 366.2L34.7 366.5L35.4 366.7L35 367.8L32.4 367.8L30.9 368.6L29.7 368.3L27.4 369.3L26.5 368.5L25.3 369.7L23.6 368.6L21.8 367.8L21.3 367.3L19.9 367.2L17.9 365.5L19.1 364.2L18.9 364L18.2 363.4Z" fill="#F044E0"/><path d="M22.7 361.5h0M30.3 364.3h0M26.9 368.9h0M20.9 367.1h0M34.9 367h0M20.1 366.3h0M29.9 368.8h0M28.6 363.3h0M33.5 367.8h0M18.9 362.1h0M34.6 366.9h0M20.4 361.8h0M19.4 365.4h0M19 362.9h0M19 362h0" stroke="#F044E0" stroke-width="1.0" stroke-linecap="round" fill="none"/><path d="M113.2 361.2L114.1 361.2L115.6 361.1L116.3 360.1L118 360.4L119.2 360.8L120.5 359.7L120.8 360.5L122.7 359.4L123.1 359.2L124.3 359.2L126 358.8L126.9 357.8L126.7 358.5L128.1 357.4L130 357.6L131.4 357.7L132.2 357.2L133.3 358L133.9 357.9L136.3 358.9L137 357.1L137.7 359.1L138.9 359L139.6 360.7L141.4 361.1L142 362.8L142.9 364.4L143.7 366.2L144.4 368.9L144.4 369.7L143.9 372.1L144.8 373.4L145 375.7L144.4 377.6L143.1 379.6L142.2 381L141.2 380.3L141.2 381.8L140.3 383.1L139.5 384.7L137.9 385L137.6 386.7L136.9 387.1L137.3 386.5L136.1 387.9L133.7 389.6L133.1 389.3L131.6 389.1L130.5 389.6L130.3 389.8L128.1 390.8L127.4 390.8L126.1 390.9L124.7 391.9L123.7 390.7L122.5 391.6L122.1 390.6L120.6 390.4L119.5 392L118.8 390.9L116 393L115.8 393.8L116 394.4L115.4 395.9L115.6 396.3L113.9 398.6L114.7 401.5L114.9 401.4L115.4 402.1L114 404.1L114.4 406.1L115 406.6L114.3 407.7L114.9 408.8L114.1 409.4L112.8 411.9L113.5 411.7L112.6 413.8L109.9 413.3L109.2 412.7L107.5 412.5L106.8 411.8L107.1 411.2L105.3 411.2L103.4 409.5L103.5 409.2L102.1 408.2L100.8 407.6L100.4 407.4L98.7 405.5L99.1 406.3L96.4 405.5L96.8 404.1L95.4 404.1L94.8 402.4L93.5 402.1L92.7 402.7L91 401.2L89.8 401L89.8 400L88.5 398.9L87.2 398.6L85.9 398.9L84.6 397.8L83.1 397.3L82.7 394.7L81.9 394L81.7 391.8L81.8 390.3L82.5 389.5L82 387.5L83.3 386.4L84.6 385.1L86.9 384.4L86.6 383.5L88.6 382.3L91.2 382L92.9 382.4L93.3 381.9L95.2 381.4L98 381L99.9 379.5L102.5 379.7L103.4 378.9L104.7 379.9L105.3 379.2L106 379.1L107.6 378.5L108.6 379L110 378.5L111.1 378.6L111.7 377L111.6 375.2L111.8 374.5L113.3 373L112.7 371.4L112.2 370.9L111.4 369.2L112.6 368.5L112.4 366.6L111.7 366.6L112.8 365.2L111.9 363.4Z" fill="#4CC19B"/><path d="M93.7 403.9h0M145.4 370.4h0M143 363.9h0M121.1 391.7h0M131.4 356.3h0M136.4 387.4h0M108.6 378.5h0M121.4 358.2h0M92.2 402.6h0M108.4 414.8h0M80.3 390.1h0M145.6 369.5h0M82.2 389.8h0M138.3 386.5h0M84.2 398.1h0M140.6 360.7h0M145.1 379.1h0M87.3 383.1h0M142 359h0M98.8 407.7h0M143.7 379h0M104.3 411.3h0M99.8 408.4h0M141.4 381.6h0M145.9 368.6h0M132.3 355.7h0M145.1 371.3h0M141.7 361.8h0M140.1 359.2h0M130.3 355.7h0M141.1 360h0M132.4 390.1h0M79.5 394h0M110.7 377.7h0M113.5 412.3h0M144.8 363h0M88.3 401.1h0M98.3 407.3h0M140 385.2h0M107.8 414.3h0M81.3 392.5h0M124.2 357.2h0M107.6 378.2h0M145 374.6h0M144.3 377.9h0M99 380.1h0M128.7 357.6h0M82.5 396.6h0M89.7 401.8h0M89.8 382h0M143.8 365.6h0M120.8 391.7h0M139.9 357.5h0M123.3 358.9h0M136.6 387h0M144.5 364.3h0M81 395.6h0M110 414.3h0M146.2 371.5h0M124.6 358.6h0M132.6 357.9h0M81.4 389h0M102 379.6h0M133.3 357.4h0M91.6 403.1h0M86.8 383.7h0M91.9 381.7h0M91.2 402.3h0M97.6 381.1h0M120.4 358.3h0M142.4 363.8h0M143.8 380.5h0M86.4 399h0M85.6 399.9h0M81.5 393h0M144.2 377.4h0" stroke="#4CC19B" stroke-width="1.0" stroke-linecap="round" fill="none"/><path d="M106.8 394.3h0M116.7 379.1h0M95 392.2h0M92.7 392.1h0M113.4 399.2h0M90.1 392h0M121.1 362.2h0M125.8 375.4h0M115.3 363h0M108.9 400.4h0M139 361h0M121.5 377.5h0M122.1 366h0M93.6 392.7h0M110.8 398.1h0M139 376.2h0M128.6 382.3h0M103.5 401.8h0M114 403h0M113.8 409h0M121.7 375.6h0M128.8 369.6h0M107.8 383.1h0M108.2 405.1h0M128.2 368.7h0M85.4 386.1h0M121.7 360.1h0M117.7 364.7h0M142.1 369.3h0M129 369.3h0M83.5 392.9h0M126.8 384.2h0M86.8 397.7h0M131.6 358.5h0M101.7 400.5h0M139.1 367h0M133.2 385.7h0M138.4 382.1h0M116.3 368.3h0M133.9 362.3h0M115.1 380.2h0M122.7 389.9h0M97.8 402h0M123.6 379.6h0M111.7 390.1h0M110.2 408.8h0M113.9 386.8h0M138.9 363.3h0M127.4 369h0M88.6 390h0M135.9 372.1h0M134.5 367.4h0M103.9 403.5h0M137.5 373.5h0M126.2 383.2h0M123.1 374h0M84 391.1h0M98 404.8h0M135.6 365.5h0M130.3 360.9h0M118.9 386.6h0M121.3 373.3h0M129.3 378.3h0M135 365.1h0M97.1 386.2h0M125.5 384.9h0M98.9 399.9h0M139.3 378.7h0M98.9 394.2h0M125.3 385.6h0" stroke="#ffffff" stroke-width="0.9" stroke-linecap="round" fill="none" stroke-opacity="0.75"/><path d="M60.2 412.4L60.2 410.2L61.6 410L63 408.3L62.7 407.8L64 407L65.4 405.4L68.8 406.1L69.7 405.4L70.1 404.7L72.9 405.7L74.6 406.9L75.6 406.1L75.7 407.7L76.4 409.4L77.6 410.1L78.7 411.3L78.4 412.9L80.3 413.3L80.8 414.6L81.2 415.4L81.6 417.1L82.5 416.9L82.4 418.3L83.5 418.3L83.6 419.2L84.5 422.1L85.6 422.6L85 421.8L84.4 423L84.3 425.4L84.7 426.1L85.2 428.2L83 429.5L82.8 429.3L81.6 430.7L80.1 431.1L78.3 431.5L77.6 431.3L76.3 432.1L75 432.2L73.4 432.3L72.3 431.8L70.9 431L68.5 431.5L68.5 431.6L67.1 430.9L64.7 431.3L66.3 429.7L64.1 429L63.2 429.2L62.5 428.5L61.7 428.8L61.6 427.3L59.6 425.7L59.4 423.3L58.2 422.6L58.6 420L57.9 417.6L57.5 416.4L59.7 414.7L58.5 414.6L59.3 412.2Z" fill="#48A6EE"/><path d="M59.4 412.1h0M80.5 431.3h0M60.2 426.2h0M79 412.2h0M76.9 408.9h0M79.1 431.4h0M79.3 430.9h0M85.4 423.8h0M73.5 431.9h0M74.9 407.6h0M84 429.6h0M80.2 413.7h0M77.9 409.8h0M75.3 431.4h0M58.2 421.7h0M77.3 410h0M82.7 429.8h0M84.8 426.6h0M58.1 416.9h0M83.6 430.1h0" stroke="#48A6EE" stroke-width="1.0" stroke-linecap="round" fill="none"/><path d="M62.9 423.5h0M73.7 416.3h0M66.3 425h0M74.9 414.5h0M72.1 408.9h0M65.1 407.6h0M76.1 424.7h0M67.2 412.4h0M71.4 413.7h0M64.6 418.1h0M82.8 425.9h0M75.1 416.5h0M71.1 423h0M77.4 418.5h0M70.3 422.2h0M66.9 412.4h0M76.6 423.6h0M73 413.7h0M79.9 426.2h0M64.3 421.2h0M80.2 423h0M77.4 414h0M82.2 429.6h0M82.2 426.8h0M80.4 421.9h0M72.3 430.1h0M78.7 426.7h0M79.6 425.6h0M77.4 426.9h0M76.8 421.3h0" stroke="#ffffff" stroke-width="0.9" stroke-linecap="round" fill="none" stroke-opacity="0.75"/><path d="M92.6 277.8L94.4 277.6L95.1 277.6L95.5 276.2L97.1 276.2L98.8 275.9L99.6 274.9L100.3 276.6L101.6 278L101.5 279.7L101.6 279.8L100.5 280.8L101.4 282.6L101.4 284L100.6 284.5L99 284.8L98.7 285.5L99 287.7L99.5 288.7L100.3 289.4L99.5 290.3L99.9 290.1L98.1 289.5L98.5 288.2L97.7 287.9L96.5 287.3L95.9 286.4L96.1 284.2L95.5 284L94.2 283.3L93.7 283.2L92.6 282.3L93.6 281.5L92.8 280.7L92.2 280.1L92.8 277.9Z" fill="#68AE26"/><path d="M94.4 283.6h0M99.2 276.8h0M99.4 289.8h0M93.9 277.5h0M101.2 282.9h0M95.8 285.6h0M100.1 290.5h0M97.9 276.2h0M101.4 279.5h0M98.6 289h0M92.7 277.9h0M92.8 279.9h0M99.1 276.8h0M101.4 280.7h0M95.8 285.5h0M92.5 280.2h0M96.5 276.4h0M98.5 289.1h0M101.1 282.4h0M93.4 277.5h0M93.5 277.6h0M98.1 276.5h0M92.5 281.1h0M95.3 284.8h0M97.1 287.5h0M101.5 279.3h0M99.2 289.6h0M97.4 275.9h0M96.9 276.3h0M100.1 290.2h0" stroke="#68AE26" stroke-width="1.0" stroke-linecap="round" fill="none"/><path d="M80.1 346.1L79.6 344.8L81.2 343.6L82.3 343.4L82.2 343.8L83.3 343.7L83.9 343.8L84 344.2L84 345.5L85.8 346.1L86.5 346.3L86.5 347.5L87.5 347.7L87.1 349L86.2 349.3L87.2 351.4L86.2 352.5L85.6 352.7L84.9 353.9L85.3 354.4L84.6 355.5L83.9 356.6L84.1 356.3L82.8 358.3L82.8 357.7L82.4 357.8L82.2 358.1L82.2 356L82 355.5L80.6 354.7L80.1 353.2L78.7 354.2L79.1 352.7L78.5 351.7L76.9 350.7L77.9 350L77.7 349.3L77.8 347.5L78.8 347L79.1 346.5Z" fill="#3CB96C"/><path d="M87.1 349.9h0M87.1 349.7h0M84.4 355.8h0M86.6 346.9h0M86.6 351h0M87.4 347.7h0M78.3 352.3h0M83.8 356.9h0M84 344.5h0M87.4 347.7h0M80.8 354.6h0M87.5 347.7h0M81.6 343.8h0M81.6 343.6h0M84.9 354.9h0M83.7 356.8h0M85 345.2h0M80.3 354.3h0M86.9 347.5h0M78.3 351.9h0M82.3 356.8h0M82.2 343h0M85.8 352.9h0M82.5 357.4h0" stroke="#3CB96C" stroke-width="1.0" stroke-linecap="round" fill="none"/><path d="M99.1 346.3L99.6 345.2L100 346.1L101.9 345.5L102.8 345.1L102.8 345.6L102 347.4L102.1 348.8L101.8 349.7L101.9 350.8L101.2 351.2L100.8 352.5L99.5 353.7L99.7 353.8L99.1 352.2L99.8 349.6L99 350.1L98.9 348.9L98.1 348.1L98.7 346.6Z" fill="#48BCCC"/><path d="M99 345.8h0M102.1 349.8h0M99.3 351.5h0M99.3 351.4h0M99.2 351.4h0M102.5 347.8h0M101.3 351.3h0M98.9 350.2h0M98.6 347.3h0M99.8 352.9h0M98.5 345.9h0M98.8 345.8h0M99.7 345.8h0M98.7 349.2h0" stroke="#48BCCC" stroke-width="1.0" stroke-linecap="round" fill="none"/><path d="M186 347.6C186.7 347.4 187.6 349.9 188.5 351C189.4 352.1 191.3 352.7 191.7 354C192.1 355.3 191.8 357.6 191 359C190.2 360.4 188.4 362.3 187 362.7C185.6 363.1 183.6 362.3 182.5 361.5C181.4 360.7 180.3 358.3 180.4 358C180.5 357.7 182 359.3 183 359.5C184 359.7 185.8 359.8 186.5 359C187.2 358.2 187.3 356.2 187 355C186.7 353.8 184.7 353.2 184.5 352C184.3 350.8 185.3 347.8 186 347.6Z" fill="#A262F5"/><path d="M92.6 316.6h0M91.4 317.8h0M90.2 315h0M91 313.7h0M90.4 317.3h0M90.8 317.8h0M92.2 313.9h0M89.8 315.6h0M91.6 313.4h0M93.3 317h0M88.4 315.7h0M91.8 316.7h0M92.9 316.3h0M91.8 316.3h0" stroke="#E07A28" stroke-width="1.2" stroke-linecap="round" fill="none"/><path d="M96.4 309.4h0M91.2 308.5h0M93 308.5h0M92.9 308.4h0M92.6 307.4h0M92.9 309h0M94.2 307.8h0M97 308.6h0M93 309.1h0M97.8 306.6h0" stroke="#5E86F5" stroke-width="1.2" stroke-linecap="round" fill="none"/><path d="M119.9 265.1h0M118.6 264.4h0M118 264.6h0M120.7 264.9h0M118.7 263.9h0M119.8 262.7h0M119.8 262.5h0M119.8 262.6h0M118.7 263.8h0M119.3 263.3h0" stroke="#3DB93D" stroke-width="1.2" stroke-linecap="round" fill="none"/><path d="M133.1 280.1h0M133.6 279.7h0M131.9 281.4h0M132.4 281.1h0M132.9 280.2h0M132.5 280.7h0" stroke="#C0922E" stroke-width="1.2" stroke-linecap="round" fill="none"/><path d="M182.5 322.5h0M182.7 323.5h0M180.5 320.3h0M180.4 319.6h0M181.1 320.4h0M181.4 321.3h0M181.4 321.3h0M180.7 321.2h0" stroke="#9DA12E" stroke-width="1.2" stroke-linecap="round" fill="none"/><path d="M152.5 368.1h0M147.9 367.1h0M150.7 367h0M152.8 368.1h0M148.3 368.5h0M152.2 366.3h0M152.7 368h0M149.6 367.1h0" stroke="#4CC19B" stroke-width="1.2" stroke-linecap="round" fill="none"/><path d="M49.2 273.3h0M48.5 273.2h0M49.1 273.4h0M47.6 272.2h0M48 272.8h0" stroke="#EE4592" stroke-width="1.2" stroke-linecap="round" fill="none"/><path d="M43.5 358.3h0M42.5 358.5h0M43.4 357.8h0" stroke="#E044EE" stroke-width="1.2" stroke-linecap="round" fill="none"/><circle cx="58.6" cy="290.2" r="0.55" fill="#E044EE"/><circle cx="179.0" cy="321.6" r="0.55" fill="#9DA12E"/><circle cx="110.9" cy="393.2" r="0.55" fill="#F044E0"/><circle cx="72.5" cy="268.3" r="0.55" fill="#68AE26"/><circle cx="44.9" cy="321.6" r="0.55" fill="#E07A28"/><circle cx="111.5" cy="281.3" r="0.55" fill="#E07A28"/><circle cx="187.2" cy="422.7" r="0.55" fill="#4CC19B"/><circle cx="108.9" cy="374.7" r="0.55" fill="#3DB93D"/><circle cx="142.6" cy="288.3" r="0.55" fill="#48BCCC"/><circle cx="120.0" cy="343.8" r="0.55" fill="#E9585E"/><circle cx="143.0" cy="307.7" r="0.55" fill="#E9585E"/><circle cx="38.1" cy="404.5" r="0.55" fill="#A262F5"/><circle cx="184.4" cy="395.9" r="0.55" fill="#EE4592"/><circle cx="53.7" cy="365.9" r="0.55" fill="#9DA12E"/><circle cx="180.5" cy="370.2" r="0.55" fill="#5E86F5"/><circle cx="143.9" cy="332.6" r="0.55" fill="#48BCCC"/><circle cx="169.6" cy="368.5" r="0.55" fill="#3CB96C"/><circle cx="162.4" cy="397.8" r="0.55" fill="#48A6EE"/><circle cx="44.4" cy="336.1" r="0.55" fill="#4CC19B"/><circle cx="139.4" cy="295.8" r="0.55" fill="#4CC19B"/><circle cx="55.8" cy="372.4" r="0.55" fill="#48A6EE"/><circle cx="38.7" cy="262.9" r="0.55" fill="#9DA12E"/><circle cx="80.3" cy="295.5" r="0.55" fill="#E9585E"/><circle cx="183.5" cy="378.5" r="0.55" fill="#68AE26"/><circle cx="138.3" cy="333.3" r="0.55" fill="#3CB96C"/><circle cx="57.1" cy="408.9" r="0.55" fill="#3DB93D"/><circle cx="82.1" cy="353.4" r="0.55" fill="#C0922E"/><circle cx="48.6" cy="397.7" r="0.55" fill="#3CB96C"/><circle cx="40.0" cy="283.3" r="0.55" fill="#E044EE"/><circle cx="81.6" cy="343.8" r="0.55" fill="#5E86F5"/><circle cx="56.0" cy="297.1" r="0.55" fill="#68AE26"/><circle cx="155.2" cy="334.1" r="0.55" fill="#E07A28"/><circle cx="31.0" cy="366.6" r="0.55" fill="#48BCCC"/><circle cx="158.7" cy="415.2" r="0.55" fill="#4CC19B"/><circle cx="174.2" cy="292.2" r="0.55" fill="#9DA12E"/><circle cx="83.0" cy="288.6" r="0.55" fill="#4CC19B"/><circle cx="92.8" cy="297.4" r="0.55" fill="#E9585E"/><circle cx="111.6" cy="390.9" r="0.55" fill="#3DB93D"/><circle cx="135.9" cy="424.3" r="0.55" fill="#68AE26"/><circle cx="90.8" cy="384.1" r="0.55" fill="#F044E0"/><circle cx="22.1" cy="334.4" r="0.55" fill="#3CB96C"/><circle cx="121.4" cy="407.9" r="0.55" fill="#68AE26"/><circle cx="73.2" cy="267.1" r="0.55" fill="#3CB96C"/><circle cx="43.0" cy="333.4" r="0.55" fill="#48A6EE"/><circle cx="57.6" cy="307.9" r="0.55" fill="#E044EE"/><circle cx="78.1" cy="264.1" r="0.55" fill="#F044E0"/><circle cx="166.6" cy="370.2" r="0.55" fill="#48BCCC"/><circle cx="94.6" cy="371.6" r="0.55" fill="#3DB93D"/><circle cx="71.2" cy="330.5" r="0.55" fill="#5E86F5"/><circle cx="50.5" cy="294.2" r="0.55" fill="#F044E0"/><circle cx="63.5" cy="331.6" r="0.55" fill="#48A6EE"/><circle cx="71.6" cy="317.9" r="0.55" fill="#EE4592"/><circle cx="165.1" cy="303.1" r="0.55" fill="#68AE26"/><circle cx="85.6" cy="407.9" r="0.55" fill="#9DA12E"/><circle cx="167.9" cy="309.9" r="0.55" fill="#68AE26"/><circle cx="116.7" cy="344.0" r="0.55" fill="#E07A28"/><circle cx="176.8" cy="311.9" r="0.55" fill="#48A6EE"/><circle cx="191.3" cy="385.5" r="0.55" fill="#EE4592"/><circle cx="97.3" cy="280.0" r="0.55" fill="#E07A28"/><circle cx="190.4" cy="370.6" r="0.55" fill="#3DB93D"/><circle cx="113.2" cy="265.2" r="0.55" fill="#E044EE"/><circle cx="129.3" cy="403.8" r="0.55" fill="#A262F5"/><circle cx="82.8" cy="289.2" r="0.55" fill="#3CB96C"/><circle cx="58.8" cy="310.1" r="0.55" fill="#E07A28"/><circle cx="129.3" cy="378.7" r="0.55" fill="#48A6EE"/><circle cx="34.7" cy="406.8" r="0.55" fill="#EE4592"/><circle cx="104.6" cy="382.6" r="0.55" fill="#EE4592"/><circle cx="124.6" cy="353.7" r="0.55" fill="#A262F5"/><circle cx="134.7" cy="342.7" r="0.55" fill="#A262F5"/><circle cx="90.6" cy="351.7" r="0.55" fill="#4CC19B"/><text x="62" y="275.5" font-size="7.8" fill="#222">mast</text><text x="79.3" y="283.6" font-size="7.8" fill="#222">V-Endo</text><text x="97.6" y="265.3" font-size="7.8" fill="#222">L-Endo/SC</text><text x="118.7" y="285.8" font-size="7.8" fill="#222">fibroblast</text><text x="37" y="315.6" font-size="7.8" fill="#222">smooth muscle</text><text x="121.3" y="317.9" font-size="7.8" fill="#222">TM1</text><text x="156.3" y="325.6" font-size="7.8" fill="#222">TM2</text><text x="181.2" y="328.5" font-size="7.8" fill="#222">JCT</text><text x="65.8" y="349.7" font-size="7.8" fill="#222">pericyte</text><text x="97.6" y="348.8" font-size="7.8" fill="#222">SchMy</text><text x="6.4" y="358.5" font-size="7.8" fill="#222">lymphocyte</text><text x="43.6" y="366.2" font-size="7.8" fill="#222">macrophage</text><text x="169.3" y="358.0" font-size="7.8" fill="#222">epithelium</text><text x="97.5" y="388.2" font-size="7.8" fill="#222">Schwann</text><text x="49.4" y="423.4" font-size="7.8" fill="#222">melanocyte</text><text x="39.3" y="247.4" font-size="10.4" fill="#1a1a1a">human ocular outflow tissues</text><path d="M230.1 275.1L229.8 275.1L231.3 274.6L232.2 273.8L233.4 274.1L234.4 273.9L235.3 273.7L236.8 273.6L238.4 272.9L238.4 272.7L240.1 273.5L240.3 272.4L240.9 271.9L241.9 272.8L242.6 272.1L243.5 272.5L244.4 272.2L246.6 273L247 273.9L247.3 274.8L248.7 274L249.2 275.3L250.5 274.8L251.5 275.6L251.3 275.4L252.4 276.7L252.9 276.9L253.9 278.3L254.2 278.2L254.8 280.2L254.5 280.2L253.9 281.1L253.6 281.8L253.7 282.4L253.4 284.2L253.5 284.3L253.2 284.8L252.3 285L252.1 284.8L251.4 286.5L249.8 286.5L249.8 286.8L248.3 285.9L246.7 286.5L246.1 286.2L245.3 285.9L244 286.3L243 286.5L241.8 287.3L241.2 288L240.8 287.6L240.6 288.6L238.6 288.9L237.9 289.8L236 290.1L235.3 290.4L234.7 290.7L235.2 290.4L234.7 289.1L234.7 287.9L235 287.2L235.2 285.7L235.9 284.7L236 283.1L236.3 281.4L235.6 281.8L235.1 280.7L234.2 281.4L233.2 280.2L232.9 279.6L231.7 280.2L230.9 280L229.8 280.6L229.9 279.8L229.8 278.9L230.7 277.2L231 276.5L230.8 276.2L229.9 276L230.1 275.9Z" fill="#5E86F5"/><path d="M235.1 287.8h0M249.4 274h0M235.8 283.3h0M236.7 272.9h0M254.5 283.1h0M231.3 274.4h0M238 272.4h0M235.4 272.9h0M234.8 287.2h0M248.5 273.9h0M237.6 272.6h0M239.9 288.6h0M251.2 275.4h0M235.8 282.4h0M233.8 280.7h0M229.9 277.6h0M233.6 280.7h0M235.4 290.8h0M254.3 279.2h0M232.1 273.9h0M238 272.9h0M249.1 273.9h0M235 288.3h0M254.5 279.9h0M229.8 278.9h0" stroke="#5E86F5" stroke-width="0.8" stroke-linecap="round" fill="none"/><path d="M247.9 284.3h0M238.2 284.2h0M247.3 276.8h0M241.5 282.7h0M244.9 276.7h0M242.7 277.6h0M232.9 276.4h0M242.7 285.6h0M238.5 287.4h0M249.4 280.4h0M246.2 276.1h0M238.1 276.8h0M243.1 274.4h0M233.7 275.8h0M233.5 278.1h0M237.2 278.6h0M238.3 282.6h0M244.7 275.7h0M241.9 281.8h0M234.1 279.7h0M242.4 280.3h0" stroke="#ffffff" stroke-width="0.7200000000000001" stroke-linecap="round" fill="none" stroke-opacity="0.75"/><path d="M237.6 284.3h0M239.5 282h0M241.5 286.7h0M239.6 283.7h0M240.1 287.5h0M244.2 282.9h0M239.1 282.8h0M241.8 284.1h0M240.5 287.9h0M240.7 281.6h0M244.7 285.8h0M242.5 282.4h0M238.1 286h0M245.7 283.6h0M243.2 285.1h0M243.1 283.4h0M238.7 282.7h0M242.3 284.9h0M242.6 285.6h0M245 282.8h0M240.2 281.7h0M240.7 285.6h0M244.7 282.1h0M243.4 285.5h0M237.6 283.7h0M241 282.5h0M238.3 284h0M238 283.1h0M240.2 282.3h0M241.5 282.7h0M244.8 285.4h0M241.7 281.9h0M241.5 281.7h0M240.6 285.1h0M239.1 283.3h0M238.6 282.9h0M238.1 285.1h0M241 286.9h0M242.1 287.1h0M242.7 286.8h0M242.9 281.8h0M246 284.3h0M244.6 285.1h0M245.2 283.7h0M244.5 286.4h0M244.3 285.2h0M243.5 285.9h0M244.7 285.1h0M240.4 282.1h0M241 283.5h0M245.6 284.5h0M240.7 283.7h0M244.5 286.1h0M245.3 286h0M243.9 286.4h0M237.9 285.5h0M242.8 287h0M244.5 282.4h0M242.2 283.5h0M244.9 284.8h0M240.9 282.4h0M239.9 282.7h0M242.1 287h0M244.4 282.1h0M245.3 283.5h0" stroke="#ffffff" stroke-width="1.0" stroke-linecap="round" fill="none" stroke-opacity="0.9"/><path d="M263.3 278L263.8 278L263.9 276.8L264.9 277.1L264.8 275.3L266.7 276.1L267.9 276.1L268.1 276.7L269.6 275.9L270.1 275L271.9 273L271.6 271.8L271.9 271.8L272.9 272.1L273.8 272.5L273.9 273.6L274.6 274L275.2 274.2L276.5 274.1L276.3 272.7L276.8 272L278.6 271.8L279.2 271.6L280.1 271L281.7 271.7L282.4 270.8L283.2 271.1L283.3 271.2L283.2 271.7L283.7 271.8L285.1 273.1L284.6 273L284.1 273.4L284 274.5L283.9 275.7L283.6 276.1L281.9 276.9L282.4 277.4L281.9 277.5L281.4 276.9L281.3 278.6L280.8 279.1L280.9 279.9L280.3 281.6L280.3 281.3L280 282.3L279.5 283.9L279.7 284.9L280 285L279.7 286.3L278.4 287.1L277.3 287.3L275.7 287.2L274.9 287.4L273.2 287.4L272.2 286.8L270.9 287.1L269.7 287.2L269.2 285.6L268 286.4L267.5 284.9L266.8 284.9L265.7 284.7L264.3 284.1L264.7 283.1L263.7 282.9L263.4 282.2L263 281.6L263.2 279.7L263.2 279.7L262.8 279.5L262.6 279Z" fill="#E9585E"/><path d="M281.1 279.1h0M262.8 278.8h0M271.6 287.6h0M271 273.2h0M283.2 275.8h0M269 286.5h0M280.2 283.5h0M262.7 278.3h0M284.4 271.6h0M280.7 280.7h0M275.4 287.9h0M270.5 287.2h0M267.5 285.9h0M273.8 287.6h0M272.2 287.5h0M262.3 279.7h0M269.5 275.2h0M265.9 284.7h0M269.6 274.8h0M280.6 282.3h0M264.4 276.7h0M280.2 284.2h0M263.8 277h0M262.7 282.1h0M280.1 286.4h0M268.8 286.2h0M270.7 273.2h0" stroke="#E9585E" stroke-width="0.8" stroke-linecap="round" fill="none"/><path d="M275.6 278h0M274.2 277.5h0M269.7 276.4h0M276.4 283.2h0M279.6 285h0M281.6 271h0M275.7 276h0M270.4 285.3h0M275.1 283.9h0M274.6 276.1h0M269.2 277.2h0M274 279.4h0M270.9 277.2h0M281.2 274.7h0M266.3 275.9h0M271.7 279.6h0M270.9 280.1h0M276.7 278.7h0M274.2 278.2h0M276.2 281.7h0M279.7 271.9h0M276 283.7h0M274.9 274.6h0M271.4 273.5h0M267.5 284.5h0M276.9 284.2h0M277 276.8h0M269.9 281.7h0M273 277.3h0M278.2 272.9h0" stroke="#ffffff" stroke-width="0.7200000000000001" stroke-linecap="round" fill="none" stroke-opacity="0.75"/><path d="M279.6 280.8L280.2 280.9L281.3 278.8L282.2 278.8L283.3 278.2L283.6 277.7L284.5 277L286.3 276.3L286.3 276.8L287.7 277.4L288.3 277.5L290.8 278.4L290.3 277.7L291.6 278.1L293.1 277.7L293.3 277.3L293.9 276.8L294 276.5L294.9 277.2L295.9 276.5L296.4 276.6L297.4 276.8L297.6 277.7L298.2 277.3L298.4 278.2L298.5 279.3L298.9 279.2L299.8 279.6L300.3 280.8L299.9 282.1L299.4 283.3L299 282.7L298.4 283.7L298 284.9L297.2 286.1L297.4 286.6L296.7 288.2L295.9 288.3L295.8 288.5L294.9 288.4L294.3 289.2L293.1 288.9L292.9 289.3L292.1 288.8L289.8 290L289.9 289.7L289.2 290.5L288.2 291L288.1 291L287.1 290.7L287.1 291L285.7 289.6L284.8 289.4L284.7 288.2L283.6 286.8L284.2 286.3L283.6 284.3L282.1 284.6L282.4 285.2L281.7 285.1L281.1 283.9L281.1 283.3L279.6 282.9L279.7 282.4Z" fill="#E07A28"/><path d="M281.8 278.9h0M280.6 283.9h0M297.8 277.4h0M284 287.7h0M297.9 277.8h0M300.2 281.3h0M288.3 277.1h0M282 285.3h0M291.3 289.8h0M299.8 281h0M288.7 291h0M286.9 291.3h0M292.2 289.7h0M282.7 286.2h0M298.2 285.8h0M284.3 277.6h0M287.8 291.4h0M291.7 277.3h0M298.3 285.7h0" stroke="#E07A28" stroke-width="0.8" stroke-linecap="round" fill="none"/><path d="M298.2 282.2h0M295.9 283.8h0M299.3 280.1h0M284.1 287h0M281.2 281.8h0M294 285.2h0M294 279.6h0M284.8 286.4h0M297.6 280h0M293.3 280.5h0M295.7 285.4h0M297 279.4h0M284.4 283.5h0M284 279.6h0M293.9 277.5h0M288.7 285.6h0M295.7 278.7h0M284.5 287.6h0M297.8 278.6h0M285 282.4h0M287.4 285h0M288.9 283.3h0M291.1 278.7h0M295.7 280h0M298.1 282.6h0M297 286.7h0M285.8 285.7h0M294.7 285.6h0M283.5 286.3h0M293.1 280.9h0M292.4 288.9h0M284.9 277.4h0M287.4 283.7h0M286.6 280.8h0M293.3 286.7h0M285 283.8h0M287.6 287.1h0M295.8 281.2h0M296.5 285.2h0M282.1 283.8h0M283.5 282.6h0M290.7 285.1h0M293.8 277.8h0M284.4 278.6h0M286.7 278.6h0M297.3 282.4h0M297 285.9h0M287.7 289.6h0M286.9 277.9h0M285.7 279.1h0M295.8 284.4h0M293.4 280.7h0M293.2 287.4h0M283.7 280.4h0M292.4 283.9h0M295.9 279.1h0M289.4 281.9h0M288.4 281.7h0M289.8 287.6h0M284.3 279.6h0M284.4 279.6h0M297.3 285.1h0M288.2 280h0M287 278.2h0M284.1 286.6h0M285.6 286.3h0M297.2 277.2h0M289.4 286.6h0M287.9 291h0M288.7 283.2h0M291 289.4h0M283.2 285h0M293.5 286.6h0M289.5 277.8h0M294 287.5h0M280.6 281.4h0M283.3 280.7h0M284.9 284.4h0M288 279.9h0M288.2 279.5h0M292.9 281.6h0M285.2 283.8h0M287.4 284.7h0M292.9 281.2h0M281.1 281h0M289.1 280.6h0M284.4 278.5h0M289.1 285.6h0M294.9 285.9h0M295.4 282.6h0" stroke="#ffffff" stroke-width="0.7200000000000001" stroke-linecap="round" fill="none" stroke-opacity="0.75"/><path d="M233.6 301.7L234.6 301.2L234.8 301.1L235.6 300.1L236 299.9L237.5 300.3L238.9 300.1L240.1 300.3L240.8 300L242.2 300L243.3 300.1L243.3 300.2L245.2 300.3L244.2 300.8L245.5 300.5L245.8 302.2L245.9 302.7L246.1 303.8L245.1 304.6L245.3 305.9L245 306.3L245.4 306.8L243.4 307.6L242.9 307L241 306.6L241.1 307.2L240.4 306.8L240 308L238.8 306.5L237.9 306.9L236.9 306.7L236.4 307.3L235.5 306.1L234.5 305.9L233.9 306.2L233.9 304.9L233.3 304.5L233.5 304.4L233.1 303.3L233.3 302.6Z" fill="#E044EE"/><path d="M233.4 302.3h0M237.7 306.9h0M246 303h0M244.2 306.8h0M236 300.4h0M240.2 300.3h0M245.6 303.8h0M233.5 303.1h0M233.4 302.4h0M240.7 307.4h0M243.8 299.9h0M245.7 303.3h0M234.4 305.9h0" stroke="#E044EE" stroke-width="0.8" stroke-linecap="round" fill="none"/><path d="M237.6 303.8h0M235.9 301.6h0M244.4 301.8h0M234.6 302.2h0M244.2 303.6h0M245 300.6h0M236.2 303h0M237.6 304h0M238.9 303.9h0M238.9 305h0" stroke="#ffffff" stroke-width="0.7200000000000001" stroke-linecap="round" fill="none" stroke-opacity="0.75"/><path d="M222.1 303.7L222 303.2L223.9 303.8L223.7 302.8L225.2 303L226.5 303.7L226 303.4L227.1 304.4L226.8 304.8L228.3 305L228.6 305.5L229.6 305.1L229.6 306.8L229.6 306.1L228 306.4L227.9 306L226.7 307.2L226.1 306.3L225.1 307.3L224.7 306.6L223.8 306.4L224.1 306.6L222.7 306.3L222 306.2L221.9 304.8L221.6 305L222.3 304.5L221.4 304.2Z" fill="#F044E0"/><path d="M222 303.3h0M225.1 302.9h0M225 302.9h0M222.9 306h0" stroke="#F044E0" stroke-width="0.8" stroke-linecap="round" fill="none"/><path d="M254.1 318.9L255.3 317.5L256.5 316.3L257.4 315.1L258.5 314.6L259 314L259.7 313.9L260.8 314.3L262 313.4L262.8 314.2L264 313.7L265.6 312.6L265.8 312.2L266.6 310.1L266.1 309.5L266.9 307.8L268.4 306.9L268.5 306L269.6 305.7L270.8 305.2L270.1 304.9L272.4 302.9L273.2 303.8L274.1 302.8L274.5 304.2L276.4 302.5L276.8 303.8L276.6 303.3L278.6 304.3L279.1 305.1L278.8 306.3L277.9 307.5L277.7 309.4L275.7 309.1L275.2 309.9L274 310L273.1 311.1L271.3 312.9L270.8 312.5L269.9 314.4L269.3 314.9L269.9 314.7L268.7 316.2L268.8 316.8L269.5 318.5L268.2 319.9L268.2 319.9L267.8 321.7L268.5 322.1L268 323.2L267.7 323L267.3 325.1L268.3 325.9L266.5 326.4L267.1 327.2L265 327.6L264.5 326.8L264.5 326.7L262.5 325.5L261.5 326.1L260.4 324.7L260.8 324.6L259.3 324.1L258.8 323.8L258.1 323.2L257.3 322.5L255.4 322L253.8 320.7L254 320.6L253.7 320.1L253.2 319.7L254.4 318.8Z" fill="#4CC19B"/><path d="M261.1 325.1h0M268.2 321.7h0M268.1 321.9h0M254.5 317.9h0M278.2 303.3h0M270.8 304.2h0M266.5 327h0M259.9 324.4h0M259.8 324.5h0M261.1 313.9h0M255.7 316.8h0M278.1 307.5h0M273.1 303.2h0" stroke="#4CC19B" stroke-width="0.8" stroke-linecap="round" fill="none"/><path d="M267 313.3h0M265.3 320.7h0M267.4 321.9h0M254.8 320.9h0M266.4 326.1h0M272.1 305.7h0M269.9 310.9h0M261.1 319.2h0M267.3 309.3h0M272.9 308.1h0M260.5 315.7h0M266.2 325.4h0M262 319.5h0M272.4 309.6h0M260.3 319.7h0M271.6 310.4h0M257.2 321.6h0M269.6 306.8h0M272 307.7h0M259.3 321h0M268.2 315.8h0M271.2 307.4h0M267.1 316.9h0M273.3 309.2h0M267.5 320.5h0M271.6 305.1h0M267.6 315.3h0M266.6 310.4h0M267 311.1h0M269.9 308.6h0M264.8 316.7h0M259.4 320h0M265 317.3h0M261.7 319.6h0M256.5 319.5h0M256.5 320.9h0M270.2 309h0M269.1 309.8h0M260.3 320.6h0M259.9 317.2h0M257.1 319.3h0M278.3 304.3h0" stroke="#ffffff" stroke-width="0.7200000000000001" stroke-linecap="round" fill="none" stroke-opacity="0.75"/><path d="M240.8 327.7L242.1 327.3L242.6 326.4L242.8 326.2L243.8 324L245.3 324.9L245.2 324.2L247.2 324.5L247 324.8L249.1 325.4L249.5 326.4L249.4 327.8L251 328.2L251 329.1L251.5 330.6L253.9 331.8L254.2 333.2L253.5 334.5L253.9 335.1L252.9 336.4L252.6 337L251.8 337.7L250.6 336.6L248.9 337.5L247.6 337.9L246.9 337.5L245.2 338.3L244.7 337.5L243 336.5L242.3 335.7L242 335.1L241.1 334.5L241.1 334.1L240.9 333.2L240.2 332.4L240.7 330.7L240.1 329.4L241.1 329.8L240.7 329.1L241.2 328.3Z" fill="#48A6EE"/><path d="M249.5 337.9h0M248.1 324.8h0M251 328.6h0M241.3 328.1h0M252.8 336.9h0M247.8 324.3h0M253.3 335.4h0M252.3 330.5h0M253.1 336.3h0M252.5 330.9h0M252.9 336.6h0M252 337.4h0" stroke="#48A6EE" stroke-width="0.8" stroke-linecap="round" fill="none"/><path d="M243 330h0M244.8 330.3h0M244.7 333.1h0M250.9 329.3h0M248.5 334.7h0M244.8 331.3h0M245.3 334.3h0M252 331.6h0M246.2 337.2h0M245.4 328.1h0M246.3 331h0M243.5 330.2h0M250.6 332h0M248.7 326.3h0M251.8 333.4h0M246.8 332.9h0M245.4 327.3h0M244.7 326.1h0" stroke="#ffffff" stroke-width="0.7200000000000001" stroke-linecap="round" fill="none" stroke-opacity="0.75"/><path d="M257.2 261.4L257.8 261.2L257.7 261L258.9 261.1L258.9 260.7L259.2 260.8L260.3 261.1L261.2 261.3L261 261.7L261.5 262.2L261.8 262.6L261.4 263.7L261 264.4L260.9 264.6L261.1 264.6L260.6 265.6L260.2 265.7L260.3 266.5L260.5 266.9L260.9 267.7L260.4 268.5L260.2 268.3L260.2 267.8L260 267.2L259.3 266.9L258.9 266.7L258.9 265.5L258.2 265.3L258.4 264.9L257.8 264.5L257 264.5L257.3 263.3L257 263.9L256.6 263.8L256.9 262.6L258 262.2Z" fill="#68AE26"/><path d="M258 264.5h0M260.8 265.1h0M259 260.9h0M260.7 267.3h0M257.6 261.6h0M257.3 262.5h0M259.5 266.8h0M258.1 264.5h0M258.8 265.6h0M257.1 262.6h0M261.3 262.7h0M257.2 262.2h0M257 263.3h0" stroke="#68AE26" stroke-width="0.8" stroke-linecap="round" fill="none"/><path d="M251.2 294.8L251 295.1L251.1 294.2L252 294.3L252.5 294.6L252.2 294.3L252.4 295L252.5 294.7L254.1 295.1L253.3 294.8L254.4 295.5L254.4 295.8L254.5 296.2L255.3 296.7L254.4 298.2L254.2 297.9L254.2 298.5L254.4 298.4L253.7 299.3L253 299.5L252.7 300L253.3 301L253.2 300.9L252.7 301.3L252.8 301.4L252.9 301.4L252.7 301L251.6 299.5L251.3 300.7L251.9 299L251.7 299L250.6 298.8L250.6 298.5L250.4 298.3L250.1 297.7L249.9 296.4L250.7 296.4L250.2 295.8L250.6 296.4L250.6 295.5Z" fill="#3CB96C"/><path d="M253.1 300.3h0M254.4 297.2h0M254.4 297.5h0M252.2 293.9h0M252.9 294.3h0M251.7 299.8h0M254.2 298.5h0M253.5 299.5h0M254.4 296h0M254.3 298.1h0M252.3 300.9h0M251.1 294.9h0M250.2 297.6h0M250.3 297.9h0M250.6 299.1h0" stroke="#3CB96C" stroke-width="0.8" stroke-linecap="round" fill="none"/><path d="M259.7 295.4L260.7 295.2L261 295.4L261.2 294.9L261.7 294.7L261.3 296.8L261.4 294.9L261.8 296.8L262 297.1L261.9 298.4L261.4 298.7L260.6 298.5L259.9 298.6L260 298.5L260.7 298.3L260.6 297.8L260 298.1L260 296.4L260.2 295.9L259.6 295.6Z" fill="#48BCCC"/><path d="M261.8 296.6h0M261.7 297.3h0M260.8 298.8h0M260 296h0M260 295.3h0M260.6 298.7h0M261.8 296.8h0M260.9 298.6h0" stroke="#48BCCC" stroke-width="0.8" stroke-linecap="round" fill="none"/><path d="M302 296.2C302.3 296.1 302.7 297.3 303.2 297.8C303.6 298.4 304.5 298.7 304.7 299.3C304.9 300 304.8 301.1 304.4 301.8C304 302.5 303.1 303.4 302.5 303.6C301.8 303.8 300.8 303.4 300.3 303C299.8 302.7 299.3 301.5 299.3 301.3C299.3 301.1 300.1 302 300.5 302.1C301 302.1 301.9 302.2 302.2 301.8C302.5 301.4 302.6 300.4 302.5 299.8C302.3 299.2 301.3 299 301.3 298.3C301.2 297.7 301.7 296.2 302 296.2Z" fill="#A262F5"/><path d="M257.2 279.3h0M255.6 280.4h0M255.6 278.9h0M255.8 279.6h0M256.6 279.4h0M255.2 279.2h0M255.2 281.2h0" stroke="#E07A28" stroke-width="0.96" stroke-linecap="round" fill="none"/><path d="M258.1 276.2h0M256.5 277.5h0M258.5 277.1h0M258.6 276.6h0M259.1 277.4h0" stroke="#5E86F5" stroke-width="0.96" stroke-linecap="round" fill="none"/><path d="M270.5 254.1h0M270 254.1h0M270 255.2h0M269.3 255.3h0M270.4 254.1h0" stroke="#3DB93D" stroke-width="0.96" stroke-linecap="round" fill="none"/><path d="M276.7 262.8h0M277 262.9h0M276.2 263.5h0" stroke="#C0922E" stroke-width="0.96" stroke-linecap="round" fill="none"/><path d="M300.4 284h0M300.4 284.2h0M300.8 284.5h0M299.4 283.2h0" stroke="#9DA12E" stroke-width="0.96" stroke-linecap="round" fill="none"/><path d="M285.5 306.1h0M285.3 306.5h0M284.1 306.4h0M284.8 306.4h0" stroke="#4CC19B" stroke-width="0.96" stroke-linecap="round" fill="none"/><path d="M236.1 259h0M235.3 258.5h0" stroke="#EE4592" stroke-width="0.96" stroke-linecap="round" fill="none"/><path d="M233.3 301.5h0M232 301.5h0" stroke="#E044EE" stroke-width="0.96" stroke-linecap="round" fill="none"/><circle cx="306.0" cy="306.3" r="0.44" fill="#E07A28"/><circle cx="244.9" cy="332.6" r="0.44" fill="#68AE26"/><circle cx="224.0" cy="327.2" r="0.44" fill="#3DB93D"/><circle cx="245.0" cy="274.8" r="0.44" fill="#EE4592"/><circle cx="293.6" cy="276.6" r="0.44" fill="#F044E0"/><circle cx="226.9" cy="333.2" r="0.44" fill="#3DB93D"/><circle cx="301.9" cy="254.3" r="0.44" fill="#E9585E"/><circle cx="228.0" cy="316.5" r="0.44" fill="#E9585E"/><circle cx="297.4" cy="290.2" r="0.44" fill="#EE4592"/><circle cx="257.9" cy="331.8" r="0.44" fill="#48BCCC"/><circle cx="297.5" cy="291.2" r="0.44" fill="#3DB93D"/><circle cx="291.2" cy="269.1" r="0.44" fill="#E9585E"/><circle cx="290.6" cy="309.5" r="0.44" fill="#68AE26"/><circle cx="261.8" cy="277.4" r="0.44" fill="#3DB93D"/><circle cx="274.7" cy="262.4" r="0.44" fill="#E07A28"/><circle cx="286.7" cy="302.4" r="0.44" fill="#9DA12E"/><circle cx="280.7" cy="279.4" r="0.44" fill="#EE4592"/><circle cx="238.0" cy="333.1" r="0.44" fill="#48BCCC"/><circle cx="232.2" cy="322.8" r="0.44" fill="#48A6EE"/><circle cx="274.9" cy="312.2" r="0.44" fill="#E9585E"/><circle cx="294.4" cy="332.1" r="0.44" fill="#E9585E"/><circle cx="278.4" cy="308.8" r="0.44" fill="#C0922E"/><circle cx="280.8" cy="326.4" r="0.44" fill="#A262F5"/><circle cx="236.9" cy="287.9" r="0.44" fill="#48A6EE"/><circle cx="275.5" cy="286.3" r="0.44" fill="#E044EE"/><circle cx="248.3" cy="313.9" r="0.44" fill="#E9585E"/><circle cx="271.8" cy="291.6" r="0.44" fill="#A262F5"/><circle cx="250.6" cy="269.9" r="0.44" fill="#EE4592"/><circle cx="247.8" cy="290.7" r="0.44" fill="#48A6EE"/><circle cx="268.5" cy="314.5" r="0.44" fill="#C0922E"/><circle cx="280.9" cy="283.1" r="0.44" fill="#68AE26"/><circle cx="283.0" cy="291.7" r="0.44" fill="#C0922E"/><circle cx="282.9" cy="260.9" r="0.44" fill="#C0922E"/><circle cx="261.6" cy="313.5" r="0.44" fill="#5E86F5"/><circle cx="278.6" cy="308.4" r="0.44" fill="#F044E0"/><path d="M226.6 386.5L227.5 386.5L228.1 385.8L229 386.4L229.8 386.6L232.1 385.9L232.2 386.5L233.7 384.5L234.8 384.4L236.6 385.1L236.7 385L237 384.2L237.8 384.5L238.7 384.2L240.1 384.3L240 384L240.9 384.3L242.9 385.2L243.6 386L244.6 386.1L245.5 386.1L245.6 386.5L247.1 387.8L247.7 387.6L248.1 388.4L248.6 388.9L249.8 389.3L250.3 390.1L251.3 389.5L250.9 391.5L250.8 391.9L250.5 393.5L250.4 393.9L250.1 394.7L250.2 395.8L250.2 396.8L249.5 396L249.4 397L248.2 397.5L247.8 397.5L246.9 398.5L246.4 398.4L244.5 397.7L243.4 398.8L242 398.5L241.8 398.2L241 398.4L240.5 399L238.8 399.6L237.9 399.7L237.3 400.1L237 400.4L235.8 401.2L235.3 401.6L233.9 402.2L232.7 402.2L231.4 402.6L232 402.6L231.6 400.6L231.8 399.5L231.9 399L232.4 398.2L232.3 396.1L232.9 394.9L232.9 394.1L231.8 393.1L231.3 392.7L230.6 392.1L230.3 392.2L228.6 392.8L229 392.8L228 392.3L227 392.3L226.8 391.4L226.8 390.1L226.8 390.2L226.7 388.5L227.1 388.8L227.5 387.8L226.8 387Z" fill="#5E86F5"/><path d="M234.4 384.7h0M251.4 392.8h0M232.4 394.1h0M242.7 385.4h0M245.3 398.6h0M226.7 389.6h0M250.3 395.3h0M231.7 397.6h0M251 391.5h0M228.7 386.1h0M232.6 385.5h0M251.2 393.5h0M241.9 384.9h0M251 392.6h0M231.6 401.6h0" stroke="#5E86F5" stroke-width="0.8" stroke-linecap="round" fill="none"/><path d="M239.7 394h0M247.8 396.6h0M238.5 392h0M238.3 387.4h0M246.7 395.6h0M243.2 395.7h0M237.5 392.1h0M233.5 392.1h0M233.4 389.3h0M230 392.2h0M245.7 393.8h0M231.3 392.6h0M227.5 390.6h0M238.8 386.9h0M246.4 387.7h0M234.7 393.9h0M240.8 391.4h0" stroke="#ffffff" stroke-width="0.7200000000000001" stroke-linecap="round" fill="none" stroke-opacity="0.75"/><path d="M237.8 396.3h0M240.9 394h0M235.9 398.9h0M234.4 398.2h0M235.9 399.1h0M236.3 394.2h0M236.8 396.7h0M235 396.9h0M241.4 395.5h0M235.2 396.6h0M236.4 394.4h0M239.4 396.7h0M241.6 397.8h0M237.2 396.9h0M239.4 397.6h0M238.9 394.1h0M237.9 399.5h0M241.2 394.2h0M238.5 394.1h0M238.3 393.9h0M237.3 394.5h0M235.9 396.5h0M241.2 395.4h0M238.2 394h0M241.1 396.2h0M241.6 397.7h0M238.3 394.9h0M240.9 394.9h0M235.4 395.9h0M242.3 397h0M239.3 395h0M235.1 396.7h0M240.6 395.2h0M239.7 396.3h0M238.3 398h0M234.5 395.3h0M236.9 397.1h0M241.8 398.3h0M238.4 399.3h0M239.1 395.2h0M239.6 396.3h0M235.9 397.8h0M239.3 394.2h0M241.1 397.3h0M236.2 397.6h0M241.1 397.1h0M240.4 394.3h0M235 395.7h0M237.6 399.7h0M240.1 394.8h0M240.6 396.5h0M238 397.3h0M239.1 394.6h0M241.2 397.6h0M237.2 394.6h0M234.4 398.8h0M238 398.9h0M236.2 397.4h0M237.7 397.5h0M236 400.5h0M234.4 397.4h0M240.4 394.7h0M239.9 394.7h0M238.9 396.5h0M237.4 399.8h0" stroke="#ffffff" stroke-width="1.0" stroke-linecap="round" fill="none" stroke-opacity="0.9"/><path d="M259.8 390.6L260 390.2L261.1 389.2L261.2 388.7L261.9 387.6L263.2 388.1L263.8 388.8L265.9 387.6L266.4 387.5L267.3 386.9L267.2 385.5L268.1 384.1L269.3 383.7L269.1 383.8L269.8 384.8L270.7 385.5L271.5 386L272.1 385.8L273.1 385.6L273.6 385.2L274 384.7L275.7 384L275.9 384.2L277.6 383.5L278.2 383.5L279.4 383.3L280.1 383.6L280.5 383.8L280.8 384.2L281.2 383.8L281.1 384.9L280.7 385.7L281 386L281.2 387.5L280.3 387.6L279.4 388.4L279.4 388.7L278.9 389.9L278.5 389.8L277.7 390.6L277.6 390.8L276.7 391.4L277.5 392.6L277 393.4L276.3 394.1L277.3 395.4L277.4 396.7L277.1 397.2L276.3 398.2L275.8 399.1L275.6 398.9L273.5 399L273 400.1L271.2 399.6L270.8 399.8L269.1 399.6L268.1 398.8L266.9 398.8L265.4 398.3L265 398.1L264.4 397.9L263.9 397.7L262.4 396.7L260.7 396.4L260.9 395.9L260.5 394.7L259.8 393.9L259.4 392.9L259.5 392.3L259.1 392.8L260.3 391.6L259.8 390.6Z" fill="#E9585E"/><path d="M271.3 399.5h0M274.8 398.9h0M259.7 391.1h0M262.9 388h0M277.2 394.8h0M260.5 389.5h0M275.9 399.3h0M260.7 396.2h0M273.4 399.8h0M268 384.5h0M259.3 390.5h0M277.1 394.5h0M278.9 383.4h0M265.2 398.4h0M266.8 386.2h0M274.3 399.1h0M261 395.7h0M278.2 383.1h0M264.3 398h0M272.8 399.7h0M259.5 392h0" stroke="#E9585E" stroke-width="0.8" stroke-linecap="round" fill="none"/><path d="M261.5 390.4h0M277.1 385.3h0M276 395.7h0M275 390.9h0M266.1 393.1h0M267 397.9h0M269.8 390.3h0M270.1 390.5h0M272.2 385.9h0M278.3 387.3h0M273.2 399.3h0M264.1 394.1h0M271 389.6h0M267 390.3h0M260.4 393.4h0M279.4 384.7h0M263.5 392.8h0M278.9 385.9h0M263.5 388.7h0M276.1 386h0M262.6 388.8h0M270.2 397.8h0M277.8 386.8h0M265.8 392.5h0M265.3 390.9h0" stroke="#ffffff" stroke-width="0.7200000000000001" stroke-linecap="round" fill="none" stroke-opacity="0.75"/><path d="M277.1 393.4L277.6 392.6L278.2 392.3L278.8 391.3L280.1 390.4L280.3 389.8L281 389.7L282.2 389.3L283.1 389.2L285 389.5L285.4 389.8L286.3 390.3L287.2 390.1L288.4 390.3L288.7 389.9L289.1 389.5L289.9 389.3L291.5 388.8L291.7 388.8L292.7 388.6L293.1 388.2L293.1 389.8L294.9 389.6L293.9 390.3L294.9 390.5L295.8 390.8L295.8 391.7L296.3 393.8L297.4 393.2L296 393.6L296.4 394.6L295.8 395L295.2 395.9L295.2 397.4L294.2 397.4L294 398.9L293.9 399.6L292.9 400.7L292.9 400.3L291.4 401L291.4 401.6L290 401L288.7 402L288.1 400.9L287.2 401.6L286.3 402.6L286.2 402.7L285.2 403.5L284.7 402.6L284.3 403.2L283.1 402.5L282.8 401.6L281.7 401.1L281.3 400.2L280.7 399.2L280.1 398.3L279.9 397.9L279.3 397.2L278.9 397.1L278.1 396.8L277.7 395.9L277.4 395.3L276.7 394.5L276.6 393.9Z" fill="#E07A28"/><path d="M290.4 388.9h0M277.3 395.8h0M294.4 399.1h0M281.7 401.9h0M295.3 396h0M282.7 389.1h0M295.8 390.8h0M295.3 390.1h0M294.8 397.5h0M280.4 399.1h0M276.9 395h0M285.9 389.8h0M285.7 403.3h0M277.6 391.7h0M288.5 402h0M279.3 390.1h0" stroke="#E07A28" stroke-width="0.8" stroke-linecap="round" fill="none"/><path d="M287.6 396.9h0M287.2 401.5h0M290.2 392h0M283.9 402h0M285.5 401.5h0M292.9 395.7h0M285.7 401.2h0M291.3 391.2h0M277.4 394h0M289.1 392h0M295.4 392.7h0M293.6 393.6h0M286.6 391h0M295.8 392h0M295.1 393.4h0M283.2 394.6h0M294.8 392.4h0M292.4 395h0M286.9 398.4h0M294.5 394.3h0M294.6 391.3h0M290.6 400.8h0M294.4 395.4h0M281.1 390.2h0M286.7 401.8h0M293.2 395.1h0M290 391.3h0M287.4 400h0M288.4 391.3h0M287.4 394.8h0M291.2 396.8h0M282.4 396.7h0M293.2 398.6h0M285.6 390h0M281 397.8h0M291.3 393.1h0M288.1 390.4h0M282.4 401.1h0M288.4 396.4h0M292.5 390.6h0M279.6 392h0M281.8 396.1h0M281.9 396.2h0M288.2 397.5h0M277.5 395.7h0M282.4 390.3h0M291.3 394.9h0M288.8 397.2h0M284.3 395.9h0M278.7 393.3h0M282.5 401.1h0M292.5 390.5h0M291.2 391.6h0M280.9 391.6h0M283.3 390h0M289.8 396h0M278.7 394.3h0M291.7 393.5h0M280.1 391.5h0M278.4 391.9h0M283.4 399h0M278.3 392h0M283.7 395.1h0M288.8 398.9h0M279.2 393.6h0M292.6 396.4h0M289.4 392.3h0M288.8 398.5h0M287 401.8h0M290.7 391.7h0M282.6 397.1h0M279 393.6h0M285.4 399.3h0M294.2 397.3h0M282.1 394.2h0" stroke="#ffffff" stroke-width="0.7200000000000001" stroke-linecap="round" fill="none" stroke-opacity="0.75"/><path d="M230.5 414.5L230.5 413.6L231.3 413.2L233.1 412.5L233.1 411.7L234.1 412.2L235.5 412.5L236.5 412.2L237.1 412.5L238.6 412.3L239.8 412.3L240.7 411.7L241.9 412.6L242.2 412.6L242.2 413.4L242.3 413.5L242 414.7L242.2 415.7L242.2 416.5L242.6 417.4L241.7 418L241.5 418.2L240.4 418.5L239.8 418.9L238.5 420L237.8 419.6L236.5 418.8L235.6 419.1L236.4 419.3L234.5 419L233 418.9L232.3 418.2L231.9 417.7L231.5 418.4L231.2 417.5L230.8 417.3L230.8 416.8L230.2 416.3L230.3 415.9L229.9 414.2Z" fill="#E044EE"/><path d="M236.7 412.4h0M230.1 415.3h0M242.3 416.8h0M241.1 411.9h0M230.2 414.7h0M235.2 412.2h0M242.5 416.8h0M242.3 414.8h0M242.1 416.5h0M242.5 414.9h0M242.3 414.6h0M242.1 413.9h0M241.8 418.5h0M242.5 414.4h0M242.6 416.1h0M230.9 417.5h0M230.3 414.2h0M242.3 414.8h0M242.6 414.3h0M242.7 415.3h0M242 412.5h0M239.6 419.3h0M232.1 412.6h0" stroke="#E044EE" stroke-width="0.8" stroke-linecap="round" fill="none"/><path d="M236.1 417.2h0M235.6 415.6h0M237.7 413.6h0M236.4 417.5h0M242 416.8h0M234.4 412.4h0M240.8 414.6h0M235.4 414h0M241.3 416.2h0" stroke="#ffffff" stroke-width="0.7200000000000001" stroke-linecap="round" fill="none" stroke-opacity="0.75"/><path d="M218.4 415.4L218.5 415.2L219.8 414.8L220.4 414.6L221.4 415.6L222.5 414.5L223.5 415.5L223.6 416.1L224.5 416.5L224.2 417L225.3 417.4L226 417.9L226.1 417L225.5 417.9L225.5 418.5L224.6 418.7L222.8 418.5L222.3 418.4L221.5 418.8L220.5 418.8L219.9 419.3L219.9 418.4L219.8 418.2L219 416.9L219.2 417.5L219.2 417L218 415.8L217.3 416Z" fill="#F044E0"/><path d="M223.3 418.8h0M224.4 418.4h0M219.2 415.3h0M223.8 416.6h0M223.9 418.5h0M225.6 417.6h0M218.2 415.4h0M224.3 418.4h0M225.5 417.5h0M219.2 417.7h0M223.9 416.7h0M219.6 418.1h0M225.3 418.2h0M226.2 418h0M219.6 415.1h0" stroke="#F044E0" stroke-width="0.8" stroke-linecap="round" fill="none"/><path d="M264.5 415.6L264.5 415.1L265 414.4L265.5 414.4L267.5 413.9L268.2 413L269.3 413.2L271.2 413.8L271.6 412.9L273.7 413L273.6 413.5L275.1 413.5L276.4 413.9L276.6 414.5L277.7 415.6L278 415.6L278.4 417.4L278.3 417L277.7 418.9L278.8 419.9L278.8 419.5L278.9 420.8L278.7 422.4L278.7 422.9L278.4 423.6L277.8 424.9L276.9 425.8L275.6 427.1L275.8 427.6L275.4 428.3L273.4 428.2L273.4 429.1L271.8 429.8L270.9 429.2L269 430.4L267.6 429.8L265.8 430.2L264.9 430.8L264.6 431.1L265 431.1L265.4 432L264.4 432.8L264 433.7L264.1 434.4L264.6 435.6L264.3 437L263.8 437.8L264.5 439.2L263.7 439.4L263.5 440.5L262.3 440.6L262.8 440.8L262.1 440.1L261.1 439.6L261 439.7L259.3 439.6L258.5 437.8L257.3 437.5L256.9 437.1L255.8 435.9L254.6 435.1L253.2 434.4L252.7 433.8L252.2 434L251.1 433.6L250.6 432.6L248.7 432.9L247.8 431.6L248.7 431.7L248.3 430.4L248.1 429.1L249 428.2L249.3 427.1L250.7 426.1L250.5 425.9L251.5 425.5L251 424.5L253.9 425.2L253.9 425.6L254.8 425.3L254.4 424.9L256.3 424.7L257.8 424.9L258.7 423.7L258.9 424.3L260.4 424L260.9 424.3L262.1 424L263.1 423L263.5 422.3L263 420.9L264 419.8L263.3 418.6L263 417.8L262.9 417.9L263 416Z" fill="#4CC19B"/><path d="M251.1 433.6h0M277.2 415h0M279 416.3h0M270.2 429.6h0M264.3 414.7h0M277.4 414.9h0M258.7 439.3h0M249.3 432.9h0M274.1 428.3h0M260.4 423.6h0M278.4 422.8h0M278.3 415.6h0M248.6 427.4h0M274.8 413.1h0M257.2 438h0M252.8 434.7h0M279.1 420.3h0M248.7 431.2h0M248.6 431.3h0M250.1 433.6h0M255.4 436.1h0M274.4 412.7h0M252.1 434.3h0M248.1 428.3h0M279.4 422.3h0M263.2 420.2h0M259.2 439.2h0M262.2 440.3h0M279 418.3h0M277.3 426.1h0M277.8 425h0M272.5 412.8h0M276.2 413.1h0" stroke="#4CC19B" stroke-width="0.8" stroke-linecap="round" fill="none"/><path d="M269.1 419.1h0M263.8 425.6h0M252.4 430.9h0M261.9 432.3h0M264.2 426.7h0M258.8 429.5h0M259.8 425.8h0M263.8 429.8h0M271.7 414.2h0M262.2 431.3h0M259.8 436.5h0M266.7 418.8h0M264.9 417.2h0M253.1 430.4h0M270.8 419.7h0M265.9 417.2h0M264.8 419.3h0M256.4 430h0M265.1 427.7h0M253.6 425.9h0M253.2 427.2h0M250.2 429.3h0M272 414.3h0M254 431.5h0M277.5 418.8h0M273.1 417.3h0M273.7 416.8h0M272 421.4h0M265.3 427.1h0M261.6 433.2h0M274.2 414.6h0M276.1 419.8h0M265.6 426.8h0M264.5 426.3h0M271 422h0" stroke="#ffffff" stroke-width="0.7200000000000001" stroke-linecap="round" fill="none" stroke-opacity="0.75"/><path d="M238.1 439.5L238.4 438.8L239.2 438.1L239.9 436.6L240.4 436.7L241.5 436.7L243 436.8L243.4 436.2L244.4 437.1L245 436.7L245.6 438.3L246.3 438.5L247 440.2L248.3 441.2L248.4 441.9L249.4 443.3L250 445.4L249.7 446L250.4 447.5L249.5 447.9L248.9 448.5L248.5 448.9L247 449.3L245.8 449.2L244.4 450L243.4 448.7L242.3 448.9L241.7 448.9L240 448L239.5 447.5L238.7 447.1L238.7 446.7L237.5 445.8L237.5 445.1L237 443.2L237.1 442.6L237.3 441.9L237.2 441.6L237.4 440.3L237.7 440.3Z" fill="#48A6EE"/><path d="M239.1 448h0M244.7 437h0M237.2 444.8h0M238 439.8h0M249.1 442.7h0M250.3 445.2h0M240.5 449h0M246.1 438.5h0M248.8 442.4h0M250 446.5h0M241.8 436.6h0M245 436.9h0M240.4 448.7h0" stroke="#48A6EE" stroke-width="0.8" stroke-linecap="round" fill="none"/><path d="M247.2 445.5h0M249.2 446.4h0M242 439h0M249.3 447.1h0M241.8 440h0M240.4 442.5h0M248.4 442.9h0M237.9 444.8h0M241.4 437.3h0M243.2 448.7h0M244.2 443.7h0M249.7 445.6h0M241.4 443.3h0M240.2 442.9h0M240 443.7h0" stroke="#ffffff" stroke-width="0.7200000000000001" stroke-linecap="round" fill="none" stroke-opacity="0.75"/><path d="M254 374L254.3 373.5L255.1 373.2L256 373.8L255.9 372.7L256.5 373.4L257.4 373.6L258 372.8L258.1 373.7L258.3 374.4L258.9 375.6L257.5 375.9L257.1 376.9L256.8 376.6L257.1 377.6L257.6 377.4L257.2 377.8L256.9 378.8L256.9 378.8L256.8 380L257.2 379.4L257.6 380L256.7 379.6L256.6 379.2L255.7 377.8L256.1 378.4L255.9 377.7L255.8 377.7L254.9 377.7L254 376.9L254.9 376.3L253.9 376.8L254 376.4L253.9 375.7L252.9 375.3L253.4 374.1Z" fill="#68AE26"/><path d="M258.1 373.6h0M255.4 373.3h0M257.2 378.2h0M257.3 378.5h0M254.9 373.5h0M255.8 373.1h0M257.3 378.9h0M255.8 373.3h0M254.8 373.6h0M254.9 373.5h0M254 376.3h0M255.4 373.5h0M254.9 373.5h0" stroke="#68AE26" stroke-width="0.8" stroke-linecap="round" fill="none"/><path d="M247.9 407.1L248.3 407L248.5 406.6L248.7 406.8L249.2 405.7L249.2 405.8L249.9 406.6L249.8 407.4L249.8 407.6L251 407.9L250.6 408.3L250.4 408.3L251.5 409L251.4 408.8L251.4 409.2L250.5 410.2L251.4 410.8L250.9 410.9L249.9 411.1L250.3 411.7L249.9 412.6L249.5 412.3L249.2 412.8L249.2 413.8L249.4 413.9L248.8 413.7L248.8 413L248.9 412.6L248.9 412.6L247.8 412.3L247.7 412.4L247.2 411L247.2 411.3L247.9 410.5L246.3 410L247 409.8L247.1 409.2L246.9 408.4L246.7 407.7L247 407.7Z" fill="#3CB96C"/><path d="M246.8 409h0M247.8 407.1h0M251.1 409.8h0M247.2 408.3h0M249.3 406.2h0M248.2 406.7h0M248.5 406.2h0M249.8 406.8h0M250.2 411.7h0M247 410.4h0M249.4 413.3h0M248.5 406.2h0M251.2 409.5h0" stroke="#3CB96C" stroke-width="0.8" stroke-linecap="round" fill="none"/><path d="M257.7 407.9L256.8 407.5L258 407.1L258.7 408L258.6 407.5L259 407.8L258.4 407.8L258.4 408.7L257.4 409.1L258.3 409.5L257.7 409.7L257.2 411.5L257.6 411.1L256.8 410.3L257.4 411.1L256.6 409.8L257.2 410L256.8 408.6L256.6 408.5L256.3 407.4Z" fill="#48BCCC"/><path d="M258.7 408h0M258 410h0M257 409.9h0M257.8 410.4h0M256.8 409.4h0M258.2 407.5h0M258.3 407.4h0" stroke="#48BCCC" stroke-width="0.8" stroke-linecap="round" fill="none"/><path d="M298.9 408.3C299.2 408.2 299.6 409.4 300.1 409.9C300.5 410.5 301.4 410.8 301.6 411.4C301.8 412.1 301.6 413.2 301.3 413.9C300.9 414.6 300 415.5 299.3 415.7C298.7 415.9 297.7 415.5 297.2 415.1C296.6 414.7 296.1 413.5 296.2 413.4C296.2 413.2 296.9 414 297.4 414.1C297.9 414.2 298.8 414.2 299.1 413.9C299.4 413.5 299.5 412.5 299.3 411.9C299.2 411.3 298.2 411 298.1 410.4C298 409.8 298.5 408.4 298.9 408.3Z" fill="#A262F5"/><path d="M253 391.3h0M251.7 393.3h0M254 391.5h0M253.5 393.9h0M253.4 393.5h0M253.4 392.4h0M254.1 393h0" stroke="#E07A28" stroke-width="0.96" stroke-linecap="round" fill="none"/><path d="M254.9 388.3h0M254.8 389.3h0M254.1 388.9h0M253.9 389.4h0M256.3 388.7h0" stroke="#5E86F5" stroke-width="0.96" stroke-linecap="round" fill="none"/><path d="M267.1 366.8h0M266.4 366.6h0M266.8 367.8h0M266.9 367.8h0M266.9 366.8h0" stroke="#3DB93D" stroke-width="0.96" stroke-linecap="round" fill="none"/><path d="M273.6 375.2h0M273.9 374.6h0M273 375.8h0" stroke="#C0922E" stroke-width="0.96" stroke-linecap="round" fill="none"/><path d="M297.1 396h0M296 394.3h0M298 397.3h0M297.5 396.3h0" stroke="#9DA12E" stroke-width="0.96" stroke-linecap="round" fill="none"/><path d="M280.8 418h0M281.6 418.3h0M282.5 417.9h0M280.9 418.5h0" stroke="#4CC19B" stroke-width="0.96" stroke-linecap="round" fill="none"/><path d="M231.8 371.1h0M231.8 370.9h0" stroke="#EE4592" stroke-width="0.96" stroke-linecap="round" fill="none"/><path d="M229.3 413.3h0M229.9 413.8h0" stroke="#E044EE" stroke-width="0.96" stroke-linecap="round" fill="none"/><circle cx="263.3" cy="418.4" r="0.44" fill="#5E86F5"/><circle cx="226.8" cy="371.2" r="0.44" fill="#3DB93D"/><circle cx="239.6" cy="427.6" r="0.44" fill="#EE4592"/><circle cx="266.3" cy="374.3" r="0.44" fill="#3CB96C"/><circle cx="285.0" cy="370.6" r="0.44" fill="#E07A28"/><circle cx="258.5" cy="378.5" r="0.44" fill="#E044EE"/><circle cx="269.7" cy="434.4" r="0.44" fill="#E07A28"/><circle cx="294.0" cy="393.9" r="0.44" fill="#5E86F5"/><circle cx="278.2" cy="413.8" r="0.44" fill="#3DB93D"/><circle cx="267.2" cy="410.5" r="0.44" fill="#48BCCC"/><circle cx="229.9" cy="388.6" r="0.44" fill="#E9585E"/><circle cx="278.4" cy="415.2" r="0.44" fill="#3CB96C"/><circle cx="257.8" cy="421.3" r="0.44" fill="#3CB96C"/><circle cx="258.4" cy="431.5" r="0.44" fill="#48A6EE"/><circle cx="281.2" cy="409.4" r="0.44" fill="#E044EE"/><circle cx="266.4" cy="397.5" r="0.44" fill="#48A6EE"/><circle cx="285.1" cy="382.1" r="0.44" fill="#3DB93D"/><circle cx="235.0" cy="412.0" r="0.44" fill="#48BCCC"/><circle cx="261.0" cy="430.0" r="0.44" fill="#9DA12E"/><circle cx="271.2" cy="376.5" r="0.44" fill="#E9585E"/><circle cx="227.8" cy="367.4" r="0.44" fill="#68AE26"/><circle cx="286.0" cy="440.5" r="0.44" fill="#C0922E"/><circle cx="285.8" cy="382.2" r="0.44" fill="#F044E0"/><circle cx="253.4" cy="436.2" r="0.44" fill="#5E86F5"/><circle cx="274.6" cy="446.2" r="0.44" fill="#E07A28"/><circle cx="272.3" cy="397.5" r="0.44" fill="#E044EE"/><circle cx="269.2" cy="430.5" r="0.44" fill="#F044E0"/><circle cx="287.6" cy="437.2" r="0.44" fill="#5E86F5"/><circle cx="289.7" cy="411.2" r="0.44" fill="#3DB93D"/><circle cx="223.5" cy="442.6" r="0.44" fill="#48A6EE"/><circle cx="257.9" cy="370.1" r="0.44" fill="#48A6EE"/><circle cx="237.0" cy="425.7" r="0.44" fill="#5E86F5"/><circle cx="303.1" cy="414.4" r="0.44" fill="#EE4592"/><circle cx="273.3" cy="374.6" r="0.44" fill="#68AE26"/><circle cx="244.2" cy="426.8" r="0.44" fill="#C0922E"/><rect x="215.4" y="252.6" width="91.6" height="92.6" fill="none" stroke="#111" stroke-width="1.4"/><rect x="215.0" y="364.9" width="92.0" height="92.6" fill="none" stroke="#111" stroke-width="1.4"/><text x="261.5" y="247.7" font-size="10.2" text-anchor="middle" fill="#1a1a1a">Tavé van Zyl et al</text><text x="216.2" y="360.8" font-size="10.45" fill="#1a1a1a">Gaurang Patel et al</text><circle cx="317.6" cy="277.1" r="2.75" fill="#E9585E"/><text x="326.8" y="279.9" font-size="7.9" fill="#222">TM1</text><circle cx="317.6" cy="287.0" r="2.75" fill="#E07A28"/><text x="326.8" y="289.8" font-size="7.9" fill="#222">TM2</text><circle cx="317.6" cy="296.8" r="2.75" fill="#C0922E"/><text x="326.8" y="299.6" font-size="7.9" fill="#222">fibroblast</text><circle cx="317.6" cy="306.7" r="2.75" fill="#9DA12E"/><text x="326.8" y="309.5" font-size="7.9" fill="#222">JCT</text><circle cx="317.6" cy="316.5" r="2.75" fill="#68AE26"/><text x="326.8" y="319.3" font-size="7.9" fill="#222">V-Endo</text><circle cx="317.6" cy="326.4" r="2.75" fill="#3DB93D"/><text x="326.8" y="329.2" font-size="7.9" fill="#222">L-Endo/SC</text><circle cx="317.6" cy="336.2" r="2.75" fill="#3CB96C"/><text x="326.8" y="339.0" font-size="7.9" fill="#222">pericyte</text><circle cx="317.6" cy="346.1" r="2.75" fill="#4CC19B"/><text x="326.8" y="348.9" font-size="7.9" fill="#222">Schwann</text><circle cx="317.6" cy="355.9" r="2.75" fill="#48BCCC"/><text x="326.8" y="358.7" font-size="7.9" fill="#222">SchMy</text><circle cx="317.6" cy="365.8" r="2.75" fill="#48A6EE"/><text x="326.8" y="368.6" font-size="7.9" fill="#222">melanocyte</text><circle cx="317.6" cy="375.6" r="2.75" fill="#5E86F5"/><text x="326.8" y="378.4" font-size="7.9" fill="#222">smooth muscle</text><circle cx="317.6" cy="385.5" r="2.75" fill="#A262F5"/><text x="326.8" y="388.3" font-size="7.9" fill="#222">epithelium</text><circle cx="317.6" cy="395.3" r="2.75" fill="#E044EE"/><text x="326.8" y="398.1" font-size="7.9" fill="#222">macrophage</text><circle cx="317.6" cy="405.1" r="2.75" fill="#F044E0"/><text x="326.8" y="407.9" font-size="7.9" fill="#222">lymphocyte</text><circle cx="317.6" cy="415.0" r="2.75" fill="#EE4592"/><text x="326.8" y="417.8" font-size="7.9" fill="#222">mast</text><rect x="458.6" y="250.6" width="195" height="179.6" fill="#fff" stroke="#ececec" stroke-width="0.8"/><rect x="460.2" y="252.1" width="12.8" height="13.0" fill="#E36E53"/><rect x="475.1" y="252.1" width="12.8" height="13.0" fill="#F5DBCD"/><rect x="490.0" y="252.1" width="12.8" height="13.0" fill="#F4D2C0"/><rect x="504.8" y="252.1" width="12.8" height="13.0" fill="#F5DBCD"/><rect x="519.7" y="252.1" width="12.8" height="13.0" fill="#E7775A"/><rect x="534.6" y="252.1" width="12.8" height="13.0" fill="#DC5C46"/><rect x="549.5" y="252.1" width="12.8" height="13.0" fill="#F6E8E0"/><rect x="564.4" y="252.1" width="12.8" height="13.0" fill="#F2F3F4"/><rect x="579.2" y="252.1" width="12.8" height="13.0" fill="#EB987C"/><rect x="594.1" y="252.1" width="12.8" height="13.0" fill="#F1F3F4"/><rect x="609.0" y="252.1" width="12.8" height="13.0" fill="#83B5D7"/><rect x="623.9" y="252.1" width="12.8" height="13.0" fill="#CAE0ED"/><rect x="638.8" y="252.1" width="12.8" height="13.0" fill="#A2CAE1"/><rect x="460.2" y="267.0" width="12.8" height="13.0" fill="#EDA78D"/><rect x="475.1" y="267.0" width="12.8" height="13.0" fill="#F2C4AF"/><rect x="490.0" y="267.0" width="12.8" height="13.0" fill="#F5DFD3"/><rect x="504.8" y="267.0" width="12.8" height="13.0" fill="#EB987C"/><rect x="519.7" y="267.0" width="12.8" height="13.0" fill="#EB987C"/><rect x="534.6" y="267.0" width="12.8" height="13.0" fill="#EDA78D"/><rect x="549.5" y="267.0" width="12.8" height="13.0" fill="#D6E6F0"/><rect x="564.4" y="267.0" width="12.8" height="13.0" fill="#F5F0ED"/><rect x="579.2" y="267.0" width="12.8" height="13.0" fill="#EBF0F3"/><rect x="594.1" y="267.0" width="12.8" height="13.0" fill="#2B58A5"/><rect x="609.0" y="267.0" width="12.8" height="13.0" fill="#F4D2C0"/><rect x="623.9" y="267.0" width="12.8" height="13.0" fill="#F5DBCD"/><rect x="638.8" y="267.0" width="12.8" height="13.0" fill="#F3CBB7"/><rect x="460.2" y="281.9" width="12.8" height="13.0" fill="#EDA78D"/><rect x="475.1" y="281.9" width="12.8" height="13.0" fill="#EB987C"/><rect x="490.0" y="281.9" width="12.8" height="13.0" fill="#F4D2C0"/><rect x="504.8" y="281.9" width="12.8" height="13.0" fill="#F6E8E0"/><rect x="519.7" y="281.9" width="12.8" height="13.0" fill="#E7775A"/><rect x="534.6" y="281.9" width="12.8" height="13.0" fill="#E9876B"/><rect x="549.5" y="281.9" width="12.8" height="13.0" fill="#F4D2C0"/><rect x="564.4" y="281.9" width="12.8" height="13.0" fill="#F5DFD3"/><rect x="579.2" y="281.9" width="12.8" height="13.0" fill="#E36E53"/><rect x="594.1" y="281.9" width="12.8" height="13.0" fill="#F6E8E0"/><rect x="609.0" y="281.9" width="12.8" height="13.0" fill="#74AAD2"/><rect x="623.9" y="281.9" width="12.8" height="13.0" fill="#B9D6E8"/><rect x="638.8" y="281.9" width="12.8" height="13.0" fill="#A2CAE1"/><rect x="460.2" y="296.7" width="12.8" height="13.0" fill="#F5DBCD"/><rect x="475.1" y="296.7" width="12.8" height="13.0" fill="#D0E3EE"/><rect x="490.0" y="296.7" width="12.8" height="13.0" fill="#EBF0F3"/><rect x="504.8" y="296.7" width="12.8" height="13.0" fill="#CA3F3A"/><rect x="519.7" y="296.7" width="12.8" height="13.0" fill="#F0F2F3"/><rect x="534.6" y="296.7" width="12.8" height="13.0" fill="#F2F3F4"/><rect x="549.5" y="296.7" width="12.8" height="13.0" fill="#EB987C"/><rect x="564.4" y="296.7" width="12.8" height="13.0" fill="#C43537"/><rect x="579.2" y="296.7" width="12.8" height="13.0" fill="#E57257"/><rect x="594.1" y="296.7" width="12.8" height="13.0" fill="#D6E6F0"/><rect x="609.0" y="296.7" width="12.8" height="13.0" fill="#E7EEF2"/><rect x="623.9" y="296.7" width="12.8" height="13.0" fill="#F6E4DA"/><rect x="638.8" y="296.7" width="12.8" height="13.0" fill="#D6E6F0"/><rect x="460.2" y="311.6" width="12.8" height="13.0" fill="#F4D2C0"/><rect x="475.1" y="311.6" width="12.8" height="13.0" fill="#F4D6C6"/><rect x="490.0" y="311.6" width="12.8" height="13.0" fill="#F5DFD3"/><rect x="504.8" y="311.6" width="12.8" height="13.0" fill="#F2C4AF"/><rect x="519.7" y="311.6" width="12.8" height="13.0" fill="#EB987C"/><rect x="534.6" y="311.6" width="12.8" height="13.0" fill="#EFB59E"/><rect x="549.5" y="311.6" width="12.8" height="13.0" fill="#EDA78D"/><rect x="564.4" y="311.6" width="12.8" height="13.0" fill="#EEAE95"/><rect x="579.2" y="311.6" width="12.8" height="13.0" fill="#ECA084"/><rect x="594.1" y="311.6" width="12.8" height="13.0" fill="#F5ECE7"/><rect x="609.0" y="311.6" width="12.8" height="13.0" fill="#5A93C6"/><rect x="623.9" y="311.6" width="12.8" height="13.0" fill="#F4F2F1"/><rect x="638.8" y="311.6" width="12.8" height="13.0" fill="#5086BF"/><rect x="460.2" y="326.5" width="12.8" height="13.0" fill="#F3CBB7"/><rect x="475.1" y="326.5" width="12.8" height="13.0" fill="#F6E4DA"/><rect x="490.0" y="326.5" width="12.8" height="13.0" fill="#F5DFD3"/><rect x="504.8" y="326.5" width="12.8" height="13.0" fill="#F4D6C6"/><rect x="519.7" y="326.5" width="12.8" height="13.0" fill="#EA9073"/><rect x="534.6" y="326.5" width="12.8" height="13.0" fill="#F1BDA6"/><rect x="549.5" y="326.5" width="12.8" height="13.0" fill="#EDA78D"/><rect x="564.4" y="326.5" width="12.8" height="13.0" fill="#EFB59E"/><rect x="579.2" y="326.5" width="12.8" height="13.0" fill="#EB987C"/><rect x="594.1" y="326.5" width="12.8" height="13.0" fill="#F5F0ED"/><rect x="609.0" y="326.5" width="12.8" height="13.0" fill="#578FC4"/><rect x="623.9" y="326.5" width="12.8" height="13.0" fill="#F4F2F1"/><rect x="638.8" y="326.5" width="12.8" height="13.0" fill="#578FC4"/><rect x="460.2" y="341.4" width="12.8" height="13.0" fill="#E9876B"/><rect x="475.1" y="341.4" width="12.8" height="13.0" fill="#F6E4DA"/><rect x="490.0" y="341.4" width="12.8" height="13.0" fill="#F3CBB7"/><rect x="504.8" y="341.4" width="12.8" height="13.0" fill="#F4D2C0"/><rect x="519.7" y="341.4" width="12.8" height="13.0" fill="#DC5C46"/><rect x="534.6" y="341.4" width="12.8" height="13.0" fill="#E7775A"/><rect x="549.5" y="341.4" width="12.8" height="13.0" fill="#F6EAE4"/><rect x="564.4" y="341.4" width="12.8" height="13.0" fill="#F6E4DA"/><rect x="579.2" y="341.4" width="12.8" height="13.0" fill="#F2C4AF"/><rect x="594.1" y="341.4" width="12.8" height="13.0" fill="#F6E4DA"/><rect x="609.0" y="341.4" width="12.8" height="13.0" fill="#74AAD2"/><rect x="623.9" y="341.4" width="12.8" height="13.0" fill="#EBF0F3"/><rect x="638.8" y="341.4" width="12.8" height="13.0" fill="#5A93C6"/><rect x="460.2" y="356.3" width="12.8" height="13.0" fill="#F6E8E0"/><rect x="475.1" y="356.3" width="12.8" height="13.0" fill="#F6E4DA"/><rect x="490.0" y="356.3" width="12.8" height="13.0" fill="#F6E8E0"/><rect x="504.8" y="356.3" width="12.8" height="13.0" fill="#F5DBCD"/><rect x="519.7" y="356.3" width="12.8" height="13.0" fill="#F4D6C6"/><rect x="534.6" y="356.3" width="12.8" height="13.0" fill="#F5DFD3"/><rect x="549.5" y="356.3" width="12.8" height="13.0" fill="#E87F62"/><rect x="564.4" y="356.3" width="12.8" height="13.0" fill="#F4D6C6"/><rect x="579.2" y="356.3" width="12.8" height="13.0" fill="#D95744"/><rect x="594.1" y="356.3" width="12.8" height="13.0" fill="#F5DBCD"/><rect x="609.0" y="356.3" width="12.8" height="13.0" fill="#A8CDE3"/><rect x="623.9" y="356.3" width="12.8" height="13.0" fill="#EB987C"/><rect x="638.8" y="356.3" width="12.8" height="13.0" fill="#3869AE"/><rect x="460.2" y="371.1" width="12.8" height="13.0" fill="#F3CBB7"/><rect x="475.1" y="371.1" width="12.8" height="13.0" fill="#F4D6C6"/><rect x="490.0" y="371.1" width="12.8" height="13.0" fill="#EDA78D"/><rect x="504.8" y="371.1" width="12.8" height="13.0" fill="#F4F4F4"/><rect x="519.7" y="371.1" width="12.8" height="13.0" fill="#F4D2C0"/><rect x="534.6" y="371.1" width="12.8" height="13.0" fill="#E7775A"/><rect x="549.5" y="371.1" width="12.8" height="13.0" fill="#F5DFD3"/><rect x="564.4" y="371.1" width="12.8" height="13.0" fill="#E7EEF2"/><rect x="579.2" y="371.1" width="12.8" height="13.0" fill="#EA9073"/><rect x="594.1" y="371.1" width="12.8" height="13.0" fill="#EAEFF3"/><rect x="609.0" y="371.1" width="12.8" height="13.0" fill="#AED0E4"/><rect x="623.9" y="371.1" width="12.8" height="13.0" fill="#CD443C"/><rect x="638.8" y="371.1" width="12.8" height="13.0" fill="#679ECC"/><rect x="460.2" y="386.0" width="12.8" height="13.0" fill="#F6E8E0"/><rect x="475.1" y="386.0" width="12.8" height="13.0" fill="#F1BDA6"/><rect x="490.0" y="386.0" width="12.8" height="13.0" fill="#F4F2F0"/><rect x="504.8" y="386.0" width="12.8" height="13.0" fill="#ECA084"/><rect x="519.7" y="386.0" width="12.8" height="13.0" fill="#F6E4DA"/><rect x="534.6" y="386.0" width="12.8" height="13.0" fill="#F6E8E0"/><rect x="549.5" y="386.0" width="12.8" height="13.0" fill="#EAEFF3"/><rect x="564.4" y="386.0" width="12.8" height="13.0" fill="#F4D6C6"/><rect x="579.2" y="386.0" width="12.8" height="13.0" fill="#F1F3F4"/><rect x="594.1" y="386.0" width="12.8" height="13.0" fill="#2B58A5"/><rect x="609.0" y="386.0" width="12.8" height="13.0" fill="#E87F62"/><rect x="623.9" y="386.0" width="12.8" height="13.0" fill="#EA9073"/><rect x="638.8" y="386.0" width="12.8" height="13.0" fill="#E57257"/><rect x="460.2" y="400.9" width="12.8" height="13.0" fill="#EBF0F3"/><rect x="475.1" y="400.9" width="12.8" height="13.0" fill="#F6E8E0"/><rect x="490.0" y="400.9" width="12.8" height="13.0" fill="#D0E3EE"/><rect x="504.8" y="400.9" width="12.8" height="13.0" fill="#F5DBCD"/><rect x="519.7" y="400.9" width="12.8" height="13.0" fill="#F5F0ED"/><rect x="534.6" y="400.9" width="12.8" height="13.0" fill="#F4F4F4"/><rect x="549.5" y="400.9" width="12.8" height="13.0" fill="#E87F62"/><rect x="564.4" y="400.9" width="12.8" height="13.0" fill="#A50F23"/><rect x="579.2" y="400.9" width="12.8" height="13.0" fill="#EB987C"/><rect x="594.1" y="400.9" width="12.8" height="13.0" fill="#679ECC"/><rect x="609.0" y="400.9" width="12.8" height="13.0" fill="#F6E4DA"/><rect x="623.9" y="400.9" width="12.8" height="13.0" fill="#F4D6C6"/><rect x="638.8" y="400.9" width="12.8" height="13.0" fill="#F5ECE7"/><rect x="460.2" y="415.8" width="12.8" height="13.0" fill="#F1BDA6"/><rect x="475.1" y="415.8" width="12.8" height="13.0" fill="#EAEFF3"/><rect x="490.0" y="415.8" width="12.8" height="13.0" fill="#F5DBCD"/><rect x="504.8" y="415.8" width="12.8" height="13.0" fill="#E7EEF2"/><rect x="519.7" y="415.8" width="12.8" height="13.0" fill="#F2C4AF"/><rect x="534.6" y="415.8" width="12.8" height="13.0" fill="#EB987C"/><rect x="549.5" y="415.8" width="12.8" height="13.0" fill="#E87F62"/><rect x="564.4" y="415.8" width="12.8" height="13.0" fill="#D6E6F0"/><rect x="579.2" y="415.8" width="12.8" height="13.0" fill="#DC5C46"/><rect x="594.1" y="415.8" width="12.8" height="13.0" fill="#EFB59E"/><rect x="609.0" y="415.8" width="12.8" height="13.0" fill="#74AAD2"/><rect x="623.9" y="415.8" width="12.8" height="13.0" fill="#EDA78D"/><rect x="638.8" y="415.8" width="12.8" height="13.0" fill="#AED0E4"/><text transform="translate(454.6 261.9) scale(1 1.13)" font-size="8.9" text-anchor="end" fill="#2a2a2a">TM1</text><line x1="455.2" y1="258.6" x2="457.6" y2="258.6" stroke="#444" stroke-width="0.7"/><text transform="translate(454.6 276.8) scale(1 1.13)" font-size="8.9" text-anchor="end" fill="#2a2a2a">TM2</text><line x1="455.2" y1="273.5" x2="457.6" y2="273.5" stroke="#444" stroke-width="0.7"/><text transform="translate(454.6 291.7) scale(1 1.13)" font-size="8.9" text-anchor="end" fill="#2a2a2a">fibroblast</text><line x1="455.2" y1="288.4" x2="457.6" y2="288.4" stroke="#444" stroke-width="0.7"/><text transform="translate(454.6 306.5) scale(1 1.13)" font-size="8.9" text-anchor="end" fill="#2a2a2a">JCT</text><line x1="455.2" y1="303.2" x2="457.6" y2="303.2" stroke="#444" stroke-width="0.7"/><text transform="translate(454.6 321.4) scale(1 1.13)" font-size="8.9" text-anchor="end" fill="#2a2a2a">V.Endo</text><line x1="455.2" y1="318.1" x2="457.6" y2="318.1" stroke="#444" stroke-width="0.7"/><text transform="translate(454.6 336.3) scale(1 1.13)" font-size="8.9" text-anchor="end" fill="#2a2a2a">L.Endo_SC</text><line x1="455.2" y1="333.0" x2="457.6" y2="333.0" stroke="#444" stroke-width="0.7"/><text transform="translate(454.6 351.2) scale(1 1.13)" font-size="8.9" text-anchor="end" fill="#2a2a2a">pericyte</text><line x1="455.2" y1="347.9" x2="457.6" y2="347.9" stroke="#444" stroke-width="0.7"/><text transform="translate(454.6 366.1) scale(1 1.13)" font-size="8.9" text-anchor="end" fill="#2a2a2a">Schwann</text><line x1="455.2" y1="362.8" x2="457.6" y2="362.8" stroke="#444" stroke-width="0.7"/><text transform="translate(454.6 380.9) scale(1 1.13)" font-size="8.9" text-anchor="end" fill="#2a2a2a">SchMy</text><line x1="455.2" y1="377.6" x2="457.6" y2="377.6" stroke="#444" stroke-width="0.7"/><text transform="translate(454.6 395.8) scale(1 1.13)" font-size="8.9" text-anchor="end" fill="#2a2a2a">melanocyte</text><line x1="455.2" y1="392.5" x2="457.6" y2="392.5" stroke="#444" stroke-width="0.7"/><text transform="translate(454.6 410.7) scale(1 1.13)" font-size="8.9" text-anchor="end" fill="#2a2a2a">smooth_muscle</text><line x1="455.2" y1="407.4" x2="457.6" y2="407.4" stroke="#444" stroke-width="0.7"/><text transform="translate(454.6 425.6) scale(1 1.13)" font-size="8.9" text-anchor="end" fill="#2a2a2a">epithelium</text><line x1="455.2" y1="422.3" x2="457.6" y2="422.3" stroke="#444" stroke-width="0.7"/><line x1="466.6" y1="430.6" x2="466.6" y2="433.0" stroke="#444" stroke-width="0.7"/><text transform="translate(476.0 439.9) rotate(-45) scale(1 1.13)" font-size="8.9" text-anchor="end" fill="#2a2a2a">pTM1</text><line x1="481.5" y1="430.6" x2="481.5" y2="433.0" stroke="#444" stroke-width="0.7"/><text transform="translate(490.9 439.9) rotate(-45) scale(1 1.13)" font-size="8.9" text-anchor="end" fill="#2a2a2a">pTM2</text><line x1="496.4" y1="430.6" x2="496.4" y2="433.0" stroke="#444" stroke-width="0.7"/><text transform="translate(505.8 439.9) rotate(-45) scale(1 1.13)" font-size="8.9" text-anchor="end" fill="#2a2a2a">pTM3</text><line x1="511.2" y1="430.6" x2="511.2" y2="433.0" stroke="#444" stroke-width="0.7"/><text transform="translate(520.6 439.9) rotate(-45) scale(1 1.13)" font-size="8.9" text-anchor="end" fill="#2a2a2a">pTM4</text><line x1="526.1" y1="430.6" x2="526.1" y2="433.0" stroke="#444" stroke-width="0.7"/><text transform="translate(535.5 439.9) rotate(-45) scale(1 1.13)" font-size="8.9" text-anchor="end" fill="#2a2a2a">pTM5</text><line x1="541.0" y1="430.6" x2="541.0" y2="433.0" stroke="#444" stroke-width="0.7"/><text transform="translate(550.4 439.9) rotate(-45) scale(1 1.13)" font-size="8.9" text-anchor="end" fill="#2a2a2a">pTM6</text><line x1="555.9" y1="430.6" x2="555.9" y2="433.0" stroke="#444" stroke-width="0.7"/><text transform="translate(565.3 439.9) rotate(-45) scale(1 1.13)" font-size="8.9" text-anchor="end" fill="#2a2a2a">CM1</text><line x1="570.8" y1="430.6" x2="570.8" y2="433.0" stroke="#444" stroke-width="0.7"/><text transform="translate(580.2 439.9) rotate(-45) scale(1 1.13)" font-size="8.9" text-anchor="end" fill="#2a2a2a">CM2</text><line x1="585.6" y1="430.6" x2="585.6" y2="433.0" stroke="#444" stroke-width="0.7"/><text transform="translate(595.0 439.9) rotate(-45) scale(1 1.13)" font-size="8.9" text-anchor="end" fill="#2a2a2a">CM3</text><line x1="600.5" y1="430.6" x2="600.5" y2="433.0" stroke="#444" stroke-width="0.7"/><text transform="translate(609.9 439.9) rotate(-45) scale(1 1.13)" font-size="8.9" text-anchor="end" fill="#2a2a2a">CM4</text><line x1="615.4" y1="430.6" x2="615.4" y2="433.0" stroke="#444" stroke-width="0.7"/><text transform="translate(624.8 439.9) rotate(-45) scale(1 1.13)" font-size="8.9" text-anchor="end" fill="#2a2a2a">RC1</text><line x1="630.3" y1="430.6" x2="630.3" y2="433.0" stroke="#444" stroke-width="0.7"/><text transform="translate(639.7 439.9) rotate(-45) scale(1 1.13)" font-size="8.9" text-anchor="end" fill="#2a2a2a">RC2</text><line x1="645.2" y1="430.6" x2="645.2" y2="433.0" stroke="#444" stroke-width="0.7"/><text transform="translate(654.6 439.9) rotate(-45) scale(1 1.13)" font-size="8.9" text-anchor="end" fill="#2a2a2a">RC3</text><rect x="459.2" y="237.8" width="87.1" height="11.3" fill="#ffffff" stroke="#555" stroke-width="0.8"/><text x="502.8" y="246.3" font-size="7.5" text-anchor="middle" fill="#111">pTM</text><rect x="547.9" y="237.8" width="58.7" height="11.3" fill="#F4E7BA" stroke="#555" stroke-width="0.8"/><text x="577.2" y="246.3" font-size="7.5" text-anchor="middle" fill="#111">iPSC-TM CM</text><rect x="608.2" y="237.8" width="44.9" height="11.3" fill="#BAE5DF" stroke="#555" stroke-width="0.8"/><text x="630.7" y="246.3" font-size="7.5" text-anchor="middle" fill="#111">iPSC-TM RC</text><defs><linearGradient id="cb" x1="0" y1="0" x2="0" y2="1"><stop offset="0" stop-color="#B2182B"/><stop offset="0.2" stop-color="#D6604D"/><stop offset="0.35" stop-color="#F4A582"/><stop offset="0.45" stop-color="#FDDBC7"/><stop offset="0.55" stop-color="#F7F7F7"/><stop offset="0.65" stop-color="#D1E5F0"/><stop offset="0.75" stop-color="#92C5DE"/><stop offset="0.88" stop-color="#4393C3"/><stop offset="1" stop-color="#2166AC"/></linearGradient></defs><rect x="662.2" y="323.1" width="8.9" height="42.8" fill="url(#cb)"/><text x="662" y="319.6" font-size="5.2" fill="#333">value</text><text x="673.6" y="325.8" font-size="4.8" fill="#333">2</text><text x="673.6" y="334.6" font-size="4.8" fill="#333">1</text><text x="673.6" y="343.4" font-size="4.8" fill="#333">0</text><text x="673.6" y="352.2" font-size="4.8" fill="#333">-1</text><text x="673.6" y="361.0" font-size="4.8" fill="#333">-2</text><path d="M141.3 516.7L140.8 515.4L142 514.3L143 515.2L143.4 514.8L142.9 513.9L145 514.9L146.9 514.2L147.4 514L149.7 514.3L148.5 514.8L150.4 515.7L150.2 516.7L151.6 516.7L153.5 518.1L153.6 518.5L153.8 519.4L154.6 519.7L156.2 520.9L157.5 521.3L158.1 521.6L159.1 522.7L159.4 523.6L160.5 524.1L160.9 524.7L161.4 524.7L161.6 526.2L162.3 527.9L161.4 528.5L160.3 529.1L161.4 529.4L161.3 530.6L161.2 531.3L160.3 533L159.3 533.9L158.8 536.1L158.8 536.3L158 538.2L156.3 539.3L155.8 539.8L154.3 542.1L153.3 543L152.7 543.9L151.6 544.8L152.1 546.2L150.1 546.6L150.3 547.5L149.5 547.4L148.6 547.5L148.6 549.3L147.5 549.2L148.3 550.6L146.3 551L146.1 551.5L145 552.9L145 554.2L144.6 554.7L145.3 556.1L144 556.3L144.7 557.8L144.1 557.8L144.4 559.2L143.9 559.6L144.1 560.5L144.4 561.5L143.7 562.5L143 562.9L143.8 563.4L143.9 564.4L143.2 566L143 567.6L142.2 567.6L141.9 568.2L141 568.1L140.5 567.3L140.2 567.1L139.6 566.1L139.2 566.3L138.7 566.8L137.4 566.5L136.9 566.6L135.9 566L136.5 566.2L135.7 566L134.9 564.8L134.8 563.2L135.5 561.9L136 562.1L135.2 561.9L135.5 560.6L136.2 559.6L135 559.2L135.1 558L135.7 557L135.3 555.1L134.4 554.1L135.4 553.1L135.3 551.1L135.1 550.2L136.5 549.5L135.9 547.5L136.1 547.3L135.6 545.4L137.4 545.1L136.7 543.9L136.3 542.6L136.7 541.1L135.4 539.9L137.1 538.9L136.3 538.5L138.1 537L138.5 536.9L139.6 535.5L139.1 533.9L138.7 534.2L139.9 533.6L139.6 533.1L140.6 531.9L140.8 530.5L141.2 529L141 528.8L141.7 528.2L142.1 527L142.7 526.9L142.4 525.5L142.7 524.3L141.6 524.6L141.9 523.5L141.6 523.1L141.2 522.8L139.8 522.1L140 521.8L140.3 521.3L141.4 520.2L140.3 518.8L140 518.1Z" fill="#A8992A"/><path d="M140.5 516.7h0M140.2 568.2h0M161.5 530.1h0M135.1 551.6h0M143.4 564.6h0M157.5 519.9h0M148.7 514.2h0M152.1 517.2h0M162.1 528.6h0M146.6 552.1h0M135.4 564.9h0M136.4 541.7h0M134.9 553.2h0M141.6 528.5h0M135.7 543.8h0M150.8 515h0M160.1 534.7h0M161.7 531.3h0M152.6 517.2h0M162.2 526.9h0M157.1 538.4h0M150.3 514.7h0M144.4 559.6h0M161.9 531.2h0M135.4 553.5h0M146.6 552.3h0M135.5 565h0M150.7 546.2h0M134.2 563.7h0M135.5 565.3h0M159.1 520.6h0M156.9 520.2h0M152.9 516.7h0M149.8 513.6h0M142.6 513.1h0M154.4 517.2h0M145.1 512.4h0M141.9 513.7h0M150.5 515.5h0M135.5 550.8h0M142.7 513h0M134.8 556.5h0M141.6 569h0M150 514.5h0M147.2 551h0M162 527.6h0M145.3 513.8h0M134.5 560.8h0M145.5 512.8h0M136.5 540.2h0M145.6 512.9h0M161.5 522.7h0M140.3 515h0M153.2 517.7h0M144.7 512.8h0M153.5 518.4h0M159.7 534.8h0M162.4 524.7h0M136.9 566.9h0M140.8 568.6h0M158.7 536.5h0M146.7 513.4h0M152.4 516.9h0M152.8 517.6h0M136 546.2h0M151.8 544.9h0M145.1 513.3h0M146 513.8h0M149.1 513.2h0M149.3 548.5h0M144.3 561.1h0M135.7 550.9h0M138.8 567.7h0M134.9 564.1h0M135.3 555.1h0M162.1 529.3h0M159.5 522.6h0M149.9 515.2h0M139.2 532.6h0M135.4 556.5h0M137.3 567.1h0M135.1 566.8h0M145.7 554.3h0M162.1 526h0M136.4 539.7h0M145.8 553.5h0M138.4 535.7h0M149.6 514.7h0M142.6 567.6h0M159.9 522h0M140.2 567.3h0M145.6 554.6h0M141.7 513.7h0M136.5 567.9h0M140.2 566.9h0M140.6 530.7h0M149.1 548.9h0M135.3 558h0M135.9 541.7h0M158.6 521.4h0M141.2 515.1h0M161.1 524.1h0M135 557h0M140.7 519.5h0M152.3 515.8h0" stroke="#A8992A" stroke-width="1.0" stroke-linecap="round" fill="none"/><path d="M101 573.5L100.9 573.1L101.1 573.3L102.9 572.4L103.8 571.3L105.2 571.5L107.4 571.7L107.8 572.1L109.3 571.2L109.8 570.3L110 570.9L111.1 570.3L110.9 570.1L113.5 569.4L114.2 569.3L115.4 570L114.9 569.6L117 569.8L118.4 569.4L119.2 570.1L119.7 569.8L120.1 569.9L121.1 570.6L121.1 570.7L121.9 571L122.1 571.2L121.9 571.5L122.1 572L122.8 572.1L124.1 573.3L124.1 573.4L124.1 573L124.2 574.6L124.2 575.9L123.8 575.4L122.1 575.7L122.4 576.3L122.1 577.2L122.5 577.3L120.3 578.3L121.1 578.1L118.6 579.8L118.5 578.4L117.5 578.9L115.6 579L114.1 578.3L115 580.2L113.5 580.2L112.6 580.2L111.3 579.8L110 578.7L108.9 579.2L108.6 579.8L107.1 579.4L106.4 578.6L105.4 577.9L104.7 578.5L104 577.3L103.7 577.4L102.5 576.9L101.8 576.4L101.1 576L99.9 574.6L99.3 575.6Z" fill="#4EBFB9"/><path d="M107.1 578.8h0M121.4 577.6h0M123.1 571.6h0M123.4 572.7h0M101.7 572.9h0M124.4 574.5h0M109.7 570.4h0M111.3 569.7h0M102 576.1h0M123.7 573.5h0M114.2 579.8h0M115.6 569.2h0M123 576.4h0M123.3 572.6h0M104.5 577.9h0M106.4 578.7h0M122.7 571.4h0M124.1 574.9h0M102.7 576.7h0M124.8 574.7h0M115.9 579.6h0M102.5 576.6h0M109.3 579.5h0M110.1 579.5h0M109.2 579.4h0M103.3 577.6h0M108.1 579.5h0M99.7 574.3h0M104.8 578.1h0M102.2 572.7h0M119.9 569.5h0M108.9 570.5h0M112.8 569.4h0M118.1 579.4h0M112.1 580.2h0M123.2 576.1h0M115.6 568.9h0M115 569.2h0M114 580.1h0M123.2 575.9h0M121.7 577.8h0M109.5 579.6h0M101.3 573.3h0M117.7 579.6h0M122.7 571.7h0M112.1 569.5h0M122.8 576.9h0M119.2 569.4h0M100.7 575.3h0M124.2 574.4h0M121.2 578.3h0M103.1 572.4h0M101.2 575.4h0M124.2 573.8h0M115.9 569h0M104.4 571.8h0M115.2 569.3h0M112.1 580.2h0" stroke="#4EBFB9" stroke-width="1.0" stroke-linecap="round" fill="none"/><path d="M109.9 616.6L111.1 616.3L113.3 616.1L113.5 615L113.9 615.4L114.7 614.9L116.2 614.3L117 614.2L118.1 613.6L119.3 613.2L121.4 614.3L122.7 613.8L123 613.8L124.6 613.5L126 614.5L126.9 613.6L127.8 612.9L129 611.8L130.4 612.2L130.6 612.1L131.8 610.9L133.7 611L134 610.1L135.2 607.1L134.4 606L134.3 604.1L135.8 605L136.5 606.1L137.1 608.5L137.7 608.2L139.5 607.8L141.5 607.3L143.1 608L145.2 606.3L147.5 607.9L148.7 605.8L150 605.3L151.7 604.8L153.4 606.4L154.9 606.5L154.5 606.6L156.3 608.5L157.1 608.8L158.3 610.8L157.8 611.1L158.5 612.7L159.3 613.5L159.1 615.8L159.6 615.1L159.2 617.1L160.2 617.9L160.5 618.4L159.9 621L159.4 622.8L158.4 624.5L158.7 624.8L158.7 627.1L157.3 627.3L156.4 628.7L155.9 629.2L155.8 631.2L154.2 631.7L154.2 632L152.8 634.1L151.8 634.8L151 635.5L149.1 635.9L149.1 636.7L147.6 637.1L145.8 636.9L145 638.1L143.8 637.4L142.8 639.3L142 638.3L140.5 639.1L138.2 639.1L139.2 639.5L136.9 639.4L136.1 640.3L135 641.4L134.2 641.8L133.1 644.9L133.6 646.2L133.4 648L132.5 648.9L131.2 648.9L130 649.6L128.9 649L128.2 649.5L127.7 649.3L125.4 647.5L126.1 647.6L124.9 646.1L125.7 644.7L125.9 644.1L126.5 642.8L125.9 641.2L124.5 641.2L125.2 641.5L122.9 640.5L120.9 641L118.9 640.9L118.1 640.3L116.3 639.1L115.4 639L114.2 637L113.7 636.4L113.5 634.8L114.6 632.4L115.5 631.8L114.4 628.9L115.3 628L114.7 627.3L112.9 625.5L112.5 623.5L110.5 623L110.1 621L110.1 619.5L109.5 617.7Z" fill="#E9585E"/><path d="M115.2 614.2h0M159 610.2h0M129.5 650.8h0M113.2 637h0M149.1 605.6h0M116.9 614.6h0M113.3 627.2h0M160.2 615.8h0M115.9 640.9h0M151.4 635.8h0M155.9 607.8h0M159.6 619.1h0M141.2 606.4h0M151.7 605.5h0M119 613.8h0M159.3 614.1h0M139.5 639.9h0M149.5 636.6h0M126.3 642.2h0M130.5 611.6h0M160.5 620.1h0M133 649.5h0M129.6 650.2h0M125.5 642.3h0M159.2 626.9h0M109.9 619.5h0M153.1 634.1h0M115.4 614.6h0M149.4 605.7h0M113.8 636.9h0M121.9 641.3h0M129.6 612h0M159.8 616h0M157.8 627.3h0M115.7 640h0M130.9 611.4h0M159.6 624.5h0M160.5 621.1h0M119.9 640.9h0M113.3 630.8h0M115.1 639.3h0M137.1 606.3h0M121.6 613h0M114.3 631h0M152.5 634.8h0M158.1 628.8h0M156 630.8h0M146.8 637.1h0M161 614.8h0M159.3 613.6h0M141.9 639.3h0M160.5 624.6h0M128 649.9h0M128.8 649.3h0M160.9 613.7h0M114.1 635.6h0M153.9 606.2h0M134 645.9h0M112.3 634.2h0M154.3 605h0M160.1 610.1h0M124.1 613h0M120.7 641.1h0M150.8 605.6h0M114.4 615h0M130.5 611.3h0M110.3 616.3h0M160.6 623.8h0M156.2 607.5h0M113.8 627.9h0M109.2 618.9h0M113.8 626.9h0M152.6 604.8h0M160.5 625.4h0M124.7 642.5h0M154.8 606.1h0M154.3 631.8h0M117.2 613.7h0M121.7 641.2h0M144.4 638.2h0M118 641.2h0M122.6 612.8h0M139.4 640.6h0" stroke="#E9585E" stroke-width="1.0" stroke-linecap="round" fill="none"/><path d="M149.5 608.6L151 607.3L152.3 604.9L153.7 604.9L155.3 603.6L157.7 603.8L158 603.9L159.5 603.2L160.1 604L161.9 604.6L163.6 604.5L165 605.1L166.7 604.7L167.7 605.9L168.8 607.3L170.6 608L171.3 608.6L172.2 610L172.1 611.8L171.7 612.8L171.9 614.7L172.6 616.6L170.7 617.9L170.5 618.9L169.8 620.2L168.4 619.9L167.8 620.8L166.4 620.5L165.8 620.3L165 617.7L164.1 616.4L163.2 614.9L162.5 613.5L161.5 613.3L160.1 612.8L158.5 613.2L157 611.8L156.1 612.6L153.6 612L153 612.5L151.6 611.5L150.4 609.7L151.1 610.4Z" fill="#3CBE3C"/><path d="M163.4 614.6h0M171.9 611.7h0M171 617.8h0M155 604.2h0M172 611.4h0M172 611.5h0M170.7 608.2h0M150.8 609.7h0M172.1 613.9h0M151.2 610h0M150.3 607.5h0M161.1 604.1h0M171.8 612.5h0M164.9 604.7h0M153.7 605.3h0M171.9 611h0M159.8 603.8h0M171.3 610.6h0M169.6 619.4h0M172.7 613.3h0M154.1 604.4h0M154.6 604.8h0M163.7 604h0M170.9 618.9h0M170.8 608.1h0M158.6 603.6h0M165.9 605.6h0M152.4 611.6h0M172.1 613.8h0M165.9 605.6h0M168.9 619.3h0M168.3 606.6h0M153.4 605.3h0M151.3 610h0" stroke="#3CBE3C" stroke-width="1.0" stroke-linecap="round" fill="none"/><path d="M99.8 613L99.5 611.4L101.3 611.4L100.7 609.7L102.7 609.6L103.8 609.1L105 610.8L105.7 610.7L107.6 612.2L107.9 612.7L109.5 613L110.4 613.5L109.5 615.6L109 616.4L108.4 616.6L107.3 618.9L106.9 620L107.1 621.4L106 621.8L103.9 623.6L103.3 623.3L102.5 623.3L100.9 623.3L99.8 621.4L99.6 620.5L98.8 619.7L98.7 619.8L97.8 618L96.7 616.8L98 616.1L98.2 615.9L97.9 613.9Z" fill="#5E8CF6"/><path d="M109.4 616h0M103 609.2h0M101.8 610.4h0M109.6 615.5h0M109.7 614.3h0M103.5 609.3h0M98.6 620h0M97.7 617.5h0M98.8 621.3h0M109.7 614.6h0M109 616.9h0M99.9 612.2h0M107.3 612.2h0M107.8 612.4h0M98.3 615.4h0" stroke="#5E8CF6" stroke-width="1.0" stroke-linecap="round" fill="none"/><path d="M128.5 571.8h0M127.6 570.4h0M126.1 572.4h0M130.5 569.4h0M128.5 571.6h0M135.4 568.7h0M126.5 571.7h0M135.7 567.3h0M125.9 572.4h0M134.5 568.4h0M136 569.6h0M129.4 569.3h0M137.3 568.5h0M134 569.1h0" stroke="#E9585E" stroke-width="1.1" stroke-linecap="round" fill="none"/><path d="M104.1 608.7h0M103.9 609.3h0M104.7 609.7h0M105 609.5h0M104.1 607.4h0" stroke="#5E8CF6" stroke-width="1.1" stroke-linecap="round" fill="none"/><path d="M139.5 558.3h0M150 529.2h0M156.1 535.3h0M152.7 528.3h0M152.6 532.2h0M138.4 557.5h0M141 549.8h0M137.7 552.1h0M137.5 563.3h0M142.6 537.6h0M139.3 555.7h0M152.3 526.7h0M151.1 535.7h0M138 557.9h0M147.1 531.7h0M140.6 534h0M142.8 542h0M139.5 548.7h0M147.2 521.6h0M149.4 528.9h0M143.9 533.6h0M142.4 517.6h0M142.9 539.4h0M136.8 558.5h0M161.3 529.2h0" stroke="#fff" stroke-width="0.9" stroke-linecap="round" fill="none" stroke-opacity="0.7"/><path d="M142.8 526.9h0M142.6 521.1h0M142.9 519.9h0M143.8 518h0M143.6 522.9h0M144.5 521.1h0M144.2 524.9h0M144 524.4h0M143.5 523.6h0M142.2 519.6h0M142.2 523.2h0M145.3 521.1h0M142.9 521.6h0M143.7 520.1h0M143.5 521.8h0M144 526.7h0M145.9 521.3h0M144.3 525.3h0M146.2 523.4h0M145.1 526.2h0M144 525.9h0M143.7 518.5h0" stroke="#fff" stroke-width="1.0" stroke-linecap="round" fill="none" stroke-opacity="0.8"/><path d="M141.8 556.2h0M138.8 558.9h0M137.7 562.6h0M137 561.4h0M137.9 564.5h0M138.4 560.2h0M135.7 561.3h0M136.2 562.5h0M142.2 558h0M143.6 562.7h0M143.2 561.1h0M136.1 564.9h0M139.9 560.7h0M138.1 565.9h0M140.1 556.1h0M135.6 561.7h0M135.7 559.2h0M143.8 557h0M141.3 564.8h0M137.6 561.4h0" stroke="#fff" stroke-width="1.0" stroke-linecap="round" fill="none" stroke-opacity="0.8"/><path d="M148.2 608.7h0M150.9 610.5h0M144.4 616.2h0M151.9 626.2h0M146.7 634.5h0M151.6 630.8h0M129.3 616.8h0M132.3 636.9h0M135.1 630.3h0M144.5 625.6h0M149.9 615.8h0M145.4 632.6h0M148.7 631.7h0M120.7 618.9h0M116.1 628.1h0M116.4 627.3h0M138 617.5h0M147.5 613.7h0M132.7 619h0M147.7 630.9h0M131.7 616.6h0M142.1 633.4h0M124 632.7h0M142 610.2h0M145.8 634.8h0M155.1 627.1h0M119.1 636.7h0M126.7 630.4h0M121.2 629h0M156.9 625.7h0M152.2 616.3h0M142.1 612.7h0M129.4 619.7h0M146.2 634.9h0M116 628.7h0M141.8 625.5h0M139.4 612.2h0M132.1 620.3h0M132.7 613.5h0M144.9 626h0" stroke="#fff" stroke-width="0.9" stroke-linecap="round" fill="none" stroke-opacity="0.7"/><text x="147.2" y="538.5" font-size="7" text-anchor="middle" fill="#222">1</text><text x="114.3" y="578.6" font-size="7" text-anchor="middle" fill="#222">3</text><text x="132.7" y="629.0" font-size="7" text-anchor="middle" fill="#222">0</text><text x="161.6" y="612.0" font-size="7" text-anchor="middle" fill="#222">2</text><text x="102.5" y="619.2" font-size="7" text-anchor="middle" fill="#222">4</text><text x="36" y="615.2" font-size="7" text-anchor="middle" fill="#222">5</text><rect x="87.2" y="596.4" width="90.8" height="58.4" fill="none" stroke="#E25556" stroke-width="1.5" stroke-dasharray="4 1.85"/><rect x="22.5" y="501.9" width="161.6" height="161.4" fill="none" stroke="#111" stroke-width="1.5"/><text x="97.8" y="497.2" font-size="10.3" text-anchor="middle" fill="#1a1a1a">integrated analysis</text><circle cx="198.1" cy="543.2" r="3.1" fill="#E9585E"/><text transform="translate(209.6 546.6) scale(0.92 1.12)" font-size="9.4" fill="#222">0</text><circle cx="198.1" cy="555.2" r="3.1" fill="#A8992A"/><text transform="translate(209.6 558.6) scale(0.92 1.12)" font-size="9.4" fill="#222">1</text><circle cx="198.1" cy="567.3" r="3.1" fill="#3CBE3C"/><text transform="translate(209.6 570.7) scale(0.92 1.12)" font-size="9.4" fill="#222">2</text><circle cx="198.1" cy="579.4" r="3.1" fill="#4EBFB9"/><text transform="translate(209.6 582.8) scale(0.92 1.12)" font-size="9.4" fill="#222">3</text><circle cx="198.1" cy="591.4" r="3.1" fill="#5E8CF6"/><text transform="translate(209.6 594.8) scale(0.92 1.12)" font-size="9.4" fill="#222">4</text><circle cx="198.1" cy="603.5" r="3.1" fill="#EE48EE"/><text transform="translate(209.6 606.9) scale(0.92 1.12)" font-size="9.4" fill="#222">5</text><rect x="277.1" y="551.9" width="13.4" height="76.2" fill="#E9585E"/><rect x="277.1" y="532.0" width="13.4" height="19.9" fill="#3CBE3C"/><rect x="277.1" y="524.3" width="13.4" height="7.7" fill="#4EBFB9"/><rect x="277.1" y="510.3" width="13.4" height="14.0" fill="#5E8CF6"/><rect x="277.1" y="509.7" width="13.4" height="0.6" fill="#EE48EE"/><rect x="299.2" y="536.6" width="13.4" height="91.5" fill="#E9585E"/><rect x="299.2" y="529.1" width="13.4" height="7.5" fill="#3CBE3C"/><rect x="299.2" y="510.9" width="13.4" height="18.2" fill="#4EBFB9"/><rect x="299.2" y="510.2" width="13.4" height="0.7" fill="#EE48EE"/><rect x="320.7" y="613.1" width="13.4" height="15.0" fill="#E9585E"/><rect x="320.7" y="510.2" width="13.4" height="102.9" fill="#A8992A"/><rect x="320.7" y="509.7" width="13.4" height="0.5" fill="#5E8CF6"/><line x1="273.7" y1="509.4" x2="273.7" y2="628.7" stroke="#555" stroke-width="1"/><line x1="270.2" y1="628.1" x2="338.6" y2="628.1" stroke="#555" stroke-width="1"/><line x1="270.6" y1="628.1" x2="273.7" y2="628.1" stroke="#555" stroke-width="1"/><text x="264.4" y="631.7" font-size="10.2" text-anchor="end" fill="#333">0%</text><line x1="270.6" y1="604.4" x2="273.7" y2="604.4" stroke="#555" stroke-width="1"/><text x="264.4" y="608.0" font-size="10.2" text-anchor="end" fill="#333">20%</text><line x1="270.6" y1="580.7" x2="273.7" y2="580.7" stroke="#555" stroke-width="1"/><text x="264.4" y="584.3" font-size="10.2" text-anchor="end" fill="#333">40%</text><line x1="270.6" y1="557.1" x2="273.7" y2="557.1" stroke="#555" stroke-width="1"/><text x="264.4" y="560.7" font-size="10.2" text-anchor="end" fill="#333">60%</text><line x1="270.6" y1="533.4" x2="273.7" y2="533.4" stroke="#555" stroke-width="1"/><text x="264.4" y="537.0" font-size="10.2" text-anchor="end" fill="#333">80%</text><line x1="270.6" y1="509.7" x2="273.7" y2="509.7" stroke="#555" stroke-width="1"/><text x="264.4" y="513.3" font-size="10.2" text-anchor="end" fill="#333">100%</text><text transform="translate(285.8 642.0) rotate(-45)" font-size="11.1" text-anchor="end" fill="#222">pTM</text><text transform="translate(307.9 642.0) rotate(-45)" font-size="11.1" text-anchor="end" fill="#222">iPSC-TM CM</text><text transform="translate(329.4 642.0) rotate(-45)" font-size="11.1" text-anchor="end" fill="#222">iPSC-TM RC</text><path d="M384.3 513.7L384.7 513.4L385.1 512.9L386.1 511.6L386.7 512L387 511.5L388.1 511.8L390.3 512L390.3 511.8L390.6 513.3L391.4 514.6L391.4 515.3L391.8 515.7L392.3 517.1L391.8 518.7L392 518.7L391.3 520.2L391.4 520.6L390 520.5L388.8 520.6L387.4 521.4L386.9 520.6L386.4 520.8L385.2 520.2L385.2 519L384.8 518.6L384.6 516.9L384.3 514.6Z" fill="#B4B4B4"/><path d="M390.5 513.1h0M391 514.7h0M386.2 520.2h0M388.6 511.6h0M386.8 520.6h0M391.7 516.4h0M384.3 514.9h0M390.5 513.1h0M386.7 511.3h0M391.4 518.8h0M387.7 511.4h0M386.6 511.8h0M390.7 520.3h0M384.9 519.8h0M388.4 511.6h0M387 520.9h0M387.4 521.1h0M387.2 520.8h0M386.3 520.3h0M389.7 520.8h0M389 520.9h0M390.2 512.8h0" stroke="#B4B4B4" stroke-width="1.0" stroke-linecap="round" fill="none"/><path d="M428.8 505.7L430.2 505L430.6 503.5L431.8 504.1L433.2 504.3L435 505.3L436.3 504.2L436.6 504.8L438.5 505.3L439.2 504.8L439.8 504.7L440.7 505.7L442.2 506.1L442.4 506.8L443.8 508.3L444.2 508.7L446 510L446.5 511.4L445.7 513.8L446 514.6L445.7 515.9L444.9 516.7L443.8 517.9L442.1 519L442 519.5L441.1 519.2L439.5 518.7L437.6 518.4L436.5 517.5L437 516.9L435.3 516L433.8 515.3L433.6 514.5L431.9 514.3L431.2 513.2L430.3 512.3L429.4 511.1L429.8 510.4L428.9 508.4L429 508L427.8 506.7Z" fill="#B4B4B4"/><path d="M444.5 507.9h0M430.4 512.6h0M436.4 504.3h0M436.6 517.1h0M443.7 506.9h0M436.6 517.5h0M438.4 518.6h0M429.9 510.5h0M431.1 504.8h0M445.6 511.4h0M445 516.8h0M446.5 513.4h0M440.8 519.4h0M443.2 518.5h0M430.6 512.3h0M432.5 513.9h0M439.1 505.3h0M428.5 505.1h0M435.5 516.8h0M433.7 515h0M445.7 515.7h0M441.6 506.6h0M439.7 518.9h0M433.6 504.5h0M445.3 511.2h0" stroke="#B4B4B4" stroke-width="1.0" stroke-linecap="round" fill="none"/><path d="M389.4 516.6L390.3 516.2L389.2 516.3L391.4 515.3L392.2 515.3L391.4 515.7L392.6 514.7L393.1 515.7L394.1 515.5L395.6 514.8L397.6 515.7L399 515.6L400.7 516.1L401.6 514.8L402.9 515.1L403.9 514L405.8 514.1L405.9 513.2L407.3 514L408.1 512.9L409 513.3L410.3 512.9L411.5 513.4L412.9 512.4L412.9 514.2L413.1 515.2L413.7 515.8L414.1 517.1L413.5 518.4L413.2 519.5L413.3 520.1L412.8 520.5L413.4 522L413.9 523.4L414.5 523.8L414.2 524.4L413.8 525.5L413.4 527.2L413.4 526.9L412.5 528.3L412.9 529.9L413 532.3L413.6 532.5L414.5 534.3L413.1 533.6L411.3 534L410.6 534.2L409.8 535L408.9 535.3L407.5 535.5L406.7 536.5L405.1 536.6L403.9 537.4L403.1 537L401.7 537.2L400.9 536.2L399 536.5L397.8 536.1L396.7 535.7L396.4 534.8L395.9 533.4L394.4 533.1L395.3 532.2L395.5 531.8L394.8 531.9L396.1 530.6L397.3 529.9L397.7 529.4L399 529.2L398.6 528.4L398 526.7L398.7 526.8L398.4 525.7L398.3 524.5L397.3 522.8L397.3 522.4L397.7 521.7L395.6 521L395.5 520.2L395.2 520.1L393.1 520.1L392.2 519.9L391.8 519.6L390.2 519.6L389.8 518.7L389 518.5L389.2 516.4Z" fill="#5B9BCB"/><path d="M390.1 515.8h0M403.4 537h0M411.5 513.2h0M414.2 518h0M401.1 536.9h0M402.7 513.8h0M396.8 514.8h0M405.6 537.5h0M414.6 517.2h0M396.5 515.2h0M401.3 537.9h0M390.2 514.8h0M405.8 537.3h0M406.1 536.9h0M405.2 537.9h0M393.5 514.9h0M408.3 536h0M414.3 533.7h0M403.2 514.3h0M389.6 518.5h0M414.9 515.8h0M395.1 532.3h0M414.3 523.9h0M407.1 536.7h0M403.2 537.5h0M412.1 513h0M413.7 521.5h0M413.5 522.3h0M391.2 514.3h0M400.3 514.8h0M397.8 524.9h0M401.9 514.5h0M413.8 519.7h0M406.7 513.5h0M390.8 515.4h0M411.3 512.4h0M413.8 531.8h0M400.4 514.5h0M403.5 538h0M391 514.4h0M403.6 538h0M413.7 520.9h0M413.5 520.9h0M392.9 515h0M390.6 514.4h0M403.1 537.5h0M407.2 536.3h0M398.1 514.9h0M401.4 514.4h0M405.9 513.6h0M409.3 513.1h0M415.2 524.6h0M408 513.1h0M411.6 512.9h0M414.1 531.3h0M388.7 516.3h0M413 529.6h0M399.3 515h0M396.8 535.1h0M414.1 523.3h0" stroke="#5B9BCB" stroke-width="1.0" stroke-linecap="round" fill="none"/><path d="M412.5 513.7L412.9 512.4L412.4 511.2L413.3 509.9L413.5 508.8L413 507.9L413.2 507.3L413.9 506L413.8 506.1L415.2 506.9L415.9 507.8L417 508.1L418 508.5L419.2 508.1L420.9 508.7L423.3 508.3L425 508L425.2 506.5L426.7 506.6L427.3 507.3L428.5 505.7L429.3 506.8L431.3 507.2L432 509.4L432.6 509.7L433.5 511.5L434.2 512.3L435.1 514.5L434.1 515.2L435 518.4L434.6 518L434.8 519.3L435.3 520.5L434.7 521.3L434.5 523.1L433.7 523.5L433.4 524.5L433.7 525.9L431.9 526.1L431.9 526.7L431.4 527L430.4 528L429.2 527.5L428.5 529.3L427.4 529L426.6 529.4L425.3 529.6L424 531.4L423.2 531.7L421.1 531.3L419.5 532.5L418.4 533.1L417.5 532.8L415.6 533.7L414.8 533.5L414.2 532.6L413.6 532.3L412.6 530.7L413.1 529.5L412.5 528.2L413.1 527L413 525.2L413 524.5L413.8 523.6L413.4 522.5L413.6 521L414.3 520.8L413 519.6L413.8 518.8L413.6 516.8L412.6 514.9Z" fill="#E4694B"/><path d="M413 531.1h0M418.6 507.3h0M429.3 529.2h0M428 529.8h0M433.9 513.5h0M435.5 514.8h0M412.7 508.8h0M424.2 507.6h0M412.7 507.7h0M421.6 531.9h0M412.6 522.6h0M435.9 516.7h0M419.9 507.3h0M412.9 506.7h0M430.5 527.9h0M420.7 507.5h0M424.3 507.4h0M431.2 508.4h0M430.7 528.5h0M413.6 534h0M412.6 510h0M417.3 533.4h0M413.8 533.6h0M423.2 531.5h0M435 521.6h0M419.7 532.5h0M422.8 507.7h0M415.7 507.2h0M412.3 527.3h0M416.8 533.8h0M414.7 534.7h0M434.7 513.2h0M432.5 508.7h0M428 529.4h0M434.4 513.7h0M412.3 515.7h0M417.8 507.9h0" stroke="#E4694B" stroke-width="1.0" stroke-linecap="round" fill="none"/><path d="M406.1 537.8L407.9 537.4L410 536.1L411.6 536.5L412.9 536.1L413.8 535.7L413.5 538.4L414.2 539.5L413.6 541L413 541.2L412.6 542L411 543.4L410.2 543.5L410 543.4L408.6 543L407.8 542.5L408.2 542.3L406.9 541.1L406.7 539.7L406.5 538.9Z" fill="#E050F0"/><path d="M413.6 539.7h0M406.8 541.2h0M407.6 542.2h0M412.7 541.7h0M408.4 537.2h0M410.5 536.6h0M413.2 538.1h0M413.6 541.3h0M407.1 540.5h0M406.8 538h0M406.9 540.4h0" stroke="#E050F0" stroke-width="1.0" stroke-linecap="round" fill="none"/><path d="M428.3 526h0M430.6 522.9h0M421 514.1h0M413.3 514h0M418.6 516.7h0M415.2 514.9h0M430.4 521.4h0M417.3 528.1h0M419 521.3h0M419.6 521.6h0M429.1 523.3h0M426.9 507.5h0M426.8 520.4h0M416.9 508.5h0M420.6 525.1h0" stroke="#fff" stroke-width="0.8" stroke-linecap="round" fill="none" stroke-opacity="0.6"/><path d="M435.8 511.3h0M438 513.8h0M438.6 513.8h0M438.9 511.5h0M437.5 511.9h0M439.7 509.4h0M438.7 512.4h0M435.4 511.4h0M440.1 511.5h0M436.9 513.6h0M435.6 512.6h0M439.1 511.4h0M440.8 511.7h0M438.4 508.4h0M440.5 511.9h0M438.8 513h0" stroke="#fff" stroke-width="1.1" stroke-linecap="round" fill="none" stroke-opacity="0.85"/><path d="M443.5 517.5h0M437.9 513.9h0M437.7 506.2h0M440.4 515h0M433.6 507h0M443 518h0M442.9 517.2h0M445.7 513.7h0" stroke="#E4694B" stroke-width="0.9" stroke-linecap="round" fill="none"/><path d="M411.4 515.7h0M413.1 523.7h0M413.9 521.6h0M413.6 517.7h0M412.4 526.4h0M412.7 527.8h0M412.9 518.7h0M414.2 531.9h0M410.3 524.5h0M417.9 516h0M410.9 527.7h0M415.1 531.5h0M415.8 531.9h0M414.2 528.1h0M414.5 521.8h0M410.5 528.7h0M414.9 524.3h0M412.5 531.8h0M418.2 516.4h0M413.2 530.6h0" stroke="#5B9BCB" stroke-width="1.1" stroke-linecap="round" fill="none"/><path d="M414.4 529.2h0M413.9 519.8h0M413.9 516.7h0M414 523.7h0M416.4 529.4h0M413.1 530.5h0M413.1 524.2h0M414.9 529.6h0M411.7 529.8h0M409.4 516.4h0M413.5 526.3h0M416.2 518.8h0M412.9 521.8h0M411.1 533.6h0M412.9 513.5h0M413.7 514.7h0M410.4 513.5h0M414.7 526.2h0M413.5 519.1h0M409.7 520h0" stroke="#E4694B" stroke-width="1.1" stroke-linecap="round" fill="none"/><path d="M388 513.5h0M390.1 516.3h0M386.5 519.9h0M388.5 519.7h0M387.7 512.5h0" stroke="#E4694B" stroke-width="0.9" stroke-linecap="round" fill="none"/><path d="M469.2 518L469 516.3L468.9 514.9L471.2 513.4L470.4 512.9L471.3 512.5L472.8 511.2L473.6 510L474.4 510L475.2 510.6L475.9 511.3L477.6 511.9L478.4 512.6L479.2 513.2L479.4 513.6L478.1 514.4L479.6 515.3L478.1 516L478.2 517.3L478 518.9L477.4 519.8L476.5 520.1L476.5 520.8L475.7 522L475.6 523L475.4 523L474.9 521.9L473.5 523.3L473.6 522.3L472.6 521.1L471.4 520.5L470.6 520.4L469.8 520.1L469.6 519.3L469 519L468.9 518Z" fill="#B4B4B4"/><path d="M478.4 516.5h0M472.9 511.4h0M470.4 513.8h0M471.1 512.5h0M475.3 510.8h0M470.7 512.9h0M477.9 517.7h0M474.6 510h0M470.9 520.6h0M472 511.6h0M477.3 518.3h0M469.3 516.5h0M469.3 516.4h0M470.5 512.5h0M470.5 520.2h0M477.8 511.9h0M470.3 520.1h0M473.1 511h0M474.9 510.5h0M478.3 517h0M479.3 514.8h0M468.8 517.7h0M477.5 518.2h0M475.1 510.3h0M476.4 521.2h0M471.5 511.8h0M469.6 519h0M472.5 511.3h0M474.9 510.5h0M478.4 511.9h0M475.6 522.7h0M474.3 522.8h0M470 520.2h0M478.5 512.5h0M470.4 520.5h0M475 522.4h0M475.9 522.6h0M478.8 513.4h0M475 522.7h0M469 517.2h0M471.1 512.6h0" stroke="#B4B4B4" stroke-width="1.0" stroke-linecap="round" fill="none"/><path d="M516.1 505.4L517.5 504.7L518.4 504.5L520.4 503.8L520.7 504.1L522.3 504.5L523.4 505.5L525.1 504.8L525.6 505.5L526.4 504.8L528.4 504.8L527.8 505.8L528.8 506.5L530.2 506.1L531.6 507.7L532.7 509.2L533.3 511.3L533.4 511.4L533 514.4L533.8 514.2L532.9 516.4L532.3 516.8L531.1 517.9L529.8 518.6L529.1 519L527.5 518.6L526.4 519.4L526 518.8L524.4 517.9L523.8 517.1L523 515.7L522.1 516.1L520.7 514.7L519.5 513.8L518.4 512.8L518.1 513L517.1 511L516.9 509.9L517.1 508.8L516.5 508.4L515.2 507.1Z" fill="#B4B4B4"/><path d="M523.1 504.5h0M529.2 518.8h0M533.3 514.4h0M532.8 509.9h0M532.4 516.8h0M517.8 505h0M521.3 505h0M520.9 514.9h0M521.7 515.2h0M526.1 504.5h0M532.7 510.9h0M531.8 507.6h0M517 509.6h0M532.4 517.4h0M520.8 515h0M519.1 513.4h0M529 519.2h0M521.8 515.9h0M523.8 517.2h0M532.9 516.1h0M531 506.9h0M530.7 507.1h0M534.1 513.5h0M520 514.4h0M518.1 505h0M532.2 509.9h0M515.2 505.4h0M532.1 508.7h0M527.6 505.2h0M520.4 504.5h0M516.7 507.6h0" stroke="#B4B4B4" stroke-width="1.0" stroke-linecap="round" fill="none"/><path d="M478.5 515.7L478.7 515.2L478.9 514.9L479.6 515.6L480.2 515.7L480.2 515.8L480.8 516L481.4 516.9L482.6 515.8L483 516.4L483.9 516.8L485.4 515.5L486 516.2L487.2 515.8L488.3 515L488.9 515.2L490.5 514.9L490.2 514.9L491.2 515.4L491.7 515.3L493 516L493.8 515L494.8 513.3L495.3 513.6L496.8 514.1L497.6 514.9L497.4 514.9L497.1 516.3L497.1 518L498.1 518.1L498.4 520.1L499.8 520L500.3 521.1L500.7 523.3L501.7 522.8L501.3 523.4L501.7 524.6L502.4 525.4L503.2 526.5L503.4 527.7L502.1 528.6L502.9 530.3L503.1 531.9L502.7 533L502.8 534.7L501.9 536L501.3 536.7L500.7 537.6L498.9 537.7L498.7 538.8L497.1 538.2L496.8 539.4L496.6 539.5L495.3 538.7L494.5 539L493.2 538.7L491.9 538.3L491.8 538.3L490.9 538.8L490.1 539.7L489 540.1L489.1 539.6L487.8 540.7L486.7 540.3L486.1 540.2L485.7 539.7L486 539.2L484.5 537.8L483.6 537.1L483 536.2L482 535.6L482.4 534.3L482.8 533.4L483.2 532.1L483.7 532.8L484.3 532.9L485.4 532L484.8 530.6L486.1 529.9L485.9 528.8L485.5 527.7L486 526.6L485.9 525.8L485.2 524.9L485.6 524.9L485 524.3L484 524.8L484.3 523.1L484.3 523.1L483.7 522.7L483 522.5L483.2 521.6L482.8 520.3L482.9 519.7L482.2 519.3L481.4 518.7L482.5 518.9L480.8 517.6L480.3 518.8L479.7 518L478.9 517.4L478.7 516.9L479.2 516.4L477.7 516Z" fill="#5B9BCB"/><path d="M487.9 514.6h0M503.1 528.3h0M497.6 515.9h0M501.5 538h0M502.9 530.3h0M503.3 524.6h0M482.7 536.8h0M483.1 537.8h0M488.4 541.1h0M487.5 540.9h0M485.6 539.6h0M500.9 521.6h0M503.1 527.2h0M503 528.6h0M491.2 540.7h0M495 514.1h0M502.8 534.6h0M485.7 527.4h0M488 540.8h0M497.8 539h0M498.3 517.5h0M501.7 536.3h0M479.6 514.9h0M488.2 541.7h0M501 538.1h0M498.6 517.3h0M478.5 516.8h0M499 518.9h0M500.6 538.1h0M488.6 541.1h0M501.8 536.6h0M496.7 540.4h0M494.1 539h0M481.2 515.9h0M500.3 537.3h0M496.7 540h0M497.2 514.8h0M498.2 517.6h0M489 514.5h0M485.2 530.1h0M482.7 534.9h0M503.6 534.7h0M502 523h0M502.5 534.2h0M486.4 515.1h0M497.7 515h0M502.8 523.6h0M500.3 520.1h0M483.7 516h0M482.8 536.6h0M500.1 537.6h0M498.3 539.3h0M490.3 514.5h0M503.1 529.4h0M501.6 523.5h0M503.8 530.5h0M503.6 532.1h0M499.1 519.1h0M503.8 525.6h0M498.5 518h0M488.4 541.6h0M503 536.4h0M503 535.8h0M482.7 520.2h0M477.7 515.2h0M500 539.2h0M485.8 515.8h0M495.9 539.7h0M483.1 536.6h0M503.1 524.1h0M486.9 540.3h0M494.9 514.1h0M495.3 513.9h0M489.5 514.8h0M489.9 540.2h0M483.2 523.1h0M497.3 513.3h0M498.1 517.5h0M484.9 515.5h0M483.5 536.8h0M501.9 536.5h0M478.2 515.9h0M486.2 514.7h0M503.2 524.8h0M502 537.2h0M494.4 539.8h0M503.7 532.5h0M497.4 514.1h0M494.3 514.6h0M491 540.8h0M498.4 539.4h0M499.2 520.1h0M503.2 536.2h0M500.9 537.2h0M483.2 515.8h0M503.5 533.4h0M502.8 531.5h0" stroke="#5B9BCB" stroke-width="1.0" stroke-linecap="round" fill="none"/><path d="M494 542.2L494.8 541.5L496.6 542.1L497 540.8L497.6 541.2L499.2 540.1L499.5 540.1L500 540.6L500.7 540.1L502.4 541.1L502.6 541.8L501.6 543.3L501.8 543.9L501.5 545.2L500.8 545.7L499.2 545.6L498.1 546.4L496.4 546.3L496.8 546.6L495.8 545.3L495.1 544.4L495.6 545.6L494.4 544.9L493.9 544.4L493.9 543.6L493.8 543.2L494 543.1L494 542.3Z" fill="#E050F0"/><path d="M495 545.4h0M501.4 542.2h0M501.1 541.6h0M495.3 541.6h0M494.7 545.1h0M501.8 544.2h0M497.4 546.2h0M501.5 543.1h0M495.6 545.9h0M496.6 546h0M498.9 540.6h0M493.9 543.7h0M501.1 541.3h0M497.3 540.8h0M500.8 540.2h0M494.1 544h0M495.9 546.1h0M501 541.4h0M493.8 543.4h0M497 546.2h0M500.3 540.2h0M494.5 544.7h0M498.2 546.1h0" stroke="#E050F0" stroke-width="1.0" stroke-linecap="round" fill="none"/><path d="M525.6 511h0M526.2 513.3h0M529.7 511.5h0M526.7 514.3h0M522.6 509.4h0M526.4 510.3h0M523.7 510.5h0M522.9 511.1h0M525.1 512.9h0M523.7 511.4h0M525.8 512.4h0M527.5 512.9h0M527.9 512.2h0M527.1 512.6h0M524.5 511.1h0M523.2 509.1h0" stroke="#fff" stroke-width="1.1" stroke-linecap="round" fill="none" stroke-opacity="0.85"/><path d="M491 536.6h0M490.4 531h0M488.1 532.5h0M498.3 534.6h0M500.8 526.5h0M494.1 535h0M484.6 533.8h0M500.9 528.9h0M489.9 526.4h0M498.6 525.9h0M484.8 535.5h0M484 534.7h0M499.2 526.1h0M498.1 538.2h0M502.4 525.9h0M501 525h0M496.1 525.7h0M501.7 532.2h0" stroke="#fff" stroke-width="0.8" stroke-linecap="round" fill="none" stroke-opacity="0.6"/><path d="M481.9 518.6h0M501.2 534.3h0M484.9 518.1h0M502.5 530h0M492.9 516.7h0M485.2 516.5h0M496 527.6h0M491.8 537.3h0" stroke="#E4694B" stroke-width="0.9" stroke-linecap="round" fill="none"/><path d="M474.3 508h0M476 506.7h0M475.3 507.7h0M475.2 506.5h0M473 507.3h0M475.1 508.3h0" stroke="#B4B4B4" stroke-width="1.0" stroke-linecap="round" fill="none"/><path d="M517 519.7h0M519.8 513h0M504.9 518.4h0M501.5 511.8h0M524.7 524.6h0M506 512.6h0M516.2 517h0M509.6 519.2h0M524.6 518.4h0M504.5 511.4h0M511.2 517.5h0M517.3 522.4h0M511.4 526h0M505.6 523.1h0M516.6 507.5h0M520.3 520.1h0M525.9 517.4h0M505.7 509.2h0M525.7 514.9h0M511.9 514.5h0M500.3 524.1h0M503.1 516.1h0M521.5 517.9h0M524.1 517.2h0M519.1 514.4h0M517.3 521.2h0M520.1 508h0M507.1 522.7h0M515 512.4h0M510.2 514.3h0" stroke="#E4694B" stroke-width="1.1" stroke-linecap="round" fill="none" stroke-opacity="0.8"/><path d="M537 514h0M540 516h0M541 520h0M538 519h0" stroke="#B4B4B4" stroke-width="1.1" stroke-linecap="round" fill="none"/><path d="M564.9 523.5h0M558.3 521.1h0M561.9 516.6h0M566.1 533.8h0M565.6 517.9h0M559.8 518.4h0M565 525h0M559 523.3h0M558.2 521.5h0M559.2 520.3h0M565 519.2h0M560 524.5h0M559.5 529.3h0M557.5 522.3h0M557 518h0M561.6 524.7h0M558.9 517.6h0M563.3 522.8h0M565.8 518.6h0M555.3 526.6h0M557.3 528.1h0M557.5 517.1h0M563.3 522.2h0M559.9 524.5h0M558.5 524.5h0M566 520.9h0M565.2 535.5h0M557.2 519.8h0M561.8 519h0M560.8 521.3h0M562.9 518.8h0M560.4 519.3h0M560.7 520.9h0M560.4 529.1h0M559 522.9h0M563.4 518.7h0M558.7 523.9h0M566.3 528.8h0M565.2 520.6h0M559.7 517.5h0M565.8 527.5h0M565.4 531h0M562.6 531.7h0M562.8 516.7h0M559.1 527.9h0M561.4 518.9h0M560.8 518.1h0M561.1 531.9h0M565.5 534h0M565.4 535.4h0M561.4 528.6h0M557.2 523.8h0M561.1 515.5h0M563.1 528.8h0M565.2 535.2h0M561.2 515.5h0M559.8 521.5h0M564.3 532.9h0M560.5 527.5h0M562 518.4h0M564.8 520.8h0M561.6 520.5h0M561.8 526.9h0M557.3 520.2h0M560.1 517.9h0M560.2 517.9h0M559.6 517.5h0M563.4 522.9h0M561 517.2h0M563.9 517.5h0M563.3 525.6h0M561.2 522.3h0M563.8 524.6h0M559.5 522.4h0M563 522.5h0M565.4 524.6h0M559.7 521.3h0M560.7 529.9h0M562 526.8h0M565.9 524.4h0M565 527.4h0M564.7 528.1h0M556.8 524.1h0M557.9 520.1h0M560.6 519.3h0M566.3 523h0M566.2 530.1h0M565.8 521h0M566.4 527h0M565.3 525.2h0" stroke="#5B9BCB" stroke-width="1.2" stroke-linecap="round" fill="none"/><path d="M567 506.4L568.4 506.3L569.8 507.7L570.8 507.7L571.5 508.3L573.2 509L574.5 508.9L574.7 510.1L575.6 509.3L576.6 509.1L578 508.5L578.7 508.5L579.4 508.6L580.6 507.8L582 507L583.7 507.1L584.8 507L586.4 507.1L586.3 508.4L587.5 509.5L587.6 510.2L588.3 511.5L588.6 512.4L589 513.5L589.7 514L589.2 515.8L589.2 516.7L588.8 517.8L589.1 518.2L589.5 519.8L588.4 521L588.4 522L588 523.4L588 524.6L587.7 525.7L587.6 526.2L587.1 526.5L586.1 528.5L584.7 529.1L584.8 530.1L584.7 531L582.8 531.7L582 532.2L581 532.7L580.2 533.3L579.7 533.7L578 534.4L577.2 534.4L575.8 535.8L574.3 535.1L573.8 536.5L572.9 535.8L572.1 536.5L571.4 536.5L569.7 536.6L568.4 535.8L566.1 534.9L566.5 533.8L566.3 532.2L566.6 531.5L565.8 530.5L564.9 529.3L565.3 529.5L565.6 527.5L565.6 526.9L565.8 525.2L564.6 524.6L565.4 523.4L565.2 522.7L564.8 521.1L564.7 520.1L565.8 518.9L565.4 518L565.9 516.3L565.4 516.1L566.1 513.6L566.3 513.7L566.9 511.7L567.3 510.5L566.7 508.6L566.3 506.5Z" fill="#E4694B"/><path d="M587.2 525.7h0M570.9 507.2h0M587.7 509.6h0M565.6 518.2h0M585.6 528.9h0M566.2 532.6h0M581.7 533.5h0M577.5 508.4h0M581.7 532.3h0M567.1 533.8h0M581.3 506.6h0M566.7 507.5h0M565.7 517.3h0M565 529.6h0M567.1 534.4h0M568.3 536.8h0M581.6 533.5h0M589.1 513.7h0M565.5 520.8h0M565.6 517.1h0M565.3 522.9h0M588.8 513.4h0M573.5 536.5h0M582.9 507h0M569.7 536.1h0M565.4 516h0M588.6 512.3h0M577.7 534.3h0M588.2 509.6h0" stroke="#E4694B" stroke-width="1.0" stroke-linecap="round" fill="none"/><path d="M577.6 520.5h0M579.7 510.6h0M583.8 510h0M575.9 517h0M571.7 533.5h0M581.8 519.3h0M579.8 509.8h0M571.9 526.2h0M586.7 515.3h0M570 531.4h0M578.7 531.4h0M574.8 523.6h0M586.6 513.5h0M566.8 527.2h0M586.4 516.5h0M571 509.2h0M580.9 513.5h0M584.8 527.4h0M577.5 512.2h0M574.3 533.3h0M569.8 507.6h0M572.6 519.8h0M582.2 523.4h0M571.7 519.4h0M586 521.5h0M567.6 508.9h0M578.9 514.3h0M577.4 511.6h0M584.2 523.6h0M570.4 514.8h0" stroke="#fff" stroke-width="0.8" stroke-linecap="round" fill="none" stroke-opacity="0.6"/><path d="M586.8 508.3h0M587.4 509.7h0M586.8 508.7h0M587.6 511.1h0M587.6 508.6h0M586 509.2h0M584.6 509.9h0M585.8 511.5h0M587 510.7h0M586.8 510.3h0M586.5 507.9h0M585.6 511.1h0" stroke="#B4B4B4" stroke-width="1.1" stroke-linecap="round" fill="none"/><path d="M563 541.9h0M564.9 537.5h0M565.7 542.1h0M566.7 537.5h0M565.9 539.1h0M563.2 539.1h0M564.2 539.9h0M566.5 540.5h0M563.8 539.8h0M565.3 542.4h0M565.8 540.6h0M566.2 541.4h0M564.4 538.4h0M565.4 540.6h0M565.5 543.1h0M563.4 538.7h0" stroke="#E050F0" stroke-width="1.3" stroke-linecap="round" fill="none"/><path d="M542 513h0M548 517h0M553 531h0M589 516h0M592 520h0" stroke="#E4694B" stroke-width="1.1" stroke-linecap="round" fill="none"/><path d="M663.7 519.7h0M653.2 517.9h0M662.8 515h0M660.1 519.9h0M663.1 519.9h0M661.4 521.1h0M655.1 521.7h0M651.8 519.5h0M661.5 518.3h0M653.3 517.5h0M661.5 519.8h0M652.7 514.9h0M662.3 521.3h0M653.8 517.9h0M655 514.5h0M656.4 512.7h0M658 523.8h0M655.1 522.4h0M655.6 517.1h0M661.4 519.6h0M654.4 517.3h0M665 519.5h0M657.7 520.5h0M662.3 515.5h0M657.5 519.7h0M653 519.1h0M656.9 523.6h0M663.1 523h0M660.9 516h0M659.9 514.7h0M654.1 514h0M662.3 523.2h0M664.8 519.3h0M658.8 520h0M655.5 513.6h0M660 515.4h0M663.1 516.3h0M654.6 521.2h0M665 516.5h0M664.8 515.8h0M662.7 515.3h0M665.7 520h0M651.5 520.2h0M656.5 520.5h0M653.5 522.6h0M659.5 515.2h0M655.2 523.3h0M658.8 517.4h0M659.9 512.2h0M660.8 512.6h0M653.9 515.3h0M662.1 516.9h0M659.6 520.3h0M658.5 522h0M664.7 521.1h0M657 514.1h0M661.8 518.5h0M663.6 523.8h0M663.1 519.7h0M657.9 517.4h0M660.2 518.5h0M661 516.1h0M659 522.7h0M660.4 519.1h0M657.3 522.6h0M659.4 520h0M662.3 522.2h0M657.7 519.5h0M652.4 520.8h0M657.7 512.6h0M655.4 517.4h0M660.5 524.7h0M652.7 516.2h0M656 524.2h0M656 523.1h0M655.3 517.4h0M664.2 515.9h0M656.4 514.7h0M662.4 512.8h0M654.4 514.8h0M658.5 514.6h0M661.7 522.8h0M659.3 516.8h0M653.3 519.9h0M661.4 513.4h0M660.6 520.2h0M659.1 516.7h0M659.2 522.7h0M657.9 519.2h0M657.5 512.7h0M663.6 521.2h0M663.4 514.8h0M652.9 521.4h0M654.2 514.7h0M665.8 518.5h0M658.1 514h0M658.2 517h0M655.2 521.8h0M662.6 515.7h0M660.3 515.4h0M656.2 517.2h0M660.1 515.9h0M662 515.1h0M656.8 521.7h0M663.8 517.6h0M661.8 519.3h0M657.2 518h0M662.6 521.7h0M662 513.4h0M662.7 521h0M651.8 523h0M647.6 524.6h0M647.5 530.7h0M646.8 535.2h0M649.1 524.6h0M642.4 535.5h0M643.6 537.2h0M649 527.7h0M651.9 524.6h0M646.5 534.1h0M645.9 533.7h0M640.8 541.5h0M649.8 520.5h0M645.1 537.3h0M650.4 528.7h0M647.6 527.2h0M647.2 529.8h0M650.9 522.9h0M648.6 525.9h0M644 537h0M649.9 525.9h0M646.5 533.6h0M647.4 523.5h0M643.5 534.6h0M643.8 535.4h0M649.6 525.6h0M648.5 520.7h0M647.4 526.9h0M646.5 533.9h0M642.1 538.4h0M668.2 514.7h0M675.8 514.7h0M676 515.3h0M668.8 517.7h0M670.8 516.6h0M669 515.3h0M672.8 514.6h0M673.4 517.2h0M664.7 514.8h0M668.4 516.2h0M672.3 517.5h0M671.1 518.9h0M669 517h0M668.8 516.7h0M668.1 517h0M663.9 514.5h0M673.3 513.3h0M673.8 517.5h0M670.6 513.7h0M675.9 514.6h0M617 509h0M619 512h0M621 517h0M616.6 518h0M648 508h0M663 509h0" stroke="#E4694B" stroke-width="1.1" stroke-linecap="round" fill="none"/><path d="M644.5 530.9h0M639.4 519.5h0M637.9 519.7h0M641.9 526.7h0M643.8 530.3h0M639.1 522.8h0M635.9 518.2h0M641.2 522.8h0" stroke="#5B9BCB" stroke-width="1.0" stroke-linecap="round" fill="none" stroke-opacity="0.7"/><text x="413" y="492.2" font-size="9.3" text-anchor="middle" fill="#111">merge</text><text x="501.6" y="492.2" font-size="9.3" text-anchor="middle" fill="#111">pTM</text><text x="575.4" y="492.2" font-size="9.3" text-anchor="middle" fill="#111">iPSC-TM CM</text><text x="648.6" y="492.2" font-size="9.3" text-anchor="middle" fill="#111">iPSC-TM RC</text><line x1="390.6" y1="579.3" x2="390.6" y2="612.5" stroke="#333" stroke-width="0.9"/><line x1="390.20000000000005" y1="612.0" x2="467.6" y2="612.0" stroke="#333" stroke-width="0.9"/><line x1="388.8" y1="581.6" x2="390.6" y2="581.6" stroke="#333" stroke-width="0.7"/><text x="385.0" y="583.9" font-size="6.4" fill="#111" textLength="2.99" lengthAdjust="spacingAndGlyphs">3</text><line x1="388.8" y1="591.4" x2="390.6" y2="591.4" stroke="#333" stroke-width="0.7"/><text x="385.0" y="593.7" font-size="6.4" fill="#111" textLength="2.99" lengthAdjust="spacingAndGlyphs">2</text><line x1="388.8" y1="601.3" x2="390.6" y2="601.3" stroke="#333" stroke-width="0.7"/><text x="385.0" y="603.6" font-size="6.4" fill="#111" textLength="2.99" lengthAdjust="spacingAndGlyphs">1</text><line x1="388.8" y1="611.2" x2="390.6" y2="611.2" stroke="#333" stroke-width="0.7"/><text x="385.0" y="613.5" font-size="6.4" fill="#111" textLength="2.99" lengthAdjust="spacingAndGlyphs">0</text><text x="428.8" y="574.3" font-size="7.3" text-anchor="middle" font-weight="bold" fill="#111">ITGA2</text><path d="M411.1 581.8L410.8 586.4L410.2 590.0L409.8 592.4L410.4 595.0L410.5 597.0L409.8 599.8L408.2 603.5L405.1 606.0L400.9 608.5L396.2 610.4L395.6 611.2L427.2 611.2L426.6 610.4L421.9 608.5L417.7 606.0L414.6 603.5L413.0 599.8L412.3 597.0L412.4 595.0L413.0 592.4L412.6 590.0L412.0 586.4L411.7 581.8Z" fill="#5B9BCB" stroke="#333" stroke-width="0.5" stroke-linejoin="round"/><path d="M446.2 580.6L444.9 583.7L440.5 586.8L434.0 589.9L431.0 591.7L432.5 593.5L435.5 594.8L439.0 596.5L441.5 598.6L442.8 602.3L442.9 606.0L442.0 609.0L441.3 610.4L441.1 611.2L451.9 611.2L451.7 610.4L451.0 609.0L450.1 606.0L450.2 602.3L451.5 598.6L454.0 596.5L457.5 594.8L460.5 593.5L462.0 591.7L459.0 589.9L452.5 586.8L448.1 583.7L446.8 580.6Z" fill="#E4694B" stroke="#333" stroke-width="0.5" stroke-linejoin="round"/><line x1="411.4" y1="612" x2="411.4" y2="614" stroke="#333" stroke-width="0.7"/><line x1="446.5" y1="612" x2="446.5" y2="614" stroke="#333" stroke-width="0.7"/><line x1="492.1" y1="579.3" x2="492.1" y2="612.7" stroke="#333" stroke-width="0.9"/><line x1="491.70000000000005" y1="612.2" x2="568.6" y2="612.2" stroke="#333" stroke-width="0.9"/><line x1="490.3" y1="580.9" x2="492.1" y2="580.9" stroke="#333" stroke-width="0.7"/><text x="482.0" y="583.2" font-size="6.4" fill="#111" textLength="7.47" lengthAdjust="spacingAndGlyphs">2.5</text><line x1="490.3" y1="586.8" x2="492.1" y2="586.8" stroke="#333" stroke-width="0.7"/><text x="482.0" y="589.1" font-size="6.4" fill="#111" textLength="7.47" lengthAdjust="spacingAndGlyphs">2.0</text><line x1="490.3" y1="592.7" x2="492.1" y2="592.7" stroke="#333" stroke-width="0.7"/><text x="482.0" y="595.0" font-size="6.4" fill="#111" textLength="7.47" lengthAdjust="spacingAndGlyphs">1.5</text><line x1="490.3" y1="598.9" x2="492.1" y2="598.9" stroke="#333" stroke-width="0.7"/><text x="482.0" y="601.2" font-size="6.4" fill="#111" textLength="7.47" lengthAdjust="spacingAndGlyphs">1.0</text><line x1="490.3" y1="605.0" x2="492.1" y2="605.0" stroke="#333" stroke-width="0.7"/><text x="482.0" y="607.3" font-size="6.4" fill="#111" textLength="7.47" lengthAdjust="spacingAndGlyphs">0.5</text><line x1="490.3" y1="610.7" x2="492.1" y2="610.7" stroke="#333" stroke-width="0.7"/><text x="482.0" y="613.0" font-size="6.4" fill="#111" textLength="7.47" lengthAdjust="spacingAndGlyphs">0.0</text><text x="530.3" y="574.3" font-size="7.3" text-anchor="middle" font-weight="bold" fill="#111">ITGA3</text><line x1="512.9" y1="580.3" x2="512.9" y2="587" stroke="#555" stroke-width="0.8"/><path d="M512.6 586.5L512.1 588.5L510.7 592.1L508.9 597.3L504.7 601.3L500.9 604.0L498.1 605.8L498.9 607.6L502.4 608.8L503.0 609.6L503.0 610.6L522.8 610.6L522.8 609.6L523.4 608.8L526.9 607.6L527.7 605.8L524.9 604.0L521.1 601.3L516.9 597.3L515.1 592.1L513.7 588.5L513.2 586.5Z" fill="#5B9BCB" stroke="#333" stroke-width="0.5" stroke-linejoin="round"/><path d="M547.4 580.3L544.7 584.2L541.2 586.5L538.2 588.1L533.7 590.5L531.9 592.1L534.7 594.0L538.7 596.0L541.7 598.0L543.5 600.0L543.7 602.0L543.1 603.9L543.7 605.5L544.7 606.5L545.5 608.0L546.3 609.8L547.2 610.7L548.2 610.7L549.1 609.8L549.9 608.0L550.7 606.5L551.7 605.5L552.3 603.9L551.7 602.0L551.9 600.0L553.7 598.0L556.7 596.0L560.7 594.0L563.5 592.1L561.7 590.5L557.2 588.1L554.2 586.5L550.7 584.2L548.0 580.3Z" fill="#E4694B" stroke="#333" stroke-width="0.5" stroke-linejoin="round"/><line x1="512.9" y1="612.2" x2="512.9" y2="614.2" stroke="#333" stroke-width="0.7"/><line x1="547.7" y1="612.2" x2="547.7" y2="614.2" stroke="#333" stroke-width="0.7"/><line x1="593.5" y1="578.9" x2="593.5" y2="612.7" stroke="#333" stroke-width="0.9"/><line x1="593.1" y1="612.2" x2="670.4" y2="612.2" stroke="#333" stroke-width="0.9"/><line x1="591.7" y1="587.5" x2="593.5" y2="587.5" stroke="#333" stroke-width="0.7"/><text x="587.9" y="589.8" font-size="6.4" fill="#111" textLength="2.99" lengthAdjust="spacingAndGlyphs">2</text><line x1="591.7" y1="599.3" x2="593.5" y2="599.3" stroke="#333" stroke-width="0.7"/><text x="587.9" y="601.6" font-size="6.4" fill="#111" textLength="2.99" lengthAdjust="spacingAndGlyphs">1</text><line x1="591.7" y1="611.1" x2="593.5" y2="611.1" stroke="#333" stroke-width="0.7"/><text x="587.9" y="613.4" font-size="6.4" fill="#111" textLength="2.99" lengthAdjust="spacingAndGlyphs">0</text><text x="631.8" y="574.3" font-size="7.3" text-anchor="middle" font-weight="bold" fill="#111">ITGA5</text><path d="M614.3 586.2L613.7 589.0L613.0 592.1L611.0 597.3L606.4 601.3L602.1 603.3L599.1 604.6L599.4 606.0L601.1 607.2L605.6 608.6L607.4 609.4L604.1 610.2L602.8 610.8L626.4 610.8L625.1 610.2L621.8 609.4L623.6 608.6L628.1 607.2L629.8 606.0L630.1 604.6L627.1 603.3L622.8 601.3L618.2 597.3L616.2 592.1L615.5 589.0L614.9 586.2Z" fill="#5B9BCB" stroke="#333" stroke-width="0.5" stroke-linejoin="round"/><path d="M649.1 580.3L648.4 583.0L647.2 585.5L643.9 587.5L639.9 589.5L635.4 592.5L633.4 595.4L634.9 598.2L637.4 601.3L639.9 604.0L642.2 606.5L643.1 609.0L643.3 610.8L655.5 610.8L655.7 609.0L656.6 606.5L658.9 604.0L661.4 601.3L663.9 598.2L665.4 595.4L663.4 592.5L658.9 589.5L654.9 587.5L651.6 585.5L650.4 583.0L649.7 580.3Z" fill="#E4694B" stroke="#333" stroke-width="0.5" stroke-linejoin="round"/><line x1="614.6" y1="612.2" x2="614.6" y2="614.2" stroke="#333" stroke-width="0.7"/><line x1="649.4" y1="612.2" x2="649.4" y2="614.2" stroke="#333" stroke-width="0.7"/><line x1="390.5" y1="629.6" x2="390.5" y2="663.6" stroke="#333" stroke-width="0.9"/><line x1="390.1" y1="663.1" x2="465.4" y2="663.1" stroke="#333" stroke-width="0.9"/><line x1="388.7" y1="633.5" x2="390.5" y2="633.5" stroke="#333" stroke-width="0.7"/><text x="380.4" y="635.8" font-size="6.4" fill="#111" textLength="7.47" lengthAdjust="spacingAndGlyphs">2.0</text><line x1="388.7" y1="640.5" x2="390.5" y2="640.5" stroke="#333" stroke-width="0.7"/><text x="380.4" y="642.8" font-size="6.4" fill="#111" textLength="7.47" lengthAdjust="spacingAndGlyphs">1.5</text><line x1="388.7" y1="647.3" x2="390.5" y2="647.3" stroke="#333" stroke-width="0.7"/><text x="380.4" y="649.6" font-size="6.4" fill="#111" textLength="7.47" lengthAdjust="spacingAndGlyphs">1.0</text><line x1="388.7" y1="654.2" x2="390.5" y2="654.2" stroke="#333" stroke-width="0.7"/><text x="380.4" y="656.5" font-size="6.4" fill="#111" textLength="7.47" lengthAdjust="spacingAndGlyphs">0.5</text><line x1="388.7" y1="661.1" x2="390.5" y2="661.1" stroke="#333" stroke-width="0.7"/><text x="380.4" y="663.4" font-size="6.4" fill="#111" textLength="7.47" lengthAdjust="spacingAndGlyphs">0.0</text><text x="428.8" y="624.8" font-size="7.3" text-anchor="middle" font-weight="bold" fill="#111">ITGA6</text><line x1="411.5" y1="630.9" x2="411.5" y2="661.1" stroke="#333" stroke-width="0.8"/><line x1="395.7" y1="661.5" x2="427.3" y2="661.5" stroke="#222" stroke-width="1"/><line x1="446.3" y1="630.9" x2="446.3" y2="644" stroke="#333" stroke-width="0.8"/><path d="M446.0 643.4L445.3 644.7L442.3 648.7L438.3 652.6L435.3 655.0L434.3 656.5L437.3 657.5L440.3 658.5L436.3 659.5L430.8 660.5L430.5 661.1L462.1 661.1L461.8 660.5L456.3 659.5L452.3 658.5L455.3 657.5L458.3 656.5L457.3 655.0L454.3 652.6L450.3 648.7L447.3 644.7L446.6 643.4Z" fill="#E4694B" stroke="#333" stroke-width="0.5" stroke-linejoin="round"/><line x1="411.5" y1="663.1" x2="411.5" y2="665.1" stroke="#333" stroke-width="0.7"/><line x1="446.3" y1="663.1" x2="446.3" y2="665.1" stroke="#333" stroke-width="0.7"/><line x1="492.1" y1="629.6" x2="492.1" y2="663.6" stroke="#333" stroke-width="0.9"/><line x1="491.70000000000005" y1="663.1" x2="567.4" y2="663.1" stroke="#333" stroke-width="0.9"/><line x1="490.3" y1="633.5" x2="492.1" y2="633.5" stroke="#333" stroke-width="0.7"/><text x="486.5" y="635.8" font-size="6.4" fill="#111" textLength="2.99" lengthAdjust="spacingAndGlyphs">4</text><line x1="490.3" y1="640.5" x2="492.1" y2="640.5" stroke="#333" stroke-width="0.7"/><text x="486.5" y="642.8" font-size="6.4" fill="#111" textLength="2.99" lengthAdjust="spacingAndGlyphs">3</text><line x1="490.3" y1="647.3" x2="492.1" y2="647.3" stroke="#333" stroke-width="0.7"/><text x="486.5" y="649.6" font-size="6.4" fill="#111" textLength="2.99" lengthAdjust="spacingAndGlyphs">2</text><line x1="490.3" y1="654.2" x2="492.1" y2="654.2" stroke="#333" stroke-width="0.7"/><text x="486.5" y="656.5" font-size="6.4" fill="#111" textLength="2.99" lengthAdjust="spacingAndGlyphs">1</text><line x1="490.3" y1="661.1" x2="492.1" y2="661.1" stroke="#333" stroke-width="0.7"/><text x="486.5" y="663.4" font-size="6.4" fill="#111" textLength="2.99" lengthAdjust="spacingAndGlyphs">0</text><text x="530.3" y="624.8" font-size="7.3" text-anchor="middle" font-weight="bold" fill="#111">ITGB1</text><line x1="512.9" y1="648" x2="512.9" y2="656.5" stroke="#555" stroke-width="0.8"/><path d="M512.6 633.5L511.7 635.5L509.9 637.5L504.9 640.1L500.4 641.8L496.8 643.4L500.9 644.6L504.9 646.0L508.4 647.5L510.9 649.3L512.1 650.5L513.7 650.5L514.9 649.3L517.4 647.5L520.9 646.0L524.9 644.6L529.0 643.4L525.4 641.8L520.9 640.1L515.9 637.5L514.1 635.5L513.2 633.5Z" fill="#5B9BCB" stroke="#333" stroke-width="0.5" stroke-linejoin="round"/><line x1="547.7" y1="650" x2="547.7" y2="661.1" stroke="#555" stroke-width="0.8"/><path d="M547.4 630.9L546.5 633.0L545.2 634.2L537.7 636.2L533.7 637.6L531.6 638.8L533.7 640.0L537.7 641.4L541.2 643.5L543.7 646.0L545.2 648.5L546.2 651.3L547.1 653.0L548.3 653.0L549.2 651.3L550.2 648.5L551.7 646.0L554.2 643.5L557.7 641.4L561.7 640.0L563.8 638.8L561.7 637.6L557.7 636.2L550.2 634.2L548.9 633.0L548.0 630.9Z" fill="#E4694B" stroke="#333" stroke-width="0.5" stroke-linejoin="round"/><line x1="512.9" y1="663.1" x2="512.9" y2="665.1" stroke="#333" stroke-width="0.7"/><line x1="547.7" y1="663.1" x2="547.7" y2="665.1" stroke="#333" stroke-width="0.7"/><line x1="593.5" y1="629.6" x2="593.5" y2="663.6" stroke="#333" stroke-width="0.9"/><line x1="593.1" y1="663.1" x2="670.4" y2="663.1" stroke="#333" stroke-width="0.9"/><line x1="591.7" y1="634.9" x2="593.5" y2="634.9" stroke="#333" stroke-width="0.7"/><text x="583.4" y="637.2" font-size="6.4" fill="#111" textLength="7.47" lengthAdjust="spacingAndGlyphs">1.5</text><line x1="591.7" y1="643.7" x2="593.5" y2="643.7" stroke="#333" stroke-width="0.7"/><text x="583.4" y="646.0" font-size="6.4" fill="#111" textLength="7.47" lengthAdjust="spacingAndGlyphs">1.0</text><line x1="591.7" y1="652.6" x2="593.5" y2="652.6" stroke="#333" stroke-width="0.7"/><text x="583.4" y="654.9" font-size="6.4" fill="#111" textLength="7.47" lengthAdjust="spacingAndGlyphs">0.5</text><line x1="591.7" y1="661.1" x2="593.5" y2="661.1" stroke="#333" stroke-width="0.7"/><text x="583.4" y="663.4" font-size="6.4" fill="#111" textLength="7.47" lengthAdjust="spacingAndGlyphs">0.0</text><text x="631.8" y="624.8" font-size="7.3" text-anchor="middle" font-weight="bold" fill="#111">ITGB4</text><line x1="598.8" y1="661.5" x2="630.3" y2="661.5" stroke="#222" stroke-width="1"/><line x1="614.6" y1="653.3" x2="614.6" y2="661.1" stroke="#333" stroke-width="0.8"/><line x1="633.6" y1="661.5" x2="665.2" y2="661.5" stroke="#222" stroke-width="1"/><line x1="649.4" y1="630.9" x2="649.4" y2="661.1" stroke="#333" stroke-width="0.8"/><line x1="614.6" y1="663.1" x2="614.6" y2="665.1" stroke="#333" stroke-width="0.7"/><line x1="649.4" y1="663.1" x2="649.4" y2="665.1" stroke="#333" stroke-width="0.7"/><circle cx="451" cy="679.7" r="3.7" fill="#5B9BCB"/><text x="461.6" y="683.0" font-size="9.0" fill="#222">pTM-related</text><circle cx="534.8" cy="679.7" r="3.7" fill="#E4694B"/><text x="545.2" y="683.0" font-size="9.0" fill="#222">iPSC-related</text><rect x="198.2" y="725.0" width="95.6" height="8.0" fill="#5E9DC8"/><text x="94.0" y="731.8" font-size="8.3" fill="#000" textLength="95.9" lengthAdjust="spacingAndGlyphs">Signaling by ROBO receptors</text><rect x="198.2" y="738.0" width="95.6" height="8.0" fill="#5E9DC8"/><text x="39.4" y="744.8" font-size="8.3" fill="#000" textLength="150.5" lengthAdjust="spacingAndGlyphs">Regulation of expression of SLITs and ROBOs</text><rect x="198.2" y="750.9" width="95.6" height="8.0" fill="#5E9DC8"/><text x="86.7" y="757.7" font-size="8.3" fill="#000" textLength="103.2" lengthAdjust="spacingAndGlyphs">Cellular response to starvation</text><rect x="198.2" y="763.9" width="95.6" height="8.0" fill="#5E9DC8"/><text x="9.3" y="770.7" font-size="8.3" fill="#000" textLength="180.6" lengthAdjust="spacingAndGlyphs">Response of EIF2AK4 (GCN2) to amino acid deficiency</text><rect x="198.2" y="776.9" width="95.6" height="8.0" fill="#5E9DC8"/><text x="106.6" y="783.7" font-size="8.3" fill="#000" textLength="83.3" lengthAdjust="spacingAndGlyphs">Selenocysteine synthesis</text><rect x="198.2" y="789.9" width="25.7" height="8.0" fill="#5E9DC8"/><text x="80.3" y="796.6" font-size="8.3" fill="#000" textLength="109.6" lengthAdjust="spacingAndGlyphs">Extracellular matrix organization</text><rect x="198.2" y="802.8" width="25.2" height="8.0" fill="#5E9DC8"/><text x="115.3" y="809.6" font-size="8.3" fill="#000" textLength="74.6" lengthAdjust="spacingAndGlyphs">Syndecan interactions</text><rect x="198.2" y="815.8" width="22.0" height="8.0" fill="#5E9DC8"/><text x="39.4" y="822.6" font-size="8.3" fill="#000" textLength="150.5" lengthAdjust="spacingAndGlyphs">Response to elevated platelet cytosolic Ca2+</text><rect x="198.2" y="828.8" width="21.5" height="8.0" fill="#5E9DC8"/><text x="35.6" y="835.6" font-size="8.3" fill="#000" textLength="154.3" lengthAdjust="spacingAndGlyphs">Collagen biosynthesis and modifying enzymes</text><rect x="198.2" y="841.7" width="19.9" height="8.0" fill="#5E9DC8"/><text x="47.6" y="848.5" font-size="8.3" fill="#000" textLength="142.3" lengthAdjust="spacingAndGlyphs">Non-integrin membrane-ECM interactions</text><line x1="198.2" y1="722.7" x2="198.2" y2="851.6" stroke="#999" stroke-width="0.9"/><line x1="198.2" y1="851.3" x2="328.8" y2="851.3" stroke="#999" stroke-width="0.9"/><line x1="198.2" y1="851.3" x2="198.2" y2="854.2" stroke="#999" stroke-width="0.8"/><text x="198.2" y="865.8" font-size="8.0" text-anchor="middle" fill="#111">0.0</text><line x1="230.8" y1="851.3" x2="230.8" y2="854.2" stroke="#999" stroke-width="0.8"/><text x="230.8" y="865.8" font-size="8.0" text-anchor="middle" fill="#111">5.0</text><line x1="263.5" y1="851.3" x2="263.5" y2="854.2" stroke="#999" stroke-width="0.8"/><text x="263.5" y="865.8" font-size="8.0" text-anchor="middle" fill="#111">10.0</text><line x1="296.1" y1="851.3" x2="296.1" y2="854.2" stroke="#999" stroke-width="0.8"/><text x="296.1" y="865.8" font-size="8.0" text-anchor="middle" fill="#111">15.0</text><line x1="328.8" y1="851.3" x2="328.8" y2="854.2" stroke="#999" stroke-width="0.8"/><text x="328.8" y="865.8" font-size="8.0" text-anchor="middle" fill="#111">20.0</text><text x="242.9" y="877.4" font-size="8.2" fill="#111" textLength="41.3" lengthAdjust="spacingAndGlyphs">-log10 (FDR)</text><text x="163.1" y="713.8" font-size="9.8" fill="#111" textLength="97.5" lengthAdjust="spacingAndGlyphs">pTM-related subcluster</text><rect x="534.9" y="725.0" width="115.2" height="8.0" fill="#E07050"/><text x="418.2" y="731.8" font-size="8.3" fill="#000" textLength="108.8" lengthAdjust="spacingAndGlyphs">Integrin cell surface interactions</text><rect x="534.9" y="738.0" width="110.6" height="8.0" fill="#E07050"/><text x="417.4" y="744.8" font-size="8.3" fill="#000" textLength="109.6" lengthAdjust="spacingAndGlyphs">Extracellular matrix organization</text><rect x="534.9" y="750.9" width="108.0" height="8.0" fill="#E07050"/><text x="355.2" y="757.7" font-size="8.3" fill="#000" textLength="171.8" lengthAdjust="spacingAndGlyphs">Transcriptional regulation of pluripotent stem cells</text><rect x="534.9" y="763.9" width="107.7" height="8.0" fill="#E07050"/><text x="460.6" y="770.7" font-size="8.3" fill="#000" textLength="66.4" lengthAdjust="spacingAndGlyphs">L1CAM interactions</text><rect x="534.9" y="776.9" width="106.0" height="8.0" fill="#E07050"/><text x="352.6" y="783.7" font-size="8.3" fill="#000" textLength="174.4" lengthAdjust="spacingAndGlyphs">Insulin-like Growth Factor-2 mRNA Binding Proteins</text><rect x="534.9" y="789.9" width="86.3" height="8.0" fill="#E07050"/><text x="394.9" y="796.6" font-size="8.3" fill="#000" textLength="132.1" lengthAdjust="spacingAndGlyphs">Chemokine receptors bind chemokines</text><rect x="534.9" y="802.8" width="67.0" height="8.0" fill="#E07050"/><text x="490.4" y="809.6" font-size="8.3" fill="#000" textLength="36.6" lengthAdjust="spacingAndGlyphs">Pexophagy</text><rect x="534.9" y="815.8" width="64.7" height="8.0" fill="#E07050"/><text x="352.3" y="822.6" font-size="8.3" fill="#000" textLength="174.7" lengthAdjust="spacingAndGlyphs">Senescence-Associated Secretory Phenotype (SASP)</text><rect x="534.9" y="828.8" width="59.8" height="8.0" fill="#E07050"/><text x="399.3" y="835.6" font-size="8.3" fill="#000" textLength="127.7" lengthAdjust="spacingAndGlyphs">NF-kB is activated and signals survival</text><rect x="534.9" y="841.7" width="56.5" height="8.0" fill="#E07050"/><text x="452.4" y="848.5" font-size="8.3" fill="#000" textLength="74.6" lengthAdjust="spacingAndGlyphs">Syndecan interactions</text><line x1="534.9" y1="722.7" x2="534.9" y2="851.6" stroke="#999" stroke-width="0.9"/><line x1="534.9" y1="851.3" x2="666.2" y2="851.3" stroke="#999" stroke-width="0.9"/><line x1="534.9" y1="851.3" x2="534.9" y2="854.2" stroke="#999" stroke-width="0.8"/><text x="534.9" y="865.8" font-size="8.0" text-anchor="middle" fill="#111">0.0</text><line x1="567.7" y1="851.3" x2="567.7" y2="854.2" stroke="#999" stroke-width="0.8"/><text x="567.7" y="865.8" font-size="8.0" text-anchor="middle" fill="#111">1.0</text><line x1="600.6" y1="851.3" x2="600.6" y2="854.2" stroke="#999" stroke-width="0.8"/><text x="600.6" y="865.8" font-size="8.0" text-anchor="middle" fill="#111">2.0</text><line x1="633.4" y1="851.3" x2="633.4" y2="854.2" stroke="#999" stroke-width="0.8"/><text x="633.4" y="865.8" font-size="8.0" text-anchor="middle" fill="#111">3.0</text><line x1="666.2" y1="851.3" x2="666.2" y2="854.2" stroke="#999" stroke-width="0.8"/><text x="666.2" y="865.8" font-size="8.0" text-anchor="middle" fill="#111">4.0</text><text x="580.0" y="877.4" font-size="8.2" fill="#111" textLength="41.3" lengthAdjust="spacingAndGlyphs">-log10 (FDR)</text><text x="505.6" y="713.8" font-size="9.8" fill="#111" textLength="97.5" lengthAdjust="spacingAndGlyphs">iPSC-related subcluster</text><path d="M14.9 163.1V208.7H59.5" fill="none" stroke="#111" stroke-width="1.5"/><path d="M14.9 159.6l-2.3 4.2h4.6z" fill="#111"/><path d="M63.0 208.7l-4.2 -2.3v4.6z" fill="#111"/><text transform="translate(10.8 183.7) rotate(-90)" font-size="10.2" text-anchor="middle" fill="#111">UMAP2</text><text x="21.6" y="221.8" font-size="10.2" fill="#111">UMAP1</text><path d="M18.5 400.7V446.0H62.900000000000006" fill="none" stroke="#111" stroke-width="1.5"/><path d="M18.5 397.2l-2.3 4.2h4.6z" fill="#111"/><path d="M66.4 446.0l-4.2 -2.3v4.6z" fill="#111"/><text transform="translate(14.6 421.5) rotate(-90)" font-size="10.2" text-anchor="middle" fill="#111">UMAP2</text><text x="25.7" y="458.5" font-size="10.2" fill="#111">UMAP1</text><path d="M16.5 624.9V669.6H61.0" fill="none" stroke="#111" stroke-width="1.5"/><path d="M16.5 621.4l-2.3 4.2h4.6z" fill="#111"/><path d="M64.5 669.6l-4.2 -2.3v4.6z" fill="#111"/><text transform="translate(12.8 645.0) rotate(-90)" font-size="10.2" text-anchor="middle" fill="#111">UMAP2</text><text x="23.6" y="682.7" font-size="10.2" fill="#111">UMAP1</text><text x="4.0" y="16.8" font-size="22" font-weight="bold" fill="#000">a</text><text x="237.0" y="17.3" font-size="22" font-weight="bold" fill="#000">b</text><text x="451.3" y="17.3" font-size="22" font-weight="bold" fill="#000">c</text><text x="3.0" y="243.7" font-size="22" font-weight="bold" fill="#000">d</text><text x="385.6" y="243.7" font-size="22" font-weight="bold" fill="#000">e</text><text x="2.5" y="492.1" font-size="22" font-weight="bold" fill="#000">f</text><text x="226.7" y="491.8" font-size="22" font-weight="bold" fill="#000">g</text><text x="355.2" y="491.9" font-size="22" font-weight="bold" fill="#000">h</text><text x="356.6" y="567.0" font-size="22" font-weight="bold" fill="#000">i</text><text x="3.0" y="712.0" font-size="22" font-weight="bold" fill="#000">j</text></svg></body></html>
